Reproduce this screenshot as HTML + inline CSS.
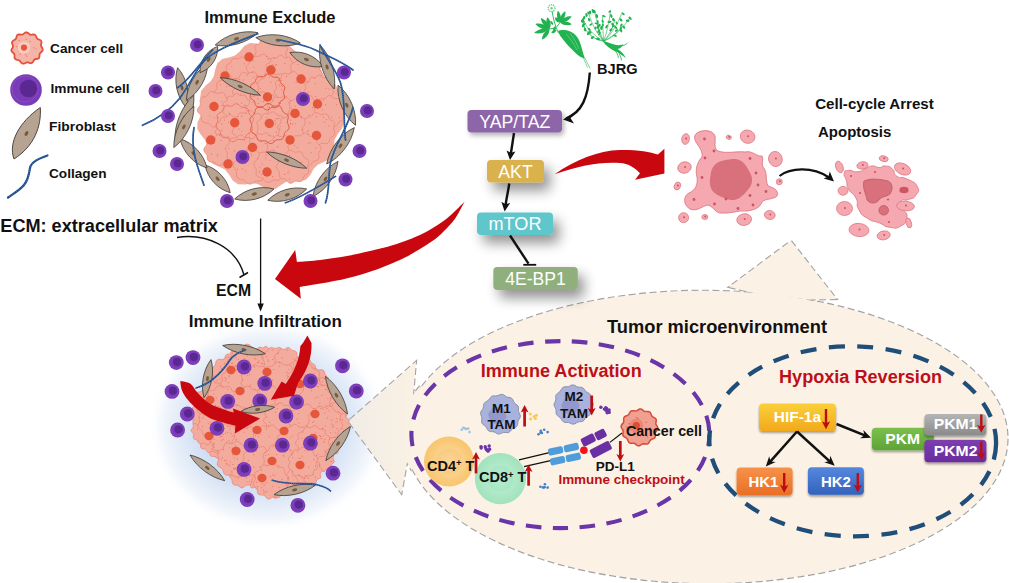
<!DOCTYPE html>
<html lang="en"><head><meta charset="utf-8"><title>BJRG mechanism</title>
<style>html,body{margin:0;padding:0;background:#fff;}body{width:1009px;height:583px;overflow:hidden;}svg{display:block;}</style>
</head><body>
<svg width="1009" height="583" viewBox="0 0 1009 583" font-family='"Liberation Sans", Arial, Helvetica, sans-serif'>
<defs>
<filter id="sh" x="-30%" y="-50%" width="180%" height="260%"><feGaussianBlur in="SourceAlpha" stdDeviation="6.5"/><feOffset dx="6" dy="8"/><feComponentTransfer><feFuncA type="linear" slope="0.43"/></feComponentTransfer><feMerge><feMergeNode/><feMergeNode in="SourceGraphic"/></feMerge></filter>
<filter id="sh2" x="-30%" y="-50%" width="180%" height="260%"><feGaussianBlur in="SourceAlpha" stdDeviation="2.5"/><feOffset dx="2" dy="3"/><feComponentTransfer><feFuncA type="linear" slope="0.3"/></feComponentTransfer><feMerge><feMergeNode/><feMergeNode in="SourceGraphic"/></feMerge></filter>
<filter id="sh3" x="-10%" y="-20%" width="120%" height="150%"><feGaussianBlur in="SourceAlpha" stdDeviation="1.2"/><feOffset dx="0" dy="1.5"/><feComponentTransfer><feFuncA type="linear" slope="0.35"/></feComponentTransfer><feMerge><feMergeNode/><feMergeNode in="SourceGraphic"/></feMerge></filter>
<linearGradient id="tipg" gradientUnits="userSpaceOnUse" x1="348" y1="0" x2="416" y2="0"><stop offset="0" stop-color="#f0ece6"/><stop offset="1" stop-color="#fbf1e4"/></linearGradient>
<radialGradient id="glow"><stop offset="0" stop-color="#c9d9f1"/><stop offset="0.58" stop-color="#d0def3"/><stop offset="0.76" stop-color="#e4ecf8"/><stop offset="0.9" stop-color="#f5f8fc"/><stop offset="1" stop-color="#ffffff" stop-opacity="0"/></radialGradient>
<linearGradient id="gY" x1="0" y1="0" x2="0" y2="1"><stop offset="0" stop-color="#fbd03a"/><stop offset="1" stop-color="#f2a91c"/></linearGradient>
<linearGradient id="gO" x1="0" y1="0" x2="0" y2="1"><stop offset="0" stop-color="#f6924a"/><stop offset="1" stop-color="#e96f25"/></linearGradient>
<linearGradient id="gB" x1="0" y1="0" x2="0" y2="1"><stop offset="0" stop-color="#5588dd"/><stop offset="1" stop-color="#3262bd"/></linearGradient>
<linearGradient id="gG" x1="0" y1="0" x2="0" y2="1"><stop offset="0" stop-color="#7cc04e"/><stop offset="1" stop-color="#5ea336"/></linearGradient>
<linearGradient id="gGr" x1="0" y1="0" x2="0" y2="1"><stop offset="0" stop-color="#b5b5b5"/><stop offset="1" stop-color="#8a8a8a"/></linearGradient>
<linearGradient id="gP" x1="0" y1="0" x2="0" y2="1"><stop offset="0" stop-color="#7d3fb0"/><stop offset="1" stop-color="#6a2c9c"/></linearGradient>
<radialGradient id="cd4"><stop offset="0" stop-color="#fbd595"/><stop offset="0.5" stop-color="#f9cb80"/><stop offset="0.52" stop-color="#fad18c"/><stop offset="0.8" stop-color="#f9c977"/><stop offset="1" stop-color="#f8c670"/></radialGradient>
<radialGradient id="cd8"><stop offset="0" stop-color="#b7ecd0"/><stop offset="0.5" stop-color="#a7e6c3"/><stop offset="0.52" stop-color="#b2e9ca"/><stop offset="1" stop-color="#a0e3bd"/></radialGradient>
<marker id="ah" viewBox="0 0 10 10" refX="7" refY="5" markerWidth="5" markerHeight="5" orient="auto-start-reverse" markerUnits="strokeWidth"><path d="M0,0.5 L10,5 L0,9.5 L2.5,5Z" fill="#111"/></marker>
</defs>
<rect width="1009" height="583" fill="#ffffff"/>
<ellipse cx="268" cy="426" rx="120" ry="106" fill="url(#glow)"/>
<ellipse cx="706" cy="437" rx="301.5" ry="146.2" transform="rotate(0.35 706 437)" fill="#fbf1e4" stroke="#a3a3a3" stroke-width="2.2" stroke-dasharray="7 3.5"/>
<path d="M420,386 L413,395 L416,361.6 L348.5,421 L401.4,493.4 L407,462.3 L412,471" fill="#fbf1e4" stroke="#a3a3a3" stroke-width="2.2" stroke-dasharray="7 3.5"/>
<path d="M756,293.5 L729,287 L791,241 L836.5,299 L810,299.5" fill="#fbf1e4" stroke="#a3a3a3" stroke-width="2.2" stroke-dasharray="7 3.5"/>
<ellipse cx="706" cy="437" rx="301.5" ry="146.2" transform="rotate(0.35 706 437)" fill="#fbf1e4"/>
<path d="M420,386 L413,395 L416,361.6 L348.5,421 L401.4,493.4 L407,462.3 L412,471" fill="url(#tipg)"/>
<path d="M756,293.5 L729,287 L791,241 L836.5,299 L810,299.5" fill="#fbf1e4"/>
<path d="M420,386 L412,471 L409,440 Z" fill="#fbf1e4"/>
<ellipse cx="560.4" cy="434.6" rx="149" ry="93.5" fill="none" stroke="#6a35a8" stroke-width="4.1" stroke-dasharray="15.5 11.5" stroke-dashoffset="4"/>
<ellipse cx="852.7" cy="441.3" rx="143.4" ry="95" fill="none" stroke="#1f4e79" stroke-width="4.3" stroke-dasharray="16 12.5" transform="rotate(1 852.7 441.3)"/>
<path d="M42.3,48.1 L42.8,49.5 L42.4,50.9 L41.3,52.0 L40.2,53.0 L39.6,54.1 L39.5,55.4 L39.4,56.9 L38.8,58.2 L37.5,58.8 L36.0,59.0 L34.7,59.4 L33.9,60.3 L33.1,61.7 L32.2,62.8 L30.9,63.2 L29.4,62.9 L28.1,62.4 L26.8,62.4 L25.5,63.0 L24.1,63.7 L22.6,63.7 L21.4,62.9 L20.5,61.7 L19.6,60.6 L18.5,60.0 L17.0,59.8 L15.6,59.3 L14.7,58.3 L14.5,56.7 L14.5,55.2 L14.2,54.0 L13.3,53.0 L12.1,52.0 L11.4,50.8 L11.6,49.4 L12.3,48.1 L12.9,46.9 L12.9,45.6 L12.4,44.2 L12.0,42.7 L12.4,41.4 L13.5,40.4 L14.8,39.7 L15.8,38.9 L16.3,37.6 L16.7,36.1 L17.5,34.8 L18.9,34.3 L20.4,34.5 L21.9,34.6 L23.1,34.3 L24.2,33.4 L25.4,32.5 L26.8,32.4 L28.1,33.1 L29.3,34.1 L30.4,34.8 L31.7,34.7 L33.2,34.5 L34.6,34.6 L35.7,35.5 L36.3,36.8 L36.8,38.1 L37.7,39.0 L39.0,39.5 L40.5,40.2 L41.4,41.3 L41.5,42.8 L41.1,44.3 L41.0,45.6 L41.5,46.8Z" fill="#f4b4a7" stroke="#e2523a" stroke-width="1.8"/>
<circle cx="26.6" cy="56.2" r="0.6" fill="#e4705f"/>
<circle cx="20.1" cy="54.3" r="0.6" fill="#e4705f"/>
<circle cx="22.2" cy="44.2" r="0.6" fill="#e4705f"/>
<circle cx="36.0" cy="48.8" r="0.6" fill="#e4705f"/>
<circle cx="25.6" cy="54.4" r="0.6" fill="#e4705f"/>
<circle cx="33.8" cy="47.8" r="0.6" fill="#e4705f"/>
<circle cx="30.0" cy="41.3" r="0.6" fill="#e4705f"/>
<circle cx="22.2" cy="43.5" r="0.6" fill="#e4705f"/>
<circle cx="19.2" cy="40.4" r="0.6" fill="#e4705f"/>
<circle cx="16.7" cy="46.6" r="0.6" fill="#e4705f"/>
<circle cx="23.4" cy="43.3" r="0.6" fill="#e4705f"/>
<circle cx="26.4" cy="39.5" r="0.6" fill="#e4705f"/>
<circle cx="24" cy="47.6" r="6.2" fill="#f8cbc0"/><circle cx="24" cy="47.6" r="3.1" fill="#e5563b"/>
<text x="50" y="52.5" font-size="13.5" fill="#111" font-weight="bold" text-anchor="start" textLength="73" lengthAdjust="spacingAndGlyphs" >Cancer cell</text>
<circle cx="26" cy="90" r="15.8" fill="#7a3bb8"/><circle cx="25" cy="89" r="13" fill="none" stroke="#9a63d0" stroke-width="0.8" opacity="0.5"/><circle cx="28.5" cy="88.5" r="8.8" fill="#5b2790"/>
<text x="50.5" y="92.5" font-size="13.5" fill="#111" font-weight="bold" text-anchor="start" textLength="79" lengthAdjust="spacingAndGlyphs" >Immune cell</text>
<path d="M40.3,107.5 C41.5,126 34.5,146 14,159 C8,143 19,122 40.3,107.5Z" fill="#b7a391" stroke="#3b3632" stroke-width="0.9" stroke-linejoin="round"/>
<ellipse cx="26.5" cy="133.5" rx="2.6" ry="1.7" fill="#7b5b3c" transform="rotate(-60 26.5 133.5)"/>
<text x="49" y="130.5" font-size="13.5" fill="#111" font-weight="bold" text-anchor="start" textLength="67" lengthAdjust="spacingAndGlyphs" >Fibroblast</text>
<path d="M47.5,155.5 C38,159 31,162 30,168 C29,175 28,180 24,185 C20,190 13,194 8,197.5" fill="none" stroke="#1b4a8c" stroke-width="2.2" stroke-linecap="round"/>
<path d="M47.5,155.5 C38,159 31,162 30,168 C29,175 28,180 24,185 C20,190 13,194 8,197.5" fill="none" stroke="#7fa6dc" stroke-width="0.6" stroke-dasharray="0.8 1.3"/>
<text x="49" y="178" font-size="13.5" fill="#111" font-weight="bold" text-anchor="start" textLength="57.5" lengthAdjust="spacingAndGlyphs" >Collagen</text>
<text x="204.5" y="23" font-size="16.5" fill="#111" font-weight="bold" text-anchor="start" textLength="131" lengthAdjust="spacingAndGlyphs" >Immune Exclude</text>
<text x="0.3" y="232.3" font-size="17.6" fill="#111" font-weight="bold" text-anchor="start" textLength="217.5" lengthAdjust="spacingAndGlyphs" >ECM: extracellular matrix</text>
<text x="216" y="295.6" font-size="16.5" fill="#111" font-weight="bold" text-anchor="start" textLength="35" lengthAdjust="spacingAndGlyphs" >ECM</text>
<text x="188.8" y="326.5" font-size="17" fill="#111" font-weight="bold" text-anchor="start" textLength="153" lengthAdjust="spacingAndGlyphs" >Immune Infiltration</text>
<path d="M177,237.5 C205,233 236,246 244,275" fill="none" stroke="#111" stroke-width="1.4"/>
<path d="M239.5,277.5 L248,272.5" fill="none" stroke="#111" stroke-width="1.6"/>
<path d="M260.6,218.5 L260.6,305" stroke="#111" stroke-width="1.3" fill="none"/>
<path d="M257.4,303.5 L260.6,311.5 L263.8,303.5Z" fill="#111"/>
<path d="M342.5,116.0 L344.0,122.6 L341.7,128.9 L337.4,134.4 L334.5,139.9 L334.1,146.4 L333.5,153.3 L330.0,158.8 L323.9,162.1 L317.7,164.7 L313.5,169.0 L310.3,174.9 L306.0,179.8 L299.7,181.5 L292.9,180.9 L286.9,181.5 L281.5,184.8 L275.8,188.7 L269.5,189.7 L263.3,187.2 L257.6,184.0 L251.7,183.2 L244.8,184.4 L238.0,184.2 L232.7,180.4 L229.0,174.5 L225.0,169.6 L219.3,166.7 L212.9,164.0 L208.5,159.2 L207.2,152.3 L207.0,145.4 L204.9,139.7 L200.7,134.6 L197.3,128.9 L197.5,122.4 L200.5,116.0 L202.6,110.1 L201.9,104.0 L200.2,97.3 L201.1,90.9 L205.4,85.8 L210.5,81.6 L213.7,76.5 L215.1,69.9 L217.3,63.3 L222.2,59.1 L228.9,57.4 L235.0,55.6 L239.7,51.5 L244.3,46.1 L250.1,43.0 L256.9,43.6 L263.4,45.9 L269.5,46.3 L275.7,44.3 L282.3,42.8 L288.4,44.7 L293.4,49.6 L298.0,54.2 L303.7,56.2 L310.4,57.0 L316.3,59.7 L319.7,65.3 L321.7,71.8 L324.8,76.9 L330.1,80.6 L335.7,84.8 L338.4,90.7 L337.9,97.5 L337.2,103.9 L339.0,109.9Z" fill="#f3ab9e"/>
<path d="M285.9,52.6 L285.7,53.9 L286.1,55.2 L286.7,56.8 L286.9,58.4 L286.2,59.7 L284.8,60.6 L283.3,61.2 L282.3,62.1 L281.7,63.3 L281.3,65.0 L280.6,66.4 L279.4,67.2 L277.8,67.2 L276.1,66.9 L274.8,66.9 L273.5,67.4 L272.3,68.5 L270.9,69.4 L269.4,69.5 L268.1,68.7 L266.9,67.5 L265.9,66.5 L264.6,66.1 L263.0,66.2 L261.4,66.2 L260.0,65.6 L259.2,64.3 L259.0,62.6 L258.7,61.1 L258.0,60.0 L256.8,59.2 L255.4,58.2 L254.5,57.0 L254.5,55.5 L255.2,53.9 L255.9,52.6 L256.2,51.3 L255.7,49.9 L255.1,48.3 L255.0,46.8 L255.7,45.4 L257.1,44.6 L258.5,43.9 L259.6,43.1 L260.1,41.8 L260.5,40.2 L261.2,38.7 L262.5,37.9 L264.1,37.9 L265.7,38.2 L267.1,38.3 L268.3,37.7 L269.5,36.6 L270.9,35.8 L272.4,35.6 L273.8,36.4 L274.9,37.6 L276.0,38.6 L277.3,39.0 L278.8,38.9 L280.5,38.9 L281.9,39.5 L282.6,40.9 L282.9,42.5 L283.1,44.0 L283.8,45.1 L285.1,46.0 L286.5,46.9 L287.4,48.2 L287.4,49.7 L286.7,51.2Z" fill="#f3ab9e" stroke="#e98674" stroke-width="0.75"/>
<path d="M254.5,72.2 L253.8,73.4 L253.6,74.6 L253.9,75.9 L254.4,77.3 L254.3,78.7 L253.4,79.8 L252.1,80.5 L250.7,81.0 L249.8,81.7 L249.3,82.9 L248.8,84.4 L248.0,85.6 L246.7,86.1 L245.3,85.9 L243.8,85.5 L242.6,85.4 L241.5,86.0 L240.3,86.9 L238.9,87.5 L237.6,87.4 L236.5,86.5 L235.5,85.3 L234.6,84.4 L233.4,84.1 L232.0,84.1 L230.5,83.9 L229.4,83.1 L228.9,81.8 L228.8,80.3 L228.6,79.0 L228.0,78.0 L226.8,77.1 L225.7,76.1 L225.1,74.9 L225.3,73.5 L226.1,72.2 L226.8,71.0 L227.0,69.9 L226.6,68.6 L226.2,67.1 L226.3,65.7 L227.1,64.6 L228.5,64.0 L229.8,63.5 L230.8,62.7 L231.3,61.5 L231.8,60.1 L232.6,58.9 L233.8,58.4 L235.3,58.5 L236.7,58.9 L237.9,59.0 L239.1,58.4 L240.3,57.6 L241.6,56.9 L242.9,57.1 L244.1,58.0 L245.0,59.2 L245.9,60.0 L247.1,60.4 L248.6,60.3 L250.1,60.5 L251.2,61.3 L251.7,62.6 L251.8,64.2 L251.9,65.5 L252.6,66.5 L253.7,67.3 L254.9,68.3 L255.5,69.5 L255.3,70.9Z" fill="#f3ab9e" stroke="#e98674" stroke-width="0.75"/>
<path d="M276.5,69.4 L277.0,70.8 L276.9,72.1 L276.3,73.4 L275.3,74.4 L274.2,75.3 L273.4,76.2 L272.8,77.3 L272.5,78.6 L272.2,80.0 L271.6,81.3 L270.6,82.2 L269.2,82.6 L267.8,82.6 L266.4,82.5 L265.1,82.5 L264.0,82.9 L262.9,83.6 L261.6,84.3 L260.3,84.8 L258.9,84.7 L257.7,84.1 L256.7,83.1 L255.8,82.0 L254.9,81.2 L253.8,80.6 L252.5,80.3 L251.1,80.0 L249.8,79.4 L248.9,78.4 L248.5,77.0 L248.5,75.6 L248.6,74.2 L248.6,72.9 L248.2,71.8 L247.5,70.7 L246.7,69.4 L246.3,68.1 L246.3,66.7 L247.0,65.5 L248.0,64.5 L249.1,63.6 L249.9,62.7 L250.4,61.6 L250.8,60.3 L251.1,58.9 L251.7,57.6 L252.7,56.7 L254.1,56.3 L255.5,56.3 L256.9,56.4 L258.1,56.4 L259.3,56.0 L260.4,55.3 L261.6,54.5 L263.0,54.1 L264.3,54.1 L265.6,54.8 L266.6,55.8 L267.5,56.9 L268.4,57.7 L269.5,58.2 L270.8,58.6 L272.2,58.9 L273.5,59.5 L274.4,60.5 L274.8,61.8 L274.8,63.3 L274.7,64.7 L274.7,65.9 L275.1,67.1 L275.8,68.2Z" fill="#f3ab9e" stroke="#e98674" stroke-width="0.75"/>
<path d="M296.7,71.5 L297.4,72.9 L297.1,74.3 L296.0,75.4 L294.7,76.4 L294.1,77.5 L294.2,79.0 L294.2,80.6 L293.7,82.0 L292.4,82.7 L290.7,82.9 L289.3,83.1 L288.4,84.0 L287.7,85.5 L286.7,86.8 L285.4,87.2 L283.8,86.7 L282.4,85.9 L281.2,85.7 L279.8,86.3 L278.4,87.1 L276.9,87.3 L275.7,86.5 L274.8,85.0 L274.0,83.8 L272.8,83.3 L271.3,83.2 L269.7,82.9 L268.7,81.9 L268.4,80.4 L268.5,78.7 L268.2,77.5 L267.2,76.5 L265.9,75.6 L265.0,74.3 L265.2,72.9 L266.1,71.5 L266.9,70.2 L266.9,69.0 L266.4,67.5 L265.9,65.9 L266.3,64.6 L267.6,63.6 L269.2,63.1 L270.2,62.3 L270.7,61.0 L271.0,59.4 L271.8,58.1 L273.1,57.5 L274.7,57.7 L276.2,58.0 L277.4,57.6 L278.5,56.5 L279.7,55.4 L281.2,55.1 L282.5,55.8 L283.7,57.0 L284.8,57.7 L286.2,57.7 L287.8,57.3 L289.3,57.3 L290.4,58.2 L291.0,59.8 L291.3,61.3 L292.1,62.2 L293.5,62.8 L295.1,63.4 L296.0,64.5 L296.0,66.1 L295.5,67.6 L295.2,69.0 L295.7,70.2Z" fill="#f3ab9e" stroke="#e98674" stroke-width="0.75"/>
<path d="M321.6,72.3 L322.1,73.8 L321.8,75.2 L320.9,76.4 L319.7,77.5 L318.7,78.5 L318.2,79.6 L318.0,81.0 L317.8,82.6 L317.3,84.0 L316.2,85.0 L314.7,85.3 L313.1,85.4 L311.7,85.5 L310.6,86.0 L309.5,87.0 L308.4,88.1 L307.0,88.8 L305.6,88.8 L304.2,88.1 L303.0,87.2 L301.8,86.3 L300.6,86.0 L299.2,86.1 L297.6,86.2 L296.1,85.9 L295.0,85.0 L294.4,83.6 L294.1,82.0 L293.7,80.6 L293.0,79.6 L291.9,78.7 L290.6,77.8 L289.6,76.6 L289.4,75.2 L289.8,73.7 L290.6,72.3 L291.2,71.1 L291.3,69.8 L291.0,68.4 L290.6,66.9 L290.6,65.4 L291.3,64.1 L292.6,63.2 L294.1,62.7 L295.4,62.1 L296.3,61.2 L296.9,59.9 L297.6,58.5 L298.6,57.4 L300.0,56.9 L301.5,57.0 L303.0,57.5 L304.3,57.9 L305.6,57.8 L306.9,57.3 L308.4,56.6 L309.9,56.4 L311.2,56.9 L312.3,58.0 L313.1,59.3 L313.9,60.5 L314.9,61.2 L316.3,61.6 L317.8,62.1 L319.1,62.9 L319.9,64.1 L320.0,65.6 L319.7,67.2 L319.6,68.6 L319.9,69.8 L320.7,71.0Z" fill="#f3ab9e" stroke="#e98674" stroke-width="0.75"/>
<path d="M245.6,91.8 L244.8,93.1 L244.1,94.3 L243.6,95.4 L243.5,96.7 L243.6,98.1 L243.6,99.6 L243.2,101.0 L242.4,102.0 L241.1,102.7 L239.6,103.1 L238.3,103.4 L237.1,103.8 L236.2,104.7 L235.3,105.7 L234.2,106.8 L233.0,107.5 L231.6,107.6 L230.2,107.2 L228.9,106.5 L227.8,105.7 L226.6,105.2 L225.4,105.1 L223.9,105.2 L222.5,105.2 L221.1,104.9 L220.0,104.0 L219.3,102.7 L218.9,101.3 L218.7,99.9 L218.2,98.8 L217.4,97.8 L216.3,96.9 L215.2,95.8 L214.5,94.6 L214.4,93.2 L214.8,91.8 L215.6,90.5 L216.3,89.4 L216.8,88.2 L216.9,87.0 L216.8,85.6 L216.8,84.1 L217.2,82.7 L218.0,81.6 L219.3,80.9 L220.8,80.6 L222.1,80.3 L223.3,79.8 L224.2,79.0 L225.1,77.9 L226.2,76.9 L227.4,76.1 L228.8,76.0 L230.2,76.4 L231.5,77.2 L232.6,77.9 L233.8,78.4 L235.0,78.5 L236.5,78.4 L237.9,78.4 L239.3,78.8 L240.4,79.6 L241.1,80.9 L241.5,82.4 L241.7,83.7 L242.2,84.9 L243.0,85.8 L244.1,86.8 L245.2,87.8 L245.9,89.1 L246.0,90.4Z" fill="#f3ab9e" stroke="#e98674" stroke-width="0.75"/>
<path d="M266.6,88.6 L266.8,90.2 L266.3,91.6 L265.2,92.9 L264.0,93.9 L263.2,95.0 L262.9,96.4 L262.8,98.0 L262.6,99.6 L261.8,101.0 L260.5,101.8 L258.8,102.0 L257.2,102.1 L255.9,102.4 L254.8,103.2 L253.7,104.4 L252.4,105.5 L251.0,106.0 L249.4,105.8 L248.0,104.9 L246.7,103.9 L245.5,103.3 L244.1,103.2 L242.5,103.4 L240.9,103.5 L239.4,102.9 L238.4,101.8 L237.9,100.2 L237.6,98.6 L237.0,97.3 L236.0,96.4 L234.7,95.5 L233.4,94.5 L232.6,93.2 L232.6,91.6 L233.2,90.1 L233.9,88.6 L234.3,87.3 L234.2,85.9 L233.7,84.4 L233.4,82.8 L233.6,81.2 L234.6,80.1 L236.1,79.3 L237.6,78.7 L238.7,77.9 L239.5,76.7 L240.1,75.3 L240.9,73.8 L242.1,72.8 L243.6,72.5 L245.2,72.9 L246.7,73.3 L248.1,73.5 L249.4,73.1 L250.9,72.4 L252.4,71.8 L254.0,71.8 L255.3,72.5 L256.3,73.8 L257.2,75.2 L258.2,76.2 L259.4,76.7 L261.0,77.1 L262.6,77.6 L263.8,78.6 L264.3,80.1 L264.2,81.7 L264.0,83.3 L264.1,84.7 L264.7,85.9 L265.7,87.2Z" fill="#f3ab9e" stroke="#e98674" stroke-width="0.75"/>
<path d="M290.3,90.2 L289.9,91.6 L289.9,93.0 L290.3,94.5 L290.6,96.2 L290.5,97.8 L289.9,99.2 L288.6,100.3 L287.1,101.0 L285.6,101.6 L284.3,102.3 L283.4,103.3 L282.5,104.6 L281.6,106.0 L280.4,107.1 L278.9,107.7 L277.3,107.5 L275.7,106.9 L274.2,106.3 L272.9,105.9 L271.5,105.9 L269.9,106.3 L268.3,106.6 L266.6,106.5 L265.2,105.9 L264.1,104.6 L263.4,103.1 L262.9,101.6 L262.2,100.3 L261.2,99.4 L259.8,98.5 L258.4,97.6 L257.3,96.4 L256.8,94.9 L256.9,93.3 L257.5,91.7 L258.2,90.2 L258.6,88.8 L258.5,87.4 L258.2,85.9 L257.8,84.2 L257.9,82.6 L258.6,81.2 L259.8,80.1 L261.4,79.4 L262.9,78.8 L264.1,78.2 L265.1,77.1 L265.9,75.8 L266.9,74.4 L268.1,73.3 L269.6,72.8 L271.2,72.9 L272.8,73.5 L274.2,74.1 L275.6,74.5 L277.0,74.5 L278.5,74.2 L280.2,73.8 L281.8,73.9 L283.3,74.6 L284.3,75.8 L285.0,77.3 L285.6,78.8 L286.3,80.1 L287.3,81.1 L288.6,81.9 L290.0,82.8 L291.1,84.1 L291.7,85.5 L291.6,87.2 L291.0,88.7Z" fill="#f3ab9e" stroke="#e98674" stroke-width="0.75"/>
<path d="M308.2,89.3 L307.6,90.7 L307.6,92.1 L308.2,93.7 L308.6,95.4 L308.3,96.9 L307.1,98.0 L305.4,98.7 L304.0,99.4 L303.1,100.5 L302.6,102.0 L302.0,103.7 L301.0,104.9 L299.4,105.2 L297.7,104.9 L296.1,104.6 L294.7,104.7 L293.4,105.6 L292.0,106.6 L290.4,107.2 L288.9,106.8 L287.6,105.6 L286.6,104.3 L285.4,103.5 L283.9,103.3 L282.2,103.4 L280.5,103.0 L279.4,101.9 L279.0,100.3 L278.9,98.5 L278.5,97.1 L277.5,96.1 L276.1,95.1 L274.8,93.9 L274.4,92.4 L274.8,90.8 L275.8,89.3 L276.4,88.0 L276.4,86.6 L275.8,85.0 L275.4,83.3 L275.7,81.7 L276.9,80.6 L278.6,79.9 L280.0,79.2 L280.9,78.2 L281.4,76.7 L282.0,75.0 L283.0,73.8 L284.6,73.4 L286.3,73.7 L287.9,74.1 L289.3,73.9 L290.6,73.1 L292.0,72.0 L293.6,71.5 L295.1,71.9 L296.4,73.1 L297.4,74.4 L298.6,75.2 L300.1,75.3 L301.8,75.3 L303.5,75.6 L304.6,76.7 L305.0,78.4 L305.2,80.1 L305.5,81.5 L306.5,82.6 L307.9,83.5 L309.2,84.7 L309.6,86.2 L309.2,87.8Z" fill="#f3ab9e" stroke="#e98674" stroke-width="0.75"/>
<path d="M332.9,90.3 L333.7,91.6 L333.8,92.9 L333.0,94.0 L331.7,94.9 L330.9,95.8 L330.6,97.0 L330.7,98.6 L330.5,100.0 L329.5,100.9 L328.0,101.1 L326.6,101.2 L325.5,101.7 L324.8,102.9 L324.0,104.2 L322.8,104.9 L321.4,104.7 L320.1,104.0 L318.9,103.5 L317.7,103.7 L316.4,104.4 L315.0,104.8 L313.8,104.4 L312.9,103.2 L312.2,101.9 L311.3,101.1 L310.0,100.9 L308.5,100.7 L307.3,100.0 L306.8,98.7 L306.9,97.2 L306.9,95.9 L306.3,94.9 L305.1,94.0 L304.1,92.9 L303.9,91.6 L304.6,90.3 L305.5,89.1 L305.9,88.0 L305.6,86.7 L305.1,85.2 L305.2,83.9 L306.1,82.9 L307.5,82.3 L308.8,81.8 L309.4,80.8 L309.8,79.4 L310.3,78.0 L311.4,77.2 L312.8,77.2 L314.3,77.6 L315.5,77.5 L316.5,76.8 L317.6,75.7 L318.9,75.1 L320.2,75.5 L321.3,76.5 L322.3,77.5 L323.5,77.7 L324.9,77.5 L326.4,77.3 L327.6,77.9 L328.2,79.2 L328.5,80.7 L329.0,81.8 L330.1,82.5 L331.5,83.0 L332.6,83.9 L332.9,85.2 L332.5,86.6 L332.0,88.0 L332.1,89.1Z" fill="#f3ab9e" stroke="#e98674" stroke-width="0.75"/>
<path d="M231.5,109.1 L232.2,110.5 L232.9,112.2 L232.9,113.8 L232.2,115.2 L230.9,116.3 L229.5,117.2 L228.3,118.1 L227.7,119.4 L227.3,121.0 L226.8,122.6 L225.8,123.9 L224.4,124.6 L222.6,124.5 L221.0,124.3 L219.5,124.3 L218.2,124.9 L216.9,125.8 L215.4,126.8 L213.9,127.1 L212.3,126.7 L211.0,125.6 L209.9,124.3 L208.8,123.4 L207.4,123.0 L205.8,122.9 L204.1,122.6 L202.6,121.9 L201.8,120.6 L201.5,118.9 L201.4,117.2 L201.2,115.7 L200.4,114.6 L199.2,113.4 L198.0,112.2 L197.4,110.7 L197.6,109.1 L198.4,107.6 L199.5,106.3 L200.2,105.0 L200.4,103.6 L200.2,102.0 L200.1,100.2 L200.6,98.7 L201.8,97.6 L203.4,97.0 L205.0,96.7 L206.4,96.2 L207.4,95.2 L208.3,93.8 L209.4,92.5 L210.7,91.6 L212.3,91.5 L213.9,92.1 L215.4,92.9 L216.8,93.4 L218.2,93.3 L219.8,92.8 L221.5,92.5 L223.1,92.7 L224.4,93.6 L225.2,95.1 L225.8,96.7 L226.6,97.9 L227.7,98.8 L229.2,99.4 L230.7,100.2 L231.9,101.4 L232.2,103.0 L231.9,104.7 L231.4,106.3 L231.1,107.7Z" fill="#f3ab9e" stroke="#e98674" stroke-width="0.75"/>
<path d="M252.6,108.7 L252.8,110.0 L251.9,111.2 L250.8,112.2 L250.1,113.2 L250.0,114.4 L250.3,116.0 L250.1,117.4 L249.1,118.3 L247.6,118.7 L246.2,118.9 L245.3,119.6 L244.7,120.9 L243.9,122.2 L242.8,123.0 L241.4,122.8 L240.0,122.2 L238.7,121.9 L237.6,122.3 L236.3,123.2 L234.9,123.6 L233.7,123.2 L232.7,122.0 L231.9,120.8 L230.9,120.2 L229.5,120.2 L228.0,120.1 L226.8,119.4 L226.3,118.1 L226.3,116.6 L226.1,115.3 L225.3,114.4 L224.0,113.6 L222.9,112.6 L222.7,111.3 L223.3,109.9 L224.1,108.7 L224.3,107.5 L223.8,106.2 L223.2,104.8 L223.2,103.4 L224.2,102.4 L225.6,101.7 L226.7,101.0 L227.2,100.0 L227.4,98.5 L227.9,97.1 L228.9,96.2 L230.4,96.2 L231.9,96.4 L233.0,96.2 L234.0,95.3 L235.0,94.1 L236.3,93.4 L237.6,93.8 L238.8,94.7 L239.9,95.5 L241.1,95.6 L242.5,95.2 L244.0,95.0 L245.2,95.5 L245.9,96.8 L246.3,98.2 L247.0,99.3 L248.2,99.8 L249.6,100.2 L250.8,101.0 L251.1,102.3 L250.8,103.8 L250.5,105.2 L250.8,106.3 L251.7,107.4Z" fill="#f3ab9e" stroke="#e98674" stroke-width="0.75"/>
<path d="M279.7,108.3 L279.1,109.7 L278.2,111.0 L277.3,112.1 L276.7,113.3 L276.4,114.6 L276.4,116.1 L276.3,117.6 L275.8,119.1 L274.8,120.1 L273.4,120.7 L271.9,121.0 L270.4,121.2 L269.1,121.5 L268.1,122.3 L267.0,123.3 L265.8,124.3 L264.4,125.0 L263.0,125.0 L261.6,124.5 L260.3,123.5 L259.1,122.6 L258.0,122.0 L256.7,121.8 L255.2,121.7 L253.7,121.6 L252.2,121.1 L251.2,120.1 L250.6,118.7 L250.3,117.2 L250.1,115.7 L249.8,114.5 L249.0,113.4 L248.0,112.3 L247.0,111.1 L246.3,109.8 L246.3,108.3 L246.8,106.9 L247.7,105.6 L248.7,104.5 L249.3,103.3 L249.5,102.0 L249.6,100.6 L249.7,99.0 L250.2,97.6 L251.2,96.5 L252.6,95.9 L254.1,95.6 L255.6,95.5 L256.8,95.1 L257.9,94.3 L259.0,93.3 L260.2,92.3 L261.5,91.7 L263.0,91.6 L264.4,92.2 L265.7,93.1 L266.8,94.0 L268.0,94.6 L269.3,94.8 L270.7,94.9 L272.3,95.0 L273.7,95.5 L274.8,96.5 L275.4,97.9 L275.7,99.4 L275.8,100.9 L276.2,102.1 L276.9,103.2 L278.0,104.3 L279.0,105.5 L279.6,106.9Z" fill="#f3ab9e" stroke="#e98674" stroke-width="0.75"/>
<path d="M297.2,111.1 L297.2,112.4 L296.5,113.6 L295.5,114.7 L294.6,115.7 L294.1,116.7 L294.0,118.0 L294.0,119.5 L293.6,120.9 L292.8,121.9 L291.5,122.4 L290.0,122.6 L288.7,122.7 L287.6,123.2 L286.7,124.2 L285.8,125.3 L284.6,126.1 L283.3,126.3 L282.0,125.9 L280.7,125.0 L279.6,124.3 L278.5,124.0 L277.2,124.2 L275.7,124.4 L274.3,124.3 L273.2,123.6 L272.5,122.4 L272.0,121.0 L271.7,119.7 L271.0,118.8 L269.9,118.0 L268.6,117.3 L267.6,116.3 L267.2,115.0 L267.4,113.6 L268.0,112.3 L268.5,111.1 L268.6,109.9 L268.2,108.7 L267.8,107.3 L267.6,105.9 L268.1,104.6 L269.2,103.7 L270.5,103.0 L271.7,102.4 L272.5,101.6 L273.0,100.4 L273.5,99.0 L274.3,97.9 L275.5,97.2 L276.9,97.2 L278.3,97.5 L279.6,97.8 L280.8,97.7 L282.0,97.1 L283.2,96.4 L284.6,96.0 L285.9,96.3 L287.0,97.2 L287.9,98.4 L288.7,99.4 L289.6,100.1 L290.9,100.4 L292.3,100.7 L293.6,101.3 L294.5,102.3 L294.8,103.7 L294.7,105.2 L294.6,106.5 L294.9,107.6 L295.7,108.7 L296.6,109.8Z" fill="#f3ab9e" stroke="#e98674" stroke-width="0.75"/>
<path d="M317.4,109.5 L317.1,110.7 L317.2,111.9 L317.5,113.3 L317.8,114.7 L317.7,116.1 L317.1,117.3 L316.0,118.2 L314.6,118.8 L313.4,119.3 L312.3,119.9 L311.5,120.8 L310.8,122.0 L310.0,123.2 L308.9,124.2 L307.6,124.6 L306.2,124.4 L304.8,123.9 L303.6,123.4 L302.4,123.1 L301.2,123.1 L299.8,123.5 L298.4,123.7 L297.0,123.6 L295.8,123.0 L294.9,121.9 L294.3,120.6 L293.8,119.3 L293.2,118.3 L292.3,117.5 L291.1,116.7 L289.9,115.9 L289.0,114.8 L288.5,113.6 L288.7,112.1 L289.2,110.8 L289.8,109.5 L290.0,108.3 L290.0,107.1 L289.6,105.8 L289.4,104.4 L289.5,102.9 L290.1,101.7 L291.2,100.8 L292.5,100.2 L293.8,99.7 L294.8,99.1 L295.7,98.2 L296.4,97.0 L297.2,95.8 L298.3,94.9 L299.6,94.5 L301.0,94.6 L302.3,95.1 L303.6,95.7 L304.8,96.0 L306.0,95.9 L307.3,95.6 L308.8,95.3 L310.2,95.4 L311.4,96.0 L312.3,97.1 L312.9,98.5 L313.4,99.7 L314.0,100.8 L314.9,101.6 L316.1,102.3 L317.3,103.1 L318.2,104.2 L318.6,105.5 L318.5,106.9 L318.0,108.3Z" fill="#f3ab9e" stroke="#e98674" stroke-width="0.75"/>
<path d="M344.4,111.4 L343.8,112.7 L343.5,113.9 L343.8,115.2 L344.1,116.6 L344.2,118.1 L343.6,119.4 L342.5,120.3 L341.0,120.8 L339.7,121.3 L338.8,122.1 L338.1,123.2 L337.5,124.6 L336.5,125.8 L335.3,126.4 L333.8,126.3 L332.4,125.8 L331.1,125.4 L329.9,125.3 L328.6,125.8 L327.2,126.4 L325.8,126.7 L324.4,126.4 L323.4,125.4 L322.6,124.1 L321.8,122.9 L320.9,122.1 L319.7,121.6 L318.2,121.2 L316.9,120.5 L316.1,119.4 L315.9,117.9 L316.1,116.4 L316.4,115.1 L316.2,113.9 L315.5,112.7 L314.7,111.4 L314.1,110.1 L314.2,108.7 L315.0,107.5 L316.1,106.4 L317.2,105.5 L317.8,104.5 L318.1,103.2 L318.2,101.7 L318.7,100.3 L319.6,99.3 L321.0,98.8 L322.6,98.8 L323.9,98.8 L325.1,98.4 L326.1,97.5 L327.2,96.5 L328.5,95.7 L329.9,95.5 L331.2,96.1 L332.4,97.1 L333.5,97.9 L334.6,98.4 L335.9,98.4 L337.5,98.3 L338.9,98.5 L340.1,99.3 L340.7,100.6 L341.0,102.1 L341.3,103.4 L341.9,104.5 L342.9,105.3 L344.1,106.2 L345.1,107.3 L345.5,108.7 L345.2,110.1Z" fill="#f3ab9e" stroke="#e98674" stroke-width="0.75"/>
<path d="M244.9,129.8 L245.4,131.1 L245.1,132.4 L243.9,133.4 L242.8,134.3 L242.4,135.4 L242.5,136.8 L242.5,138.4 L241.9,139.6 L240.6,140.1 L239.1,140.3 L237.9,140.6 L237.1,141.6 L236.4,143.0 L235.5,144.1 L234.2,144.3 L232.7,143.8 L231.4,143.1 L230.3,143.1 L229.0,143.7 L227.7,144.5 L226.3,144.5 L225.2,143.6 L224.4,142.3 L223.6,141.3 L222.5,140.9 L221.0,140.8 L219.5,140.5 L218.7,139.5 L218.5,138.0 L218.6,136.5 L218.2,135.4 L217.2,134.5 L215.9,133.6 L215.2,132.4 L215.5,131.1 L216.4,129.8 L217.0,128.6 L217.0,127.4 L216.4,126.0 L216.0,124.6 L216.5,123.4 L217.8,122.6 L219.2,122.0 L220.1,121.2 L220.5,120.0 L220.8,118.4 L221.5,117.3 L222.8,116.9 L224.4,117.1 L225.7,117.3 L226.8,116.8 L227.8,115.7 L229.0,114.7 L230.3,114.6 L231.5,115.3 L232.6,116.4 L233.7,117.0 L235.0,116.8 L236.5,116.4 L237.9,116.6 L238.8,117.5 L239.3,119.0 L239.7,120.3 L240.5,121.1 L241.9,121.6 L243.3,122.2 L244.1,123.3 L244.0,124.8 L243.5,126.2 L243.3,127.5 L243.9,128.6Z" fill="#f3ab9e" stroke="#e98674" stroke-width="0.75"/>
<path d="M264.4,127.9 L264.3,129.2 L264.9,130.6 L265.5,132.3 L265.5,133.8 L264.6,135.1 L263.1,136.0 L261.7,136.7 L260.7,137.6 L260.3,139.1 L259.9,140.7 L259.1,142.1 L257.7,142.8 L256.0,142.8 L254.4,142.5 L253.0,142.5 L251.8,143.3 L250.5,144.4 L249.1,145.2 L247.6,145.2 L246.2,144.2 L245.0,143.0 L243.9,142.1 L242.5,141.9 L240.8,142.1 L239.2,142.0 L237.8,141.2 L237.2,139.8 L236.9,138.0 L236.6,136.6 L235.7,135.6 L234.3,134.7 L232.9,133.7 L232.2,132.4 L232.3,130.8 L233.1,129.3 L233.8,127.9 L233.8,126.5 L233.3,125.1 L232.6,123.5 L232.6,121.9 L233.5,120.6 L235.0,119.7 L236.4,119.0 L237.4,118.1 L237.9,116.6 L238.3,115.0 L239.1,113.6 L240.4,112.9 L242.1,112.9 L243.8,113.2 L245.1,113.2 L246.3,112.4 L247.6,111.3 L249.1,110.5 L250.6,110.5 L252.0,111.5 L253.1,112.7 L254.3,113.6 L255.6,113.8 L257.3,113.6 L259.0,113.7 L260.3,114.5 L261.0,115.9 L261.2,117.7 L261.6,119.1 L262.4,120.1 L263.8,121.0 L265.2,122.0 L266.0,123.3 L265.8,124.9 L265.1,126.5Z" fill="#f3ab9e" stroke="#e98674" stroke-width="0.75"/>
<path d="M286.6,126.9 L286.0,128.2 L285.1,129.3 L284.3,130.4 L284.0,131.5 L284.0,132.8 L284.1,134.2 L283.9,135.6 L283.1,136.7 L281.8,137.3 L280.4,137.5 L279.1,137.8 L278.1,138.5 L277.3,139.5 L276.5,140.7 L275.4,141.6 L274.1,141.8 L272.8,141.5 L271.5,140.8 L270.3,140.2 L269.2,140.0 L267.9,140.3 L266.5,140.7 L265.1,140.7 L263.9,140.0 L263.1,138.9 L262.6,137.5 L262.1,136.3 L261.3,135.5 L260.1,134.9 L258.8,134.2 L257.7,133.3 L257.2,132.1 L257.4,130.7 L257.9,129.3 L258.2,128.1 L258.2,126.9 L257.7,125.7 L257.1,124.4 L256.8,123.0 L257.2,121.7 L258.2,120.8 L259.5,120.0 L260.6,119.3 L261.3,118.4 L261.7,117.1 L262.1,115.7 L262.8,114.5 L263.9,113.8 L265.3,113.7 L266.7,113.9 L268.0,114.1 L269.2,113.8 L270.3,113.1 L271.5,112.3 L272.8,111.8 L274.1,112.0 L275.3,112.8 L276.2,113.9 L277.1,114.9 L278.1,115.4 L279.4,115.6 L280.9,115.7 L282.2,116.2 L283.1,117.2 L283.4,118.6 L283.5,120.0 L283.5,121.3 L284.0,122.4 L284.9,123.3 L285.9,124.4 L286.6,125.6Z" fill="#f3ab9e" stroke="#e98674" stroke-width="0.75"/>
<path d="M308.6,129.6 L307.6,130.8 L307.0,132.0 L307.3,133.3 L307.8,134.9 L307.8,136.4 L307.0,137.5 L305.5,138.1 L304.1,138.7 L303.2,139.6 L302.8,141.0 L302.3,142.6 L301.3,143.5 L299.8,143.6 L298.2,143.2 L296.9,143.1 L295.7,143.8 L294.6,144.9 L293.2,145.7 L291.8,145.4 L290.6,144.4 L289.5,143.3 L288.4,142.8 L286.9,143.1 L285.3,143.3 L284.0,142.8 L283.2,141.5 L282.9,139.9 L282.4,138.6 L281.4,137.8 L279.9,137.2 L278.6,136.4 L278.2,135.0 L278.6,133.5 L279.2,132.0 L279.2,130.8 L278.4,129.6 L277.5,128.2 L277.3,126.8 L278.1,125.5 L279.4,124.5 L280.5,123.6 L280.8,122.4 L280.7,120.8 L280.9,119.3 L281.9,118.2 L283.4,117.9 L285.0,117.8 L286.2,117.4 L287.0,116.2 L287.9,114.8 L289.0,114.0 L290.5,114.1 L291.9,114.8 L293.2,115.5 L294.5,115.4 L295.8,114.6 L297.4,114.1 L298.7,114.5 L299.7,115.7 L300.4,117.1 L301.3,118.1 L302.6,118.4 L304.2,118.5 L305.6,119.2 L306.2,120.5 L306.1,122.1 L306.0,123.6 L306.6,124.7 L307.8,125.7 L308.9,126.8 L309.3,128.2Z" fill="#f3ab9e" stroke="#e98674" stroke-width="0.75"/>
<path d="M333.5,129.0 L333.9,130.3 L334.6,131.8 L334.9,133.3 L334.6,134.7 L333.5,135.9 L332.2,136.7 L330.9,137.5 L330.0,138.4 L329.5,139.7 L329.1,141.3 L328.4,142.7 L327.2,143.5 L325.7,143.7 L324.1,143.5 L322.6,143.2 L321.3,143.4 L320.1,144.1 L318.8,145.0 L317.3,145.6 L315.9,145.5 L314.6,144.7 L313.5,143.5 L312.6,142.4 L311.5,141.7 L310.1,141.4 L308.5,141.3 L307.0,140.8 L305.9,139.8 L305.5,138.3 L305.4,136.7 L305.4,135.2 L305.0,134.0 L304.1,132.9 L303.0,131.8 L302.2,130.4 L302.0,129.0 L302.6,127.6 L303.6,126.3 L304.5,125.2 L305.0,124.0 L305.0,122.6 L304.9,121.0 L305.1,119.4 L305.9,118.2 L307.3,117.5 L308.9,117.2 L310.3,116.9 L311.5,116.3 L312.4,115.2 L313.3,113.9 L314.5,112.9 L315.9,112.4 L317.4,112.8 L318.8,113.5 L320.1,114.3 L321.3,114.5 L322.7,114.3 L324.3,113.9 L325.9,113.8 L327.2,114.4 L328.1,115.7 L328.7,117.2 L329.2,118.5 L330.0,119.5 L331.2,120.3 L332.7,121.0 L333.9,121.9 L334.6,123.2 L334.5,124.8 L334.0,126.3 L333.5,127.7Z" fill="#f3ab9e" stroke="#e98674" stroke-width="0.75"/>
<path d="M235.3,149.8 L235.0,151.1 L234.3,152.4 L233.3,153.5 L232.5,154.5 L232.0,155.6 L231.8,156.9 L231.7,158.3 L231.4,159.7 L230.7,160.9 L229.5,161.7 L228.1,162.0 L226.7,162.1 L225.4,162.3 L224.2,162.7 L223.2,163.5 L222.1,164.4 L220.9,165.2 L219.5,165.5 L218.2,165.3 L216.9,164.5 L215.9,163.5 L214.8,162.7 L213.7,162.2 L212.5,162.1 L211.0,162.0 L209.6,161.7 L208.4,160.9 L207.6,159.8 L207.3,158.4 L207.2,156.9 L207.1,155.6 L206.6,154.5 L205.9,153.5 L204.9,152.4 L204.1,151.1 L203.8,149.8 L204.1,148.4 L204.8,147.2 L205.8,146.1 L206.6,145.1 L207.1,144.0 L207.3,142.7 L207.4,141.3 L207.7,139.8 L208.4,138.6 L209.6,137.9 L211.0,137.6 L212.4,137.5 L213.7,137.3 L214.8,136.9 L215.9,136.1 L217.0,135.2 L218.2,134.4 L219.5,134.0 L220.9,134.3 L222.1,135.1 L223.2,136.0 L224.3,136.9 L225.3,137.3 L226.6,137.5 L228.1,137.6 L229.5,137.9 L230.7,138.6 L231.4,139.8 L231.8,141.2 L231.9,142.7 L232.0,144.0 L232.5,145.1 L233.2,146.1 L234.2,147.2 L235.0,148.4Z" fill="#f3ab9e" stroke="#e98674" stroke-width="0.75"/>
<path d="M255.1,150.4 L254.4,151.6 L254.0,152.8 L254.2,154.0 L254.5,155.4 L254.6,156.9 L254.2,158.2 L253.1,159.1 L251.7,159.7 L250.4,160.1 L249.4,160.8 L248.7,161.8 L248.1,163.1 L247.2,164.3 L246.0,165.0 L244.6,165.0 L243.2,164.6 L241.9,164.1 L240.7,164.0 L239.5,164.3 L238.1,164.9 L236.7,165.3 L235.4,165.0 L234.3,164.1 L233.5,162.9 L232.8,161.7 L232.0,160.8 L230.8,160.3 L229.4,159.9 L228.1,159.2 L227.2,158.2 L227.0,156.8 L227.2,155.3 L227.4,154.0 L227.4,152.8 L226.8,151.6 L226.0,150.4 L225.4,149.1 L225.4,147.7 L226.1,146.5 L227.2,145.5 L228.2,144.6 L229.0,143.6 L229.3,142.4 L229.4,140.9 L229.8,139.5 L230.7,138.5 L232.0,138.0 L233.5,137.9 L234.9,138.0 L236.1,137.7 L237.1,136.9 L238.1,135.9 L239.4,135.1 L240.7,134.8 L242.0,135.3 L243.2,136.2 L244.3,137.1 L245.3,137.7 L246.6,137.7 L248.1,137.7 L249.5,137.8 L250.7,138.5 L251.4,139.7 L251.7,141.1 L251.9,142.5 L252.4,143.6 L253.3,144.5 L254.5,145.4 L255.6,146.4 L256.0,147.7 L255.8,149.1Z" fill="#f3ab9e" stroke="#e98674" stroke-width="0.75"/>
<path d="M277.6,148.7 L277.9,150.0 L278.7,151.4 L279.1,152.9 L278.6,154.2 L277.3,155.2 L275.9,155.9 L275.1,156.9 L274.9,158.3 L274.7,160.0 L273.9,161.2 L272.5,161.7 L270.8,161.6 L269.4,161.6 L268.4,162.3 L267.4,163.6 L266.2,164.7 L264.8,164.9 L263.4,164.1 L262.1,163.1 L260.9,162.7 L259.6,163.1 L258.0,163.6 L256.5,163.5 L255.5,162.5 L254.8,161.0 L254.3,159.6 L253.2,158.9 L251.7,158.6 L250.2,158.0 L249.3,156.8 L249.4,155.3 L249.8,153.7 L249.7,152.4 L248.9,151.3 L247.7,150.1 L247.1,148.7 L247.5,147.3 L248.6,146.1 L249.6,145.0 L249.9,143.8 L249.6,142.3 L249.5,140.7 L250.1,139.4 L251.5,138.7 L253.1,138.4 L254.3,137.8 L255.0,136.7 L255.6,135.2 L256.5,133.9 L257.9,133.6 L259.5,134.1 L260.9,134.6 L262.2,134.5 L263.4,133.6 L264.8,132.7 L266.2,132.7 L267.5,133.6 L268.4,134.9 L269.4,135.9 L270.7,136.1 L272.3,136.0 L273.9,136.3 L274.8,137.3 L275.1,138.9 L275.2,140.5 L275.8,141.6 L277.0,142.4 L278.4,143.3 L279.2,144.5 L278.9,146.0 L278.1,147.4Z" fill="#f3ab9e" stroke="#e98674" stroke-width="0.75"/>
<path d="M295.8,150.5 L296.5,151.8 L296.7,153.2 L296.2,154.5 L295.1,155.6 L293.9,156.5 L293.0,157.3 L292.6,158.5 L292.3,159.9 L292.0,161.3 L291.3,162.5 L290.1,163.2 L288.6,163.3 L287.1,163.3 L285.9,163.4 L284.8,163.9 L283.7,164.9 L282.5,165.8 L281.2,166.2 L279.8,166.0 L278.6,165.1 L277.6,164.1 L276.5,163.4 L275.3,163.1 L273.9,163.1 L272.4,163.1 L271.1,162.5 L270.2,161.5 L269.8,160.0 L269.7,158.6 L269.4,157.3 L268.6,156.4 L267.5,155.5 L266.4,154.5 L265.7,153.2 L265.7,151.9 L266.4,150.5 L267.2,149.3 L267.7,148.1 L267.8,146.9 L267.5,145.5 L267.3,144.0 L267.6,142.7 L268.5,141.6 L269.8,141.0 L271.3,140.6 L272.4,140.0 L273.2,139.1 L273.9,137.9 L274.7,136.6 L275.8,135.8 L277.2,135.5 L278.6,135.9 L280.0,136.5 L281.2,136.8 L282.4,136.7 L283.7,136.2 L285.2,135.7 L286.6,135.8 L287.7,136.5 L288.6,137.7 L289.3,139.0 L290.0,140.0 L291.0,140.7 L292.3,141.2 L293.7,141.7 L294.8,142.7 L295.2,144.0 L295.1,145.4 L294.8,146.9 L294.7,148.1 L295.0,149.3Z" fill="#f3ab9e" stroke="#e98674" stroke-width="0.75"/>
<path d="M320.6,149.8 L319.7,151.2 L318.9,152.4 L318.5,153.6 L318.6,155.0 L318.9,156.6 L318.8,158.2 L318.1,159.5 L316.8,160.3 L315.2,160.8 L313.8,161.2 L312.7,161.9 L311.9,163.0 L311.1,164.4 L310.0,165.6 L308.6,166.1 L307.1,165.9 L305.6,165.3 L304.3,164.7 L303.0,164.5 L301.6,164.8 L300.1,165.4 L298.6,165.6 L297.2,165.1 L296.1,164.0 L295.4,162.5 L294.7,161.2 L293.9,160.2 L292.6,159.6 L291.1,159.0 L289.8,158.2 L289.0,156.9 L288.9,155.4 L289.3,153.8 L289.7,152.4 L289.6,151.1 L289.0,149.8 L288.3,148.4 L287.8,146.9 L288.0,145.5 L288.9,144.2 L290.2,143.3 L291.4,142.4 L292.2,141.4 L292.6,140.0 L292.9,138.4 L293.5,137.0 L294.6,136.0 L296.1,135.7 L297.7,135.8 L299.2,135.9 L300.5,135.6 L301.6,134.8 L302.9,133.8 L304.3,133.1 L305.8,133.0 L307.1,133.7 L308.3,134.8 L309.4,135.9 L310.5,136.5 L311.9,136.6 L313.5,136.6 L315.1,137.0 L316.2,137.9 L316.8,139.3 L317.0,140.9 L317.1,142.4 L317.6,143.6 L318.6,144.6 L319.8,145.7 L320.8,146.9 L321.1,148.3Z" fill="#f3ab9e" stroke="#e98674" stroke-width="0.75"/>
<path d="M268.8,166.2 L269.0,167.8 L268.4,169.3 L267.4,170.6 L266.2,171.8 L265.3,172.9 L264.7,174.1 L264.4,175.6 L264.2,177.2 L263.6,178.8 L262.6,180.0 L261.2,180.7 L259.5,180.9 L257.9,180.9 L256.4,181.0 L255.1,181.4 L253.9,182.3 L252.6,183.3 L251.1,184.0 L249.5,184.1 L248.0,183.6 L246.7,182.6 L245.6,181.4 L244.5,180.4 L243.2,179.9 L241.7,179.6 L240.1,179.3 L238.5,178.8 L237.3,177.8 L236.6,176.4 L236.4,174.7 L236.5,173.1 L236.4,171.6 L235.9,170.3 L235.0,169.1 L234.0,167.7 L233.3,166.2 L233.2,164.7 L233.7,163.2 L234.7,161.9 L235.9,160.7 L236.9,159.6 L237.5,158.4 L237.7,156.9 L238.0,155.3 L238.5,153.7 L239.5,152.5 L241.0,151.8 L242.6,151.6 L244.3,151.6 L245.7,151.5 L247.0,151.1 L248.2,150.2 L249.6,149.2 L251.1,148.5 L252.6,148.3 L254.1,148.9 L255.4,149.9 L256.6,151.1 L257.7,152.0 L258.9,152.6 L260.4,152.9 L262.1,153.1 L263.6,153.7 L264.8,154.7 L265.5,156.1 L265.7,157.8 L265.7,159.4 L265.8,160.9 L266.3,162.2 L267.1,163.4 L268.1,164.8Z" fill="#f3ab9e" stroke="#e98674" stroke-width="0.75"/>
<path d="M285.7,166.2 L286.2,167.6 L286.2,169.0 L285.6,170.4 L284.6,171.5 L283.4,172.4 L282.5,173.3 L281.8,174.4 L281.5,175.7 L281.1,177.2 L280.5,178.6 L279.5,179.6 L278.1,180.1 L276.6,180.2 L275.1,180.0 L273.8,180.0 L272.6,180.3 L271.4,181.0 L270.1,181.8 L268.7,182.3 L267.2,182.3 L265.9,181.7 L264.8,180.7 L263.9,179.5 L262.9,178.6 L261.9,177.9 L260.5,177.6 L259.1,177.2 L257.7,176.6 L256.6,175.6 L256.1,174.2 L256.1,172.7 L256.2,171.2 L256.3,169.9 L255.9,168.7 L255.3,167.5 L254.5,166.2 L253.9,164.8 L253.9,163.3 L254.5,162.0 L255.6,160.9 L256.7,160.0 L257.7,159.0 L258.3,158.0 L258.7,156.6 L259.1,155.2 L259.7,153.8 L260.7,152.8 L262.0,152.2 L263.6,152.2 L265.0,152.3 L266.4,152.4 L267.6,152.1 L268.8,151.4 L270.1,150.6 L271.5,150.0 L272.9,150.0 L274.3,150.6 L275.4,151.7 L276.3,152.8 L277.2,153.8 L278.3,154.4 L279.6,154.8 L281.1,155.2 L282.5,155.8 L283.5,156.8 L284.0,158.1 L284.1,159.7 L283.9,161.1 L283.9,162.5 L284.2,163.7 L284.9,164.9Z" fill="#f3ab9e" stroke="#e98674" stroke-width="0.75"/>
<path d="M307.5,166.7 L307.8,168.0 L308.5,169.4 L308.9,171.0 L308.7,172.4 L307.8,173.6 L306.4,174.5 L305.1,175.2 L304.1,176.1 L303.5,177.3 L303.1,178.8 L302.4,180.3 L301.3,181.3 L299.8,181.6 L298.2,181.4 L296.7,181.1 L295.4,181.1 L294.2,181.6 L292.9,182.5 L291.4,183.2 L290.0,183.2 L288.6,182.6 L287.5,181.4 L286.6,180.2 L285.6,179.4 L284.3,179.0 L282.7,178.8 L281.2,178.4 L280.0,177.5 L279.4,176.1 L279.3,174.5 L279.4,173.0 L279.1,171.7 L278.4,170.6 L277.3,169.4 L276.4,168.1 L276.1,166.7 L276.5,165.3 L277.5,164.0 L278.5,162.8 L279.1,161.7 L279.3,160.3 L279.2,158.8 L279.3,157.2 L280.0,155.9 L281.3,155.1 L282.8,154.7 L284.3,154.5 L285.6,154.0 L286.5,153.1 L287.5,151.8 L288.6,150.7 L290.0,150.1 L291.4,150.3 L292.9,151.1 L294.2,151.9 L295.4,152.3 L296.8,152.2 L298.3,151.8 L299.9,151.7 L301.3,152.1 L302.3,153.2 L302.9,154.7 L303.4,156.2 L304.1,157.3 L305.2,158.1 L306.6,158.8 L307.9,159.7 L308.7,160.9 L308.8,162.4 L308.3,164.0 L307.7,165.4Z" fill="#f3ab9e" stroke="#e98674" stroke-width="0.75"/>
<circle cx="272.8" cy="39.5" r="0.55" fill="#e4705f"/>
<circle cx="274.4" cy="58.5" r="0.55" fill="#e4705f"/>
<circle cx="268.1" cy="59.1" r="0.55" fill="#e4705f"/>
<circle cx="278.4" cy="45.1" r="0.55" fill="#e4705f"/>
<circle cx="276.5" cy="64.6" r="0.55" fill="#e4705f"/>
<circle cx="275.3" cy="65.1" r="0.55" fill="#e4705f"/>
<circle cx="266.7" cy="56.4" r="0.55" fill="#e4705f"/>
<circle cx="230.1" cy="78.2" r="0.55" fill="#e4705f"/>
<circle cx="239.6" cy="79.6" r="0.55" fill="#e4705f"/>
<circle cx="244.1" cy="63.7" r="0.55" fill="#e4705f"/>
<circle cx="231.9" cy="66.5" r="0.55" fill="#e4705f"/>
<circle cx="247.2" cy="75.3" r="0.55" fill="#e4705f"/>
<circle cx="236.8" cy="81.7" r="0.55" fill="#e4705f"/>
<circle cx="243.6" cy="80.0" r="0.55" fill="#e4705f"/>
<circle cx="264.8" cy="75.7" r="0.55" fill="#e4705f"/>
<circle cx="272.7" cy="64.9" r="0.55" fill="#e4705f"/>
<circle cx="256.6" cy="75.7" r="0.55" fill="#e4705f"/>
<circle cx="253.9" cy="67.0" r="0.55" fill="#e4705f"/>
<circle cx="253.7" cy="77.3" r="0.55" fill="#e4705f"/>
<circle cx="251.9" cy="72.4" r="0.55" fill="#e4705f"/>
<circle cx="253.1" cy="61.0" r="0.55" fill="#e4705f"/>
<circle cx="286.5" cy="76.4" r="0.55" fill="#e4705f"/>
<circle cx="284.9" cy="63.4" r="0.55" fill="#e4705f"/>
<circle cx="269.0" cy="70.5" r="0.55" fill="#e4705f"/>
<circle cx="281.1" cy="80.4" r="0.55" fill="#e4705f"/>
<circle cx="271.6" cy="65.4" r="0.55" fill="#e4705f"/>
<circle cx="276.0" cy="77.1" r="0.55" fill="#e4705f"/>
<circle cx="269.4" cy="76.7" r="0.55" fill="#e4705f"/>
<circle cx="308.0" cy="81.4" r="0.55" fill="#e4705f"/>
<circle cx="301.3" cy="77.3" r="0.55" fill="#e4705f"/>
<circle cx="303.9" cy="83.1" r="0.55" fill="#e4705f"/>
<circle cx="314.6" cy="78.2" r="0.55" fill="#e4705f"/>
<circle cx="301.6" cy="83.2" r="0.55" fill="#e4705f"/>
<circle cx="297.9" cy="64.5" r="0.55" fill="#e4705f"/>
<circle cx="302.3" cy="80.9" r="0.55" fill="#e4705f"/>
<circle cx="229.1" cy="86.1" r="0.55" fill="#e4705f"/>
<circle cx="220.4" cy="84.7" r="0.55" fill="#e4705f"/>
<circle cx="240.7" cy="94.0" r="0.55" fill="#e4705f"/>
<circle cx="226.3" cy="97.7" r="0.55" fill="#e4705f"/>
<circle cx="226.5" cy="86.7" r="0.55" fill="#e4705f"/>
<circle cx="240.1" cy="90.5" r="0.55" fill="#e4705f"/>
<circle cx="232.6" cy="84.5" r="0.55" fill="#e4705f"/>
<circle cx="253.1" cy="101.9" r="0.55" fill="#e4705f"/>
<circle cx="243.2" cy="86.0" r="0.55" fill="#e4705f"/>
<circle cx="256.7" cy="83.1" r="0.55" fill="#e4705f"/>
<circle cx="253.7" cy="96.3" r="0.55" fill="#e4705f"/>
<circle cx="258.0" cy="91.9" r="0.55" fill="#e4705f"/>
<circle cx="257.8" cy="98.9" r="0.55" fill="#e4705f"/>
<circle cx="244.3" cy="83.8" r="0.55" fill="#e4705f"/>
<circle cx="260.3" cy="88.3" r="0.55" fill="#e4705f"/>
<circle cx="271.0" cy="82.2" r="0.55" fill="#e4705f"/>
<circle cx="272.8" cy="100.0" r="0.55" fill="#e4705f"/>
<circle cx="279.8" cy="86.2" r="0.55" fill="#e4705f"/>
<circle cx="278.8" cy="80.8" r="0.55" fill="#e4705f"/>
<circle cx="280.2" cy="102.7" r="0.55" fill="#e4705f"/>
<circle cx="279.2" cy="84.7" r="0.55" fill="#e4705f"/>
<circle cx="281.8" cy="89.9" r="0.55" fill="#e4705f"/>
<circle cx="282.4" cy="86.3" r="0.55" fill="#e4705f"/>
<circle cx="303.6" cy="94.2" r="0.55" fill="#e4705f"/>
<circle cx="285.4" cy="97.8" r="0.55" fill="#e4705f"/>
<circle cx="300.2" cy="91.1" r="0.55" fill="#e4705f"/>
<circle cx="281.3" cy="85.2" r="0.55" fill="#e4705f"/>
<circle cx="296.1" cy="82.4" r="0.55" fill="#e4705f"/>
<circle cx="328.9" cy="89.0" r="0.55" fill="#e4705f"/>
<circle cx="326.0" cy="88.3" r="0.55" fill="#e4705f"/>
<circle cx="323.7" cy="100.2" r="0.55" fill="#e4705f"/>
<circle cx="308.6" cy="92.0" r="0.55" fill="#e4705f"/>
<circle cx="315.7" cy="96.4" r="0.55" fill="#e4705f"/>
<circle cx="316.9" cy="98.5" r="0.55" fill="#e4705f"/>
<circle cx="315.4" cy="83.6" r="0.55" fill="#e4705f"/>
<circle cx="214.1" cy="117.8" r="0.55" fill="#e4705f"/>
<circle cx="224.1" cy="105.5" r="0.55" fill="#e4705f"/>
<circle cx="222.0" cy="105.6" r="0.55" fill="#e4705f"/>
<circle cx="221.9" cy="101.8" r="0.55" fill="#e4705f"/>
<circle cx="209.7" cy="115.7" r="0.55" fill="#e4705f"/>
<circle cx="224.4" cy="120.1" r="0.55" fill="#e4705f"/>
<circle cx="218.3" cy="117.6" r="0.55" fill="#e4705f"/>
<circle cx="241.8" cy="103.1" r="0.55" fill="#e4705f"/>
<circle cx="246.2" cy="113.3" r="0.55" fill="#e4705f"/>
<circle cx="229.5" cy="113.4" r="0.55" fill="#e4705f"/>
<circle cx="245.6" cy="105.2" r="0.55" fill="#e4705f"/>
<circle cx="244.2" cy="105.9" r="0.55" fill="#e4705f"/>
<circle cx="227.0" cy="105.0" r="0.55" fill="#e4705f"/>
<circle cx="236.0" cy="120.6" r="0.55" fill="#e4705f"/>
<circle cx="266.4" cy="117.8" r="0.55" fill="#e4705f"/>
<circle cx="258.1" cy="103.5" r="0.55" fill="#e4705f"/>
<circle cx="263.4" cy="101.4" r="0.55" fill="#e4705f"/>
<circle cx="260.4" cy="95.3" r="0.55" fill="#e4705f"/>
<circle cx="269.7" cy="107.4" r="0.55" fill="#e4705f"/>
<circle cx="267.9" cy="104.3" r="0.55" fill="#e4705f"/>
<circle cx="272.1" cy="106.4" r="0.55" fill="#e4705f"/>
<circle cx="274.3" cy="108.7" r="0.55" fill="#e4705f"/>
<circle cx="276.2" cy="119.0" r="0.55" fill="#e4705f"/>
<circle cx="287.8" cy="113.9" r="0.55" fill="#e4705f"/>
<circle cx="280.4" cy="103.5" r="0.55" fill="#e4705f"/>
<circle cx="275.0" cy="120.7" r="0.55" fill="#e4705f"/>
<circle cx="288.9" cy="102.2" r="0.55" fill="#e4705f"/>
<circle cx="278.6" cy="102.8" r="0.55" fill="#e4705f"/>
<circle cx="312.5" cy="107.5" r="0.55" fill="#e4705f"/>
<circle cx="301.3" cy="116.4" r="0.55" fill="#e4705f"/>
<circle cx="291.6" cy="108.6" r="0.55" fill="#e4705f"/>
<circle cx="301.5" cy="116.9" r="0.55" fill="#e4705f"/>
<circle cx="309.2" cy="115.4" r="0.55" fill="#e4705f"/>
<circle cx="295.2" cy="106.0" r="0.55" fill="#e4705f"/>
<circle cx="297.5" cy="110.8" r="0.55" fill="#e4705f"/>
<circle cx="323.4" cy="117.3" r="0.55" fill="#e4705f"/>
<circle cx="331.8" cy="117.3" r="0.55" fill="#e4705f"/>
<circle cx="339.4" cy="117.6" r="0.55" fill="#e4705f"/>
<circle cx="325.6" cy="104.6" r="0.55" fill="#e4705f"/>
<circle cx="324.3" cy="122.1" r="0.55" fill="#e4705f"/>
<circle cx="322.4" cy="109.6" r="0.55" fill="#e4705f"/>
<circle cx="336.6" cy="104.8" r="0.55" fill="#e4705f"/>
<circle cx="219.5" cy="134.9" r="0.55" fill="#e4705f"/>
<circle cx="221.9" cy="130.1" r="0.55" fill="#e4705f"/>
<circle cx="228.3" cy="122.3" r="0.55" fill="#e4705f"/>
<circle cx="234.0" cy="124.9" r="0.55" fill="#e4705f"/>
<circle cx="221.7" cy="124.1" r="0.55" fill="#e4705f"/>
<circle cx="228.1" cy="136.2" r="0.55" fill="#e4705f"/>
<circle cx="241.9" cy="131.2" r="0.55" fill="#e4705f"/>
<circle cx="244.4" cy="140.3" r="0.55" fill="#e4705f"/>
<circle cx="252.7" cy="132.5" r="0.55" fill="#e4705f"/>
<circle cx="241.8" cy="116.4" r="0.55" fill="#e4705f"/>
<circle cx="249.2" cy="133.9" r="0.55" fill="#e4705f"/>
<circle cx="254.9" cy="134.6" r="0.55" fill="#e4705f"/>
<circle cx="238.8" cy="129.1" r="0.55" fill="#e4705f"/>
<circle cx="249.5" cy="137.4" r="0.55" fill="#e4705f"/>
<circle cx="279.7" cy="128.9" r="0.55" fill="#e4705f"/>
<circle cx="277.1" cy="118.5" r="0.55" fill="#e4705f"/>
<circle cx="269.6" cy="135.2" r="0.55" fill="#e4705f"/>
<circle cx="280.1" cy="126.5" r="0.55" fill="#e4705f"/>
<circle cx="278.8" cy="118.4" r="0.55" fill="#e4705f"/>
<circle cx="275.5" cy="123.8" r="0.55" fill="#e4705f"/>
<circle cx="276.4" cy="131.9" r="0.55" fill="#e4705f"/>
<circle cx="290.6" cy="120.0" r="0.55" fill="#e4705f"/>
<circle cx="292.6" cy="124.1" r="0.55" fill="#e4705f"/>
<circle cx="287.1" cy="138.0" r="0.55" fill="#e4705f"/>
<circle cx="295.6" cy="123.8" r="0.55" fill="#e4705f"/>
<circle cx="302.7" cy="129.7" r="0.55" fill="#e4705f"/>
<circle cx="290.8" cy="124.0" r="0.55" fill="#e4705f"/>
<circle cx="290.6" cy="123.4" r="0.55" fill="#e4705f"/>
<circle cx="308.1" cy="134.1" r="0.55" fill="#e4705f"/>
<circle cx="309.7" cy="122.9" r="0.55" fill="#e4705f"/>
<circle cx="328.9" cy="125.9" r="0.55" fill="#e4705f"/>
<circle cx="326.4" cy="119.6" r="0.55" fill="#e4705f"/>
<circle cx="308.1" cy="130.6" r="0.55" fill="#e4705f"/>
<circle cx="316.4" cy="116.6" r="0.55" fill="#e4705f"/>
<circle cx="307.6" cy="131.5" r="0.55" fill="#e4705f"/>
<circle cx="217.8" cy="154.7" r="0.55" fill="#e4705f"/>
<circle cx="221.2" cy="140.5" r="0.55" fill="#e4705f"/>
<circle cx="214.4" cy="142.9" r="0.55" fill="#e4705f"/>
<circle cx="217.2" cy="155.7" r="0.55" fill="#e4705f"/>
<circle cx="215.6" cy="138.8" r="0.55" fill="#e4705f"/>
<circle cx="228.5" cy="148.2" r="0.55" fill="#e4705f"/>
<circle cx="211.4" cy="153.9" r="0.55" fill="#e4705f"/>
<circle cx="250.6" cy="153.5" r="0.55" fill="#e4705f"/>
<circle cx="240.1" cy="156.1" r="0.55" fill="#e4705f"/>
<circle cx="251.7" cy="155.0" r="0.55" fill="#e4705f"/>
<circle cx="236.6" cy="157.5" r="0.55" fill="#e4705f"/>
<circle cx="248.0" cy="153.8" r="0.55" fill="#e4705f"/>
<circle cx="234.7" cy="150.9" r="0.55" fill="#e4705f"/>
<circle cx="247.6" cy="157.1" r="0.55" fill="#e4705f"/>
<circle cx="266.2" cy="143.2" r="0.55" fill="#e4705f"/>
<circle cx="273.6" cy="140.8" r="0.55" fill="#e4705f"/>
<circle cx="261.0" cy="140.4" r="0.55" fill="#e4705f"/>
<circle cx="266.2" cy="154.9" r="0.55" fill="#e4705f"/>
<circle cx="265.3" cy="143.2" r="0.55" fill="#e4705f"/>
<circle cx="265.6" cy="158.0" r="0.55" fill="#e4705f"/>
<circle cx="257.5" cy="139.4" r="0.55" fill="#e4705f"/>
<circle cx="279.5" cy="159.7" r="0.55" fill="#e4705f"/>
<circle cx="287.1" cy="156.0" r="0.55" fill="#e4705f"/>
<circle cx="277.5" cy="146.9" r="0.55" fill="#e4705f"/>
<circle cx="289.7" cy="156.0" r="0.55" fill="#e4705f"/>
<circle cx="273.5" cy="151.0" r="0.55" fill="#e4705f"/>
<circle cx="274.6" cy="140.7" r="0.55" fill="#e4705f"/>
<circle cx="285.9" cy="156.1" r="0.55" fill="#e4705f"/>
<circle cx="294.4" cy="145.3" r="0.55" fill="#e4705f"/>
<circle cx="301.1" cy="162.4" r="0.55" fill="#e4705f"/>
<circle cx="297.4" cy="147.6" r="0.55" fill="#e4705f"/>
<circle cx="311.1" cy="152.7" r="0.55" fill="#e4705f"/>
<circle cx="308.1" cy="143.1" r="0.55" fill="#e4705f"/>
<circle cx="316.0" cy="147.9" r="0.55" fill="#e4705f"/>
<circle cx="310.2" cy="142.9" r="0.55" fill="#e4705f"/>
<circle cx="245.7" cy="170.7" r="0.55" fill="#e4705f"/>
<circle cx="259.8" cy="167.3" r="0.55" fill="#e4705f"/>
<circle cx="245.5" cy="163.5" r="0.55" fill="#e4705f"/>
<circle cx="257.7" cy="158.6" r="0.55" fill="#e4705f"/>
<circle cx="242.3" cy="168.9" r="0.55" fill="#e4705f"/>
<circle cx="237.5" cy="169.5" r="0.55" fill="#e4705f"/>
<circle cx="259.1" cy="172.7" r="0.55" fill="#e4705f"/>
<circle cx="262.1" cy="164.0" r="0.55" fill="#e4705f"/>
<circle cx="277.4" cy="155.9" r="0.55" fill="#e4705f"/>
<circle cx="259.7" cy="171.1" r="0.55" fill="#e4705f"/>
<circle cx="270.1" cy="160.2" r="0.55" fill="#e4705f"/>
<circle cx="277.8" cy="161.3" r="0.55" fill="#e4705f"/>
<circle cx="272.7" cy="176.6" r="0.55" fill="#e4705f"/>
<circle cx="261.7" cy="174.5" r="0.55" fill="#e4705f"/>
<circle cx="289.7" cy="179.1" r="0.55" fill="#e4705f"/>
<circle cx="289.6" cy="155.4" r="0.55" fill="#e4705f"/>
<circle cx="284.8" cy="174.4" r="0.55" fill="#e4705f"/>
<circle cx="288.0" cy="172.8" r="0.55" fill="#e4705f"/>
<circle cx="284.0" cy="157.1" r="0.55" fill="#e4705f"/>
<circle cx="289.1" cy="171.1" r="0.55" fill="#e4705f"/>
<circle cx="300.1" cy="166.3" r="0.55" fill="#e4705f"/>
<circle cx="249" cy="57" r="4.7" fill="#e5563b"/>
<circle cx="225" cy="76" r="4.7" fill="#e5563b"/>
<circle cx="271" cy="70" r="4.7" fill="#e5563b"/>
<circle cx="267.5" cy="97" r="4.7" fill="#e5563b"/>
<circle cx="301" cy="79" r="4.7" fill="#e5563b"/>
<circle cx="214" cy="106.5" r="4.7" fill="#e5563b"/>
<circle cx="234.7" cy="122.7" r="4.7" fill="#e5563b"/>
<circle cx="269.3" cy="123.5" r="4.7" fill="#e5563b"/>
<circle cx="295" cy="113.5" r="4.7" fill="#e5563b"/>
<circle cx="317.5" cy="104" r="4.7" fill="#e5563b"/>
<circle cx="210.7" cy="140" r="4.7" fill="#e5563b"/>
<circle cx="290" cy="140" r="4.7" fill="#e5563b"/>
<circle cx="316.5" cy="135.5" r="4.7" fill="#e5563b"/>
<circle cx="252.5" cy="147.5" r="4.7" fill="#e5563b"/>
<circle cx="228" cy="164" r="4.7" fill="#e5563b"/>
<circle cx="267" cy="172" r="4.7" fill="#e5563b"/>
<path d="M287.7,123.5 L288.5,125.2 L289.1,127.0 L288.9,128.7 L287.8,130.2 L286.3,131.3 L285.0,132.4 L284.3,133.9 L284.0,135.6 L283.5,137.5 L282.4,138.9 L280.8,139.6 L278.9,139.7 L277.1,139.8 L275.6,140.4 L274.3,141.6 L272.9,142.9 L271.3,143.6 L269.5,143.3 L267.9,142.3 L266.4,141.3 L264.9,140.8 L263.2,140.9 L261.3,141.2 L259.4,140.9 L258.1,139.8 L257.2,138.1 L256.6,136.4 L255.8,135.0 L254.5,134.0 L252.8,133.1 L251.3,132.0 L250.7,130.4 L250.9,128.5 L251.4,126.7 L251.7,125.1 L251.3,123.5 L250.5,121.8 L249.9,120.0 L250.1,118.3 L251.2,116.8 L252.7,115.7 L254.0,114.6 L254.7,113.1 L255.0,111.4 L255.5,109.5 L256.6,108.1 L258.2,107.4 L260.1,107.3 L261.9,107.2 L263.4,106.6 L264.7,105.4 L266.1,104.1 L267.7,103.4 L269.5,103.7 L271.1,104.7 L272.6,105.7 L274.1,106.2 L275.8,106.1 L277.7,105.8 L279.6,106.1 L280.9,107.2 L281.8,108.9 L282.4,110.6 L283.2,112.0 L284.5,113.0 L286.2,113.9 L287.7,115.0 L288.3,116.6 L288.1,118.5 L287.6,120.3 L287.3,121.9Z" fill="none" stroke="#e2523a" stroke-width="0.9"/>
<path d="M283.5,92.0 L283.6,93.4 L284.1,94.9 L284.6,96.6 L284.4,98.2 L283.5,99.5 L282.1,100.4 L280.7,101.2 L279.8,102.3 L279.3,103.8 L278.8,105.4 L277.8,106.7 L276.4,107.4 L274.7,107.4 L273.0,107.2 L271.6,107.5 L270.4,108.2 L269.0,109.3 L267.5,110.0 L265.9,109.8 L264.5,108.9 L263.3,107.8 L262.0,107.0 L260.6,106.8 L258.9,106.9 L257.2,106.7 L256.0,105.8 L255.2,104.3 L254.9,102.6 L254.4,101.2 L253.5,100.1 L252.1,99.2 L250.8,98.1 L250.1,96.7 L250.3,95.0 L250.9,93.5 L251.5,92.0 L251.4,90.6 L250.9,89.1 L250.4,87.4 L250.6,85.8 L251.5,84.5 L252.9,83.6 L254.3,82.8 L255.2,81.7 L255.7,80.2 L256.2,78.6 L257.2,77.3 L258.6,76.6 L260.3,76.6 L262.0,76.8 L263.4,76.5 L264.6,75.8 L266.0,74.7 L267.5,74.0 L269.1,74.2 L270.5,75.1 L271.7,76.2 L273.0,77.0 L274.4,77.2 L276.1,77.1 L277.8,77.3 L279.0,78.2 L279.8,79.7 L280.1,81.4 L280.6,82.8 L281.5,83.9 L282.9,84.8 L284.2,85.9 L284.9,87.3 L284.7,89.0 L284.1,90.5Z" fill="none" stroke="#e2523a" stroke-width="0.9"/>
<path d="M252.2,122.7 L251.6,124.2 L251.6,125.7 L252.1,127.4 L252.4,129.1 L252.0,130.8 L250.8,132.0 L249.2,132.8 L247.7,133.6 L246.8,134.8 L246.1,136.3 L245.4,138.0 L244.2,139.2 L242.6,139.7 L240.8,139.5 L239.1,139.2 L237.6,139.4 L236.2,140.2 L234.7,141.2 L233.0,141.7 L231.4,141.3 L230.0,140.1 L228.8,138.9 L227.5,138.0 L226.0,137.8 L224.2,137.7 L222.5,137.3 L221.3,136.1 L220.7,134.4 L220.5,132.6 L220.0,131.2 L219.0,130.0 L217.6,128.9 L216.4,127.6 L216.0,126.0 L216.4,124.3 L217.2,122.7 L217.8,121.2 L217.8,119.7 L217.3,118.0 L217.0,116.3 L217.4,114.6 L218.6,113.4 L220.2,112.6 L221.7,111.8 L222.6,110.6 L223.3,109.1 L224.0,107.4 L225.2,106.2 L226.8,105.7 L228.6,105.9 L230.3,106.2 L231.8,106.0 L233.2,105.2 L234.7,104.2 L236.4,103.7 L238.0,104.1 L239.4,105.3 L240.6,106.5 L241.9,107.4 L243.4,107.6 L245.2,107.7 L246.9,108.1 L248.1,109.3 L248.7,111.0 L248.9,112.8 L249.4,114.2 L250.4,115.4 L251.8,116.5 L253.0,117.8 L253.4,119.4 L253.0,121.1Z" fill="none" stroke="#e8705c" stroke-width="0.8"/>
<path d="M215.2,45.0 C229.9,48.0 247.0,43.0 257.8,32.6 C243.1,29.6 226.0,34.6 215.2,45.0Z" fill="#b7a391" stroke="#3b3632" stroke-width="0.8" stroke-linejoin="round"/>
<ellipse cx="236.5" cy="38.8" rx="2.6" ry="1.5" fill="#7b5b3c" transform="rotate(-16 236.5 38.8)"/>
<path d="M255.8,37.6 C268.3,46.2 286.2,48.3 300.4,43.0 C287.9,34.4 270.0,32.3 255.8,37.6Z" fill="#b7a391" stroke="#3b3632" stroke-width="0.8" stroke-linejoin="round"/>
<ellipse cx="278.1" cy="40.3" rx="2.6" ry="1.5" fill="#7b5b3c" transform="rotate(7 278.1 40.3)"/>
<path d="M289.9,52.6 C297.1,63.2 310.4,68.7 323.0,66.4 C315.8,55.8 302.5,50.3 289.9,52.6Z" fill="#b7a391" stroke="#3b3632" stroke-width="0.8" stroke-linejoin="round"/>
<ellipse cx="306.4" cy="59.5" rx="2.6" ry="1.5" fill="#7b5b3c" transform="rotate(23 306.4 59.5)"/>
<path d="M320.0,45.0 C317.6,60.3 323.3,77.9 334.2,89.0 C336.6,73.7 330.9,56.1 320.0,45.0Z" fill="#b7a391" stroke="#3b3632" stroke-width="0.8" stroke-linejoin="round"/>
<ellipse cx="327.1" cy="67.0" rx="2.6" ry="1.5" fill="#7b5b3c" transform="rotate(72 327.1 67.0)"/>
<path d="M338.0,85.2 C336.8,100.0 343.8,116.1 355.5,125.3 C356.7,110.5 349.7,94.4 338.0,85.2Z" fill="#b7a391" stroke="#3b3632" stroke-width="0.8" stroke-linejoin="round"/>
<ellipse cx="346.8" cy="105.2" rx="2.6" ry="1.5" fill="#7b5b3c" transform="rotate(66 346.8 105.2)"/>
<path d="M354.3,127.6 C340.4,134.3 329.4,148.9 326.7,164.0 C340.6,157.3 351.6,142.7 354.3,127.6Z" fill="#b7a391" stroke="#3b3632" stroke-width="0.8" stroke-linejoin="round"/>
<ellipse cx="340.5" cy="145.8" rx="2.6" ry="1.5" fill="#7b5b3c" transform="rotate(127 340.5 145.8)"/>
<path d="M338.0,161.4 C324.8,167.9 314.8,181.9 313.0,196.5 C326.2,190.0 336.2,176.0 338.0,161.4Z" fill="#b7a391" stroke="#3b3632" stroke-width="0.8" stroke-linejoin="round"/>
<ellipse cx="325.5" cy="178.9" rx="2.6" ry="1.5" fill="#7b5b3c" transform="rotate(125 325.5 178.9)"/>
<path d="M306.7,189.0 C293.1,185.7 277.5,190.2 267.8,200.3 C281.4,203.6 297.0,199.1 306.7,189.0Z" fill="#b7a391" stroke="#3b3632" stroke-width="0.8" stroke-linejoin="round"/>
<ellipse cx="287.2" cy="194.7" rx="2.6" ry="1.5" fill="#7b5b3c" transform="rotate(164 287.2 194.7)"/>
<path d="M274.0,189.0 C260.5,185.2 244.8,189.2 234.7,199.0 C248.2,202.8 263.9,198.8 274.0,189.0Z" fill="#b7a391" stroke="#3b3632" stroke-width="0.8" stroke-linejoin="round"/>
<ellipse cx="254.3" cy="194.0" rx="2.6" ry="1.5" fill="#7b5b3c" transform="rotate(166 254.3 194.0)"/>
<path d="M230.2,192.7 C227.8,179.7 217.7,168.6 205.0,165.0 C207.4,178.0 217.5,189.1 230.2,192.7Z" fill="#b7a391" stroke="#3b3632" stroke-width="0.8" stroke-linejoin="round"/>
<ellipse cx="217.6" cy="178.8" rx="2.6" ry="1.5" fill="#7b5b3c" transform="rotate(-132 217.6 178.8)"/>
<path d="M207.0,168.0 C204.0,154.5 193.2,142.8 180.0,138.8 C183.0,152.3 193.8,164.0 207.0,168.0Z" fill="#b7a391" stroke="#3b3632" stroke-width="0.8" stroke-linejoin="round"/>
<ellipse cx="193.5" cy="153.4" rx="2.6" ry="1.5" fill="#7b5b3c" transform="rotate(-133 193.5 153.4)"/>
<path d="M177.6,67.7 C173.4,81.2 176.9,97.3 186.4,107.8 C190.6,94.3 187.1,78.2 177.6,67.7Z" fill="#b7a391" stroke="#3b3632" stroke-width="0.8" stroke-linejoin="round"/>
<ellipse cx="182.0" cy="87.8" rx="2.6" ry="1.5" fill="#7b5b3c" transform="rotate(78 182.0 87.8)"/>
<path d="M207.7,64.0 C195.3,71.3 186.8,85.9 186.4,100.3 C198.8,93.0 207.3,78.4 207.7,64.0Z" fill="#b7a391" stroke="#3b3632" stroke-width="0.8" stroke-linejoin="round"/>
<ellipse cx="197.1" cy="82.2" rx="2.6" ry="1.5" fill="#7b5b3c" transform="rotate(120 197.1 82.2)"/>
<path d="M193.9,95.2 C181.8,106.1 174.2,124.1 175.0,140.4 C187.1,129.5 194.7,111.5 193.9,95.2Z" fill="#b7a391" stroke="#3b3632" stroke-width="0.8" stroke-linejoin="round"/>
<ellipse cx="184.4" cy="117.8" rx="2.6" ry="1.5" fill="#7b5b3c" transform="rotate(113 184.4 117.8)"/>
<path d="M193.9,106.3 C181.6,115.6 173.5,132.1 173.8,147.6 C186.1,138.3 194.2,121.8 193.9,106.3Z" fill="#b7a391" stroke="#3b3632" stroke-width="0.8" stroke-linejoin="round"/>
<ellipse cx="183.9" cy="126.9" rx="2.6" ry="1.5" fill="#7b5b3c" transform="rotate(116 183.9 126.9)"/>
<path d="M217.7,46.4 C206.6,50.4 199.5,60.9 200.0,72.7 C211.1,68.7 218.2,58.2 217.7,46.4Z" fill="#b7a391" stroke="#3b3632" stroke-width="0.8" stroke-linejoin="round"/>
<ellipse cx="208.8" cy="59.5" rx="2.6" ry="1.5" fill="#7b5b3c" transform="rotate(124 208.8 59.5)"/>
<path d="M220.2,77.7 C230.1,87.8 246.2,94.8 260.3,95.2 C250.4,85.1 234.3,78.1 220.2,77.7Z" fill="#b7a391" stroke="#3b3632" stroke-width="0.8" stroke-linejoin="round"/>
<ellipse cx="240.2" cy="86.5" rx="2.6" ry="1.5" fill="#7b5b3c" transform="rotate(24 240.2 86.5)"/>
<path d="M266.6,152.0 C276.7,161.7 292.7,168.2 306.7,168.2 C296.6,158.5 280.6,152.0 266.6,152.0Z" fill="#b7a391" stroke="#3b3632" stroke-width="0.8" stroke-linejoin="round"/>
<ellipse cx="286.6" cy="160.1" rx="2.6" ry="1.5" fill="#7b5b3c" transform="rotate(22 286.6 160.1)"/>
<path d="M142.5,125.3 C160,118 172,108 180,98 C190,84 196,70 204,61 C213,51 236,42 257.8,33.8" fill="none" stroke="#1b4a8c" stroke-width="1.7" stroke-linecap="round"/>
<path d="M142.5,125.3 C160,118 172,108 180,98 C190,84 196,70 204,61 C213,51 236,42 257.8,33.8" fill="none" stroke="#7fa6dc" stroke-width="0.6" stroke-dasharray="0.8 1.3"/>
<path d="M177.6,87.7 C190,80 200,62 212.7,50" fill="none" stroke="#1b4a8c" stroke-width="1.7" stroke-linecap="round"/>
<path d="M177.6,87.7 C190,80 200,62 212.7,50" fill="none" stroke="#7fa6dc" stroke-width="0.6" stroke-dasharray="0.8 1.3"/>
<path d="M280.4,40 C292,43 303,44 315.4,50 C330,57 343,62 353,70" fill="none" stroke="#1b4a8c" stroke-width="1.7" stroke-linecap="round"/>
<path d="M280.4,40 C292,43 303,44 315.4,50 C330,57 343,62 353,70" fill="none" stroke="#7fa6dc" stroke-width="0.6" stroke-dasharray="0.8 1.3"/>
<path d="M320,45 C326,58 336,70 340.5,82.7 C346,100 343,120 345.5,140" fill="none" stroke="#1b4a8c" stroke-width="1.7" stroke-linecap="round"/>
<path d="M320,45 C326,58 336,70 340.5,82.7 C346,100 343,120 345.5,140" fill="none" stroke="#7fa6dc" stroke-width="0.6" stroke-dasharray="0.8 1.3"/>
<path d="M194,127.6 C190,150 198,168 204,185.2" fill="none" stroke="#1b4a8c" stroke-width="1.7" stroke-linecap="round"/>
<path d="M194,127.6 C190,150 198,168 204,185.2" fill="none" stroke="#7fa6dc" stroke-width="0.6" stroke-dasharray="0.8 1.3"/>
<path d="M353,107.5 C348,128 334,145 330.5,162.7 C328,176 330,190 325.5,202.8" fill="none" stroke="#1b4a8c" stroke-width="1.7" stroke-linecap="round"/>
<path d="M353,107.5 C348,128 334,145 330.5,162.7 C328,176 330,190 325.5,202.8" fill="none" stroke="#7fa6dc" stroke-width="0.6" stroke-dasharray="0.8 1.3"/>
<path d="M285.4,202.8 C300,198 320,186 335.5,176.4" fill="none" stroke="#1b4a8c" stroke-width="1.7" stroke-linecap="round"/>
<path d="M285.4,202.8 C300,198 320,186 335.5,176.4" fill="none" stroke="#7fa6dc" stroke-width="0.6" stroke-dasharray="0.8 1.3"/>
<circle cx="197.0" cy="45.0" r="7.0" fill="#7a3bb8"/>
<circle cx="197.8" cy="44.3" r="3.9" fill="#5b2790"/>
<circle cx="197.0" cy="45.0" r="5.6" fill="none" stroke="#8d50c8" stroke-width="0.6" opacity="0.6"/>
<circle cx="168.0" cy="72.5" r="7.0" fill="#7a3bb8"/>
<circle cx="168.8" cy="71.8" r="3.9" fill="#5b2790"/>
<circle cx="168.0" cy="72.5" r="5.6" fill="none" stroke="#8d50c8" stroke-width="0.6" opacity="0.6"/>
<circle cx="155.5" cy="91.0" r="7.0" fill="#7a3bb8"/>
<circle cx="156.3" cy="90.3" r="3.9" fill="#5b2790"/>
<circle cx="155.5" cy="91.0" r="5.6" fill="none" stroke="#8d50c8" stroke-width="0.6" opacity="0.6"/>
<circle cx="168.0" cy="116.0" r="7.0" fill="#7a3bb8"/>
<circle cx="168.8" cy="115.3" r="3.9" fill="#5b2790"/>
<circle cx="168.0" cy="116.0" r="5.6" fill="none" stroke="#8d50c8" stroke-width="0.6" opacity="0.6"/>
<circle cx="344.0" cy="72.5" r="7.0" fill="#7a3bb8"/>
<circle cx="344.8" cy="71.8" r="3.9" fill="#5b2790"/>
<circle cx="344.0" cy="72.5" r="5.6" fill="none" stroke="#8d50c8" stroke-width="0.6" opacity="0.6"/>
<circle cx="367.0" cy="111.0" r="7.0" fill="#7a3bb8"/>
<circle cx="367.8" cy="110.3" r="3.9" fill="#5b2790"/>
<circle cx="367.0" cy="111.0" r="5.6" fill="none" stroke="#8d50c8" stroke-width="0.6" opacity="0.6"/>
<circle cx="303.0" cy="99.0" r="7.0" fill="#7a3bb8"/>
<circle cx="303.8" cy="98.3" r="3.9" fill="#5b2790"/>
<circle cx="303.0" cy="99.0" r="5.6" fill="none" stroke="#8d50c8" stroke-width="0.6" opacity="0.6"/>
<circle cx="159.5" cy="151.0" r="7.0" fill="#7a3bb8"/>
<circle cx="160.3" cy="150.3" r="3.9" fill="#5b2790"/>
<circle cx="159.5" cy="151.0" r="5.6" fill="none" stroke="#8d50c8" stroke-width="0.6" opacity="0.6"/>
<circle cx="177.0" cy="164.0" r="7.0" fill="#7a3bb8"/>
<circle cx="177.8" cy="163.3" r="3.9" fill="#5b2790"/>
<circle cx="177.0" cy="164.0" r="5.6" fill="none" stroke="#8d50c8" stroke-width="0.6" opacity="0.6"/>
<circle cx="227.0" cy="201.0" r="7.0" fill="#7a3bb8"/>
<circle cx="227.8" cy="200.3" r="3.9" fill="#5b2790"/>
<circle cx="227.0" cy="201.0" r="5.6" fill="none" stroke="#8d50c8" stroke-width="0.6" opacity="0.6"/>
<circle cx="242.5" cy="157.0" r="7.0" fill="#7a3bb8"/>
<circle cx="243.3" cy="156.3" r="3.9" fill="#5b2790"/>
<circle cx="242.5" cy="157.0" r="5.6" fill="none" stroke="#8d50c8" stroke-width="0.6" opacity="0.6"/>
<circle cx="310.5" cy="201.0" r="7.0" fill="#7a3bb8"/>
<circle cx="311.3" cy="200.3" r="3.9" fill="#5b2790"/>
<circle cx="310.5" cy="201.0" r="5.6" fill="none" stroke="#8d50c8" stroke-width="0.6" opacity="0.6"/>
<circle cx="345.5" cy="179.5" r="7.0" fill="#7a3bb8"/>
<circle cx="346.3" cy="178.8" r="3.9" fill="#5b2790"/>
<circle cx="345.5" cy="179.5" r="5.6" fill="none" stroke="#8d50c8" stroke-width="0.6" opacity="0.6"/>
<circle cx="359.5" cy="151.0" r="7.0" fill="#7a3bb8"/>
<circle cx="360.3" cy="150.3" r="3.9" fill="#5b2790"/>
<circle cx="359.5" cy="151.0" r="5.6" fill="none" stroke="#8d50c8" stroke-width="0.6" opacity="0.6"/>
<path d="M549.5,29.0 C545.6,24.2 539.7,23.0 535.4,23.9 C538.1,27.3 543.5,30.2 549.5,29.0Z" fill="#20b350"/>
<path d="M549.5,29.0 C549.0,23.2 544.9,19.3 540.9,18.0 C541.2,22.1 544.0,27.1 549.5,29.0Z" fill="#20b350"/>
<path d="M549.5,29.0 C551.9,24.3 550.2,19.7 547.4,17.2 C545.7,20.5 545.7,25.4 549.5,29.0Z" fill="#20b350"/>
<path d="M549.5,29.0 C543.3,27.4 537.3,29.9 534.0,33.1 C538.5,34.3 544.9,33.5 549.5,29.0Z" fill="#20b350"/>
<path d="M549.5,29.0 C544.3,30.9 542.0,35.7 542.0,39.6 C545.8,38.3 549.5,34.5 549.5,29.0Z" fill="#20b350"/>
<path d="M560.0,22.5 C562.1,17.9 560.5,13.3 557.9,10.7 C556.4,14.0 556.5,18.9 560.0,22.5Z" fill="#20b350"/>
<path d="M560.0,22.5 C564.4,19.7 565.9,14.9 565.3,11.2 C562.1,13.1 559.3,17.3 560.0,22.5Z" fill="#20b350"/>
<path d="M560.0,22.5 C565.4,22.9 569.6,19.8 571.5,16.4 C567.6,16.1 562.7,17.8 560.0,22.5Z" fill="#20b350"/>
<path d="M560.0,22.5 C563.8,25.9 568.6,25.8 571.9,24.2 C569.2,21.7 564.6,20.3 560.0,22.5Z" fill="#20b350"/>
<path d="M560.0,22.5 C560.3,18.8 557.8,17.3 555.1,17.6 C554.8,20.3 556.3,22.8 560.0,22.5Z" fill="#20b350"/>
<path d="M555.5,26.0 C552.9,27.3 552.6,29.7 553.4,31.6 C555.3,30.7 556.6,28.6 555.5,26.0Z" fill="#20b350"/>
<path d="M556.5,30.0 C553.7,29.4 551.9,31.0 551.3,33.0 C553.3,33.5 555.7,32.7 556.5,30.0Z" fill="#20b350"/>
<path d="M553.0,25.0 C553.6,22.7 552.2,21.1 550.5,20.7 C550.1,22.4 550.7,24.3 553.0,25.0Z" fill="#20b350"/>
<path d="M552.2,11 C553,18 555,26 558.5,33 M549.5,29 L556,28 M560,22.5 L556.5,27" fill="none" stroke="#20b350" stroke-width="0.9"/>
<circle cx="551.6" cy="8.2" r="3.4" fill="none" stroke="#6fd08f" stroke-width="1.6" stroke-dasharray="1.2 0.9"/><circle cx="551.6" cy="8.2" r="1.2" fill="#6fd08f"/>
<path d="M558,31 C561,29.5 566,30 569,31 C574,32.5 578,37 580,42.5 C582,48 583,54 585,58.5 C581.5,58 578,55.5 574.5,52 C570,47.5 566,43.5 563.5,40 C561,37 559,34.5 558,31Z" fill="#20b350"/>
<path d="M584.5,57.5 C586.5,61 588.5,65 590,68.5 M583.5,58 C585,62 586.5,65 587.5,67.5" stroke="#6fd08f" stroke-width="0.9" fill="none"/>
<path d="M566,34 C570,38 574,44 577,50 M570,33.5 C574,38 577,44 579,49" stroke="#8fe0a8" stroke-width="0.5" fill="none"/>
<path d="M603.7,41.2 Q590.6,34.1 583.5,21" fill="none" stroke="#20b350" stroke-width="0.6"/>
<ellipse cx="590.0" cy="32.1" rx="1.9" ry="1.1" fill="#20b350" transform="rotate(39 590.0 32.1)"/>
<ellipse cx="589.2" cy="29.2" rx="1.8" ry="1.1" fill="#20b350" transform="rotate(42 589.2 29.2)"/>
<ellipse cx="584.2" cy="24.4" rx="1.9" ry="0.9" fill="#20b350" transform="rotate(143 584.2 24.4)"/>
<ellipse cx="582.6" cy="20.3" rx="1.5" ry="1.3" fill="#20b350" transform="rotate(133 582.6 20.3)"/>
<path d="M603.7,41.2 Q593.9,30.5 588.6,13.7" fill="none" stroke="#20b350" stroke-width="0.6"/>
<ellipse cx="595.5" cy="27.9" rx="1.5" ry="1.0" fill="#20b350" transform="rotate(90 595.5 27.9)"/>
<ellipse cx="590.9" cy="24.5" rx="1.7" ry="1.0" fill="#20b350" transform="rotate(147 590.9 24.5)"/>
<ellipse cx="589.1" cy="19.8" rx="1.8" ry="1.1" fill="#20b350" transform="rotate(62 589.1 19.8)"/>
<ellipse cx="588.6" cy="12.8" rx="1.5" ry="1.2" fill="#20b350" transform="rotate(42 588.6 12.8)"/>
<path d="M603.7,41.2 Q597.9,29.5 594.8,11.7" fill="none" stroke="#20b350" stroke-width="0.6"/>
<ellipse cx="599.0" cy="25.6" rx="2.1" ry="1.3" fill="#20b350" transform="rotate(136 599.0 25.6)"/>
<ellipse cx="597.8" cy="22.0" rx="1.9" ry="0.9" fill="#20b350" transform="rotate(86 597.8 22.0)"/>
<ellipse cx="596.8" cy="16.1" rx="2.1" ry="1.3" fill="#20b350" transform="rotate(74 596.8 16.1)"/>
<ellipse cx="594.4" cy="11.6" rx="1.7" ry="1.3" fill="#20b350" transform="rotate(70 594.4 11.6)"/>
<path d="M603.7,41.2 Q602.9,31.9 602.4,16.5" fill="none" stroke="#20b350" stroke-width="0.6"/>
<ellipse cx="601.4" cy="28.0" rx="1.9" ry="1.3" fill="#20b350" transform="rotate(89 601.4 28.0)"/>
<ellipse cx="602.7" cy="25.3" rx="1.9" ry="1.0" fill="#20b350" transform="rotate(110 602.7 25.3)"/>
<ellipse cx="602.7" cy="21.3" rx="1.6" ry="1.0" fill="#20b350" transform="rotate(63 602.7 21.3)"/>
<ellipse cx="603.8" cy="16.1" rx="1.9" ry="1.0" fill="#20b350" transform="rotate(19 603.8 16.1)"/>
<path d="M603.7,41.2 Q608.2,28.8 610.6,10.3" fill="none" stroke="#20b350" stroke-width="0.6"/>
<ellipse cx="606.6" cy="26.6" rx="2.0" ry="1.0" fill="#20b350" transform="rotate(123 606.6 26.6)"/>
<ellipse cx="609.5" cy="21.9" rx="2.1" ry="1.1" fill="#20b350" transform="rotate(178 609.5 21.9)"/>
<ellipse cx="611.3" cy="16.0" rx="2.0" ry="1.1" fill="#20b350" transform="rotate(68 611.3 16.0)"/>
<ellipse cx="609.8" cy="11.4" rx="1.6" ry="0.9" fill="#20b350" transform="rotate(145 609.8 11.4)"/>
<path d="M603.7,41.2 Q615.3,30.5 621.6,13.7" fill="none" stroke="#20b350" stroke-width="0.6"/>
<ellipse cx="615.8" cy="27.5" rx="2.0" ry="0.9" fill="#20b350" transform="rotate(46 615.8 27.5)"/>
<ellipse cx="616.7" cy="23.0" rx="1.6" ry="0.9" fill="#20b350" transform="rotate(61 616.7 23.0)"/>
<ellipse cx="620.9" cy="19.9" rx="1.9" ry="1.1" fill="#20b350" transform="rotate(45 620.9 19.9)"/>
<ellipse cx="623.1" cy="13.8" rx="1.9" ry="0.9" fill="#20b350" transform="rotate(38 623.1 13.8)"/>
<path d="M603.7,41.2 Q620.7,32.5 629.8,17.8" fill="none" stroke="#20b350" stroke-width="0.6"/>
<ellipse cx="621.1" cy="30.6" rx="2.0" ry="1.1" fill="#20b350" transform="rotate(77 621.1 30.6)"/>
<ellipse cx="623.9" cy="27.1" rx="1.7" ry="1.1" fill="#20b350" transform="rotate(50 623.9 27.1)"/>
<ellipse cx="627.7" cy="20.7" rx="1.9" ry="1.3" fill="#20b350" transform="rotate(4 627.7 20.7)"/>
<ellipse cx="630.1" cy="18.2" rx="2.0" ry="1.1" fill="#20b350" transform="rotate(46 630.1 18.2)"/>
<path d="M603.7,41.2 Q615.8,36.6 622.3,26" fill="none" stroke="#20b350" stroke-width="0.6"/>
<ellipse cx="615.0" cy="35.6" rx="2.0" ry="1.0" fill="#20b350" transform="rotate(17 615.0 35.6)"/>
<ellipse cx="616.6" cy="30.5" rx="1.8" ry="1.0" fill="#20b350" transform="rotate(156 616.6 30.5)"/>
<ellipse cx="620.7" cy="28.0" rx="1.8" ry="1.0" fill="#20b350" transform="rotate(89 620.7 28.0)"/>
<ellipse cx="621.4" cy="25.1" rx="1.6" ry="1.1" fill="#20b350" transform="rotate(128 621.4 25.1)"/>
<path d="M603.7,41.2 Q611.0,33.6 615,20" fill="none" stroke="#20b350" stroke-width="0.6"/>
<ellipse cx="610.9" cy="29.8" rx="1.9" ry="1.2" fill="#20b350" transform="rotate(139 610.9 29.8)"/>
<ellipse cx="613.3" cy="26.2" rx="1.8" ry="0.9" fill="#20b350" transform="rotate(138 613.3 26.2)"/>
<ellipse cx="612.7" cy="24.5" rx="1.7" ry="1.2" fill="#20b350" transform="rotate(56 612.7 24.5)"/>
<ellipse cx="613.5" cy="19.7" rx="1.7" ry="1.3" fill="#20b350" transform="rotate(53 613.5 19.7)"/>
<path d="M603.7,41.2 Q599.3,35.6 597,24" fill="none" stroke="#20b350" stroke-width="0.6"/>
<ellipse cx="599.5" cy="33.4" rx="2.1" ry="0.9" fill="#20b350" transform="rotate(108 599.5 33.4)"/>
<ellipse cx="598.6" cy="31.1" rx="2.1" ry="1.0" fill="#20b350" transform="rotate(126 598.6 31.1)"/>
<ellipse cx="597.8" cy="27.5" rx="1.5" ry="1.2" fill="#20b350" transform="rotate(176 597.8 27.5)"/>
<ellipse cx="596.5" cy="23.5" rx="2.1" ry="0.9" fill="#20b350" transform="rotate(14 596.5 23.5)"/>
<path d="M603.7,41.2 C596,40 588,35 584.5,27.5 C582.5,23 583,19 585,16" fill="none" stroke="#20b350" stroke-width="0.8"/>
<ellipse cx="598" cy="39" rx="2" ry="1.2" fill="#20b350" transform="rotate(13 598 39)"/>
<ellipse cx="592.5" cy="37.5" rx="2" ry="1.2" fill="#20b350" transform="rotate(147 592.5 37.5)"/>
<ellipse cx="588.5" cy="33.5" rx="2" ry="1.2" fill="#20b350" transform="rotate(137 588.5 33.5)"/>
<ellipse cx="585" cy="29.5" rx="2" ry="1.2" fill="#20b350" transform="rotate(81 585 29.5)"/>
<ellipse cx="583.2" cy="25.5" rx="2" ry="1.2" fill="#20b350" transform="rotate(112 583.2 25.5)"/>
<ellipse cx="582.8" cy="21.5" rx="2" ry="1.2" fill="#20b350" transform="rotate(4 582.8 21.5)"/>
<ellipse cx="584" cy="18" rx="2" ry="1.2" fill="#20b350" transform="rotate(116 584 18)"/>
<ellipse cx="586.5" cy="15" rx="2" ry="1.2" fill="#20b350" transform="rotate(80 586.5 15)"/>
<ellipse cx="590" cy="12.5" rx="2" ry="1.2" fill="#20b350" transform="rotate(93 590 12.5)"/>
<ellipse cx="593" cy="11" rx="2" ry="1.2" fill="#20b350" transform="rotate(70 593 11)"/>
<path d="M602.5,40.5 C606,41.5 610,43.5 614,44.5 C618,45.5 621,45.5 623.5,44 C622,47 620,48.5 617.5,49 C621,51 624,54 625.8,58 C622.5,55.5 619.5,53 616,51.5 C611,49.5 605.5,46 602.5,40.5Z" fill="#20b350"/>
<path d="M617,50 C619.5,53 621,57 621.5,60.5 M614,49.5 C616.5,52 618,55 618.5,58 M621,46 C624,45.5 626,44.5 627.5,43" fill="none" stroke="#20b350" stroke-width="0.8"/>
<text x="597" y="74" font-size="14.5" fill="#111" font-weight="bold" text-anchor="start" textLength="40.5" lengthAdjust="spacingAndGlyphs" >BJRG</text>
<path d="M589.8,72.5 C588,98 582,112 566,118.6" fill="none" stroke="#111" stroke-width="2.4"/>
<path d="M563,119.6 L573,113.2 L570.6,118.2 L574,123.4Z" fill="#111"/>
<rect x="467.5" y="110" width="94.5" height="22.5" rx="4" fill="#8c66a9" filter="url(#sh2)"/>
<text x="514.75" y="127.73" font-size="18" fill="#fff" font-weight="normal" text-anchor="middle" textLength="71" lengthAdjust="spacingAndGlyphs" >YAP/TAZ</text>
<rect x="487" y="160" width="57" height="22.5" rx="4" fill="#d9b24d" filter="url(#sh)"/>
<text x="515.5" y="177.73" font-size="18" fill="#fff" font-weight="normal" text-anchor="middle" textLength="34.4" lengthAdjust="spacingAndGlyphs" >AKT</text>
<rect x="477" y="212.5" width="76" height="22.5" rx="4" fill="#5fc6cc" filter="url(#sh)"/>
<text x="515.0" y="230.23" font-size="18" fill="#fff" font-weight="normal" text-anchor="middle" textLength="53" lengthAdjust="spacingAndGlyphs" >mTOR</text>
<rect x="493.3" y="267" width="84.5" height="23" rx="4" fill="#8faf7c" filter="url(#sh)"/>
<text x="535.55" y="284.98" font-size="18" fill="#fff" font-weight="normal" text-anchor="middle" textLength="60.5" lengthAdjust="spacingAndGlyphs" >4E-BP1</text>
<path d="M514,133 L510.8,154" stroke="#111" stroke-width="2.4" fill="none"/><path d="M510,160 L506.6,150.5 L510.8,152.8 L515.4,151.6Z" fill="#111"/>
<path d="M509.3,183.5 C508,192 506.5,198 505.6,205" stroke="#111" stroke-width="2.4" fill="none"/><path d="M504.6,211.5 L501.4,201.8 L505.6,204.2 L510.2,203Z" fill="#111"/>
<path d="M510,235.5 L528.5,263.6" stroke="#111" stroke-width="2.4" fill="none"/><path d="M523.3,264.8 L536.2,264.8" stroke="#111" stroke-width="1.8" fill="none"/>
<path d="M554.7,174.2 C575,160 598,150.5 620,150 C638,149.8 650,152 658,154.5 L664.4,148.7 L664.4,173.4 L635,179.8 L640,173.2 C634,167 628,163.5 620,163 C600,161.5 578,166 554.7,174.2Z" fill="#c9070f"/>
<path d="M464.7,201.4 C462.2,203.8 454.4,211.9 450.0,215.8 C445.6,219.7 442.0,222.1 438.0,224.8 C434.0,227.5 430.0,229.9 426.0,232.0 C422.0,234.1 417.8,236.0 414.0,237.6 C410.2,239.2 407.0,240.4 403.0,241.8 C399.0,243.2 394.5,244.7 390.0,246.0 C385.5,247.3 382.9,248.0 376.0,249.6 C369.1,251.2 357.6,254.1 348.3,255.8 C339.1,257.5 329.1,259.0 320.5,260.0 C311.9,261.0 300.8,261.7 296.9,262.0 L295.2,250 L275,279 L300.8,298.8 L299.7,287.0 C303.2,286.4 312.4,285.1 320.5,283.6 C328.6,282.1 339.1,280.3 348.3,278.0 C357.6,275.7 366.9,272.9 376.0,269.7 C385.1,266.4 396.7,261.4 403.0,258.5 C409.3,255.6 410.2,254.6 414.0,252.4 C417.8,250.2 422.0,247.8 426.0,245.2 C430.0,242.6 434.0,240.2 438.0,236.8 C442.0,233.4 446.8,228.4 450.0,224.8 C453.2,221.2 454.8,219.1 457.2,215.2 C459.6,211.3 463.4,203.7 464.7,201.4Z" fill="#c9070f"/>
<text x="815.2" y="108.6" font-size="15" fill="#111" font-weight="bold" text-anchor="start" textLength="118.6" lengthAdjust="spacingAndGlyphs" >Cell-cycle Arrest</text>
<text x="818" y="137" font-size="15" fill="#111" font-weight="bold" text-anchor="start" textLength="73.3" lengthAdjust="spacingAndGlyphs" >Apoptosis</text>
<path d="M697,133 C703,129 713,130 715,136 C716,142 713,148 718,151 C726,154 737,151 745,152 C752,150 757,157 762,156 C764,160 761,163 763,167 C768,172 765,180 768,186 C774,188 779,190 777,196 C773,200 766,198 762,202 C760,208 754,210 747,211 C738,210 730,214 722,213 C716,214 714,207 708,205 C702,206 697,212 690,209 C683,205 683,196 689,193 C696,190 698,184 697,177 C695,170 697,162 702,157 C703,150 698,146 696,142 C694,139 694,135 697,133Z" fill="#f5a8b0" stroke="#dd7a84" stroke-width="0.9"/>
<path d="M752.0,179.2 L752.0,181.0 L751.8,182.8 L751.2,184.6 L750.5,186.2 L749.5,187.8 L748.4,189.2 L747.3,190.6 L746.1,191.9 L744.9,193.2 L743.7,194.4 L742.4,195.7 L741.0,196.8 L739.5,197.9 L737.8,198.8 L736.1,199.4 L734.3,199.9 L732.4,200.0 L730.5,199.9 L728.7,199.6 L726.9,199.1 L725.2,198.5 L723.5,197.8 L721.9,197.1 L720.3,196.4 L718.7,195.6 L717.1,194.7 L715.6,193.7 L714.1,192.5 L712.8,191.2 L711.8,189.7 L710.9,188.0 L710.4,186.3 L710.0,184.5 L709.9,182.7 L709.9,180.9 L710.0,179.2 L710.2,177.5 L710.4,175.8 L710.7,174.0 L711.0,172.3 L711.4,170.6 L712.1,168.9 L712.9,167.2 L713.9,165.7 L715.2,164.4 L716.7,163.2 L718.3,162.3 L720.0,161.5 L721.7,160.9 L723.5,160.5 L725.2,160.1 L727.0,159.7 L728.7,159.4 L730.5,159.2 L732.3,159.0 L734.2,159.0 L736.0,159.1 L737.9,159.5 L739.6,160.2 L741.3,161.1 L742.8,162.2 L744.1,163.5 L745.3,164.9 L746.3,166.3 L747.2,167.8 L748.1,169.3 L749.0,170.8 L749.8,172.4 L750.6,174.0 L751.3,175.6 L751.8,177.4Z" fill="#d9717c"/>
<circle cx="704.5" cy="139" r="1.4" fill="#c95562"/>
<circle cx="714" cy="151" r="1.4" fill="#c95562"/>
<circle cx="705" cy="158" r="1.4" fill="#c95562"/>
<circle cx="750" cy="158.5" r="1.4" fill="#c95562"/>
<circle cx="756" cy="173" r="1.4" fill="#c95562"/>
<circle cx="758" cy="185" r="1.4" fill="#c95562"/>
<circle cx="766" cy="191.5" r="1.4" fill="#c95562"/>
<circle cx="750" cy="195.5" r="1.4" fill="#c95562"/>
<circle cx="753" cy="205" r="1.4" fill="#c95562"/>
<circle cx="738" cy="208.5" r="1.4" fill="#c95562"/>
<circle cx="726" cy="199" r="1.4" fill="#c95562"/>
<circle cx="714.5" cy="204" r="1.4" fill="#c95562"/>
<circle cx="702" cy="177.5" r="1.4" fill="#c95562"/>
<circle cx="694" cy="199.5" r="1.4" fill="#c95562"/>
<ellipse cx="685.6" cy="139" rx="3.8" ry="5.4" fill="#f5a8b0" stroke="#dd7a84" stroke-width="0.8" transform="rotate(10 685.6 139)"/>
<circle cx="686.1" cy="138.5" r="1" fill="#c95562"/>
<ellipse cx="728.8" cy="137.3" rx="2.6" ry="2" fill="#f5a8b0" stroke="#dd7a84" stroke-width="0.8" transform="rotate(20 728.8 137.3)"/>
<circle cx="729.3" cy="136.8" r="1" fill="#c95562"/>
<ellipse cx="747.6" cy="136.7" rx="7.4" ry="6.6" fill="#f5a8b0" stroke="#dd7a84" stroke-width="0.8" transform="rotate(15 747.6 136.7)"/>
<circle cx="748.1" cy="136.2" r="1" fill="#c95562"/>
<ellipse cx="775.4" cy="159" rx="6.8" ry="7.6" fill="#f5a8b0" stroke="#dd7a84" stroke-width="0.8" transform="rotate(-15 775.4 159)"/>
<circle cx="775.9" cy="158.5" r="1" fill="#c95562"/>
<ellipse cx="684.5" cy="167.5" rx="6.8" ry="5.6" fill="#f5a8b0" stroke="#dd7a84" stroke-width="0.8" transform="rotate(-15 684.5 167.5)"/>
<circle cx="685.0" cy="167.0" r="1" fill="#c95562"/>
<ellipse cx="677.4" cy="186" rx="3" ry="4" fill="#f5a8b0" stroke="#dd7a84" stroke-width="0.8" transform="rotate(20 677.4 186)"/>
<circle cx="677.9" cy="185.5" r="1" fill="#c95562"/>
<ellipse cx="779.3" cy="181.8" rx="3" ry="3" fill="#f5a8b0" stroke="#dd7a84" stroke-width="0.8" transform="rotate(0 779.3 181.8)"/>
<circle cx="779.8" cy="181.3" r="1" fill="#c95562"/>
<ellipse cx="683.6" cy="217.7" rx="5" ry="5" fill="#f5a8b0" stroke="#dd7a84" stroke-width="0.8" transform="rotate(0 683.6 217.7)"/>
<circle cx="684.1" cy="217.2" r="1" fill="#c95562"/>
<ellipse cx="704.8" cy="217" rx="3" ry="2.5" fill="#f5a8b0" stroke="#dd7a84" stroke-width="0.8" transform="rotate(0 704.8 217)"/>
<circle cx="705.3" cy="216.5" r="1" fill="#c95562"/>
<ellipse cx="744.2" cy="219.6" rx="7.4" ry="5.8" fill="#f5a8b0" stroke="#dd7a84" stroke-width="0.8" transform="rotate(-10 744.2 219.6)"/>
<circle cx="744.7" cy="219.1" r="1" fill="#c95562"/>
<ellipse cx="769.8" cy="215" rx="5.4" ry="4.4" fill="#f5a8b0" stroke="#dd7a84" stroke-width="0.8" transform="rotate(10 769.8 215)"/>
<circle cx="770.3" cy="214.5" r="1" fill="#c95562"/>
<path d="M779.5,176 C790,168 812,166 829,177.5" fill="none" stroke="#111" stroke-width="2.2"/><path d="M834,181.5 L823.6,178.6 L828.4,176.6 L829.8,171.4Z" fill="#111"/>
<path d="M844.3,173.3 C845.1,169.9 844.3,170.9 848.7,170.4 C853.1,169.9 852.1,172.3 857.5,171.8 C862.9,171.3 860.0,170.8 864.8,168.9 C869.6,167.0 867.2,166.5 872.0,166.0 C876.8,165.5 874.9,167.5 879.3,167.5 C883.7,167.5 880.8,165.5 885.2,166.0 C889.6,166.5 888.5,165.5 892.4,168.9 C896.3,172.3 891.9,172.8 896.8,176.2 C901.7,179.6 900.2,175.7 907.0,179.1 C913.8,182.5 914.3,181.0 917.2,186.4 C920.1,191.8 918.7,190.8 915.8,195.2 C912.9,199.6 913.4,197.6 908.5,199.5 C903.6,201.4 903.1,198.1 901.2,201.0 C899.3,203.9 900.8,203.0 902.7,208.3 C904.6,213.6 907.5,211.2 907.0,217.0 C906.5,222.8 907.0,222.4 901.2,225.8 C895.4,229.2 896.8,228.2 889.5,227.2 C882.2,226.2 886.6,225.8 879.3,222.9 C872.0,220.0 874.5,222.9 867.7,218.5 C860.9,214.1 862.8,216.5 858.9,209.7 C855.0,202.9 859.4,204.9 856.0,198.1 C852.6,191.3 851.9,195.1 848.7,189.3 C845.5,183.5 847.9,185.9 846.4,180.6 C844.9,175.3 843.5,176.7 844.3,173.3Z" fill="#f5a8b0" stroke="#dd7a84" stroke-width="0.9"/>
<path d="M864,181 C870,178 880,179 888,181 C893,183 893,190 890,194 C886,197 882,196 879,200 C876,204 870,204 867,200 C866,194 862,187 864,181Z" fill="#d9717c" stroke="#b9525e" stroke-width="0.7"/>
<circle cx="883.7" cy="210.3" r="4.8" fill="#d9717c" stroke="#b9525e" stroke-width="0.7"/>
<ellipse cx="904" cy="190" rx="4.6" ry="3.2" fill="#cf5562"/>
<circle cx="862" cy="165.5" r="1.1" fill="#c95562"/>
<circle cx="875" cy="172" r="1.1" fill="#c95562"/>
<circle cx="851" cy="176" r="1.1" fill="#c95562"/>
<circle cx="860" cy="193" r="1.1" fill="#c95562"/>
<circle cx="888" cy="199.5" r="1.1" fill="#c95562"/>
<circle cx="889" cy="222" r="1.1" fill="#c95562"/>
<circle cx="903" cy="204.5" r="1.1" fill="#c95562"/>
<ellipse cx="839.4" cy="167" rx="3.6" ry="6" fill="#f5a8b0" stroke="#dd7a84" stroke-width="0.8" transform="rotate(-20 839.4 167)"/>
<ellipse cx="862.4" cy="165.4" rx="5.6" ry="3.6" fill="#f5a8b0" stroke="#dd7a84" stroke-width="0.8" transform="rotate(-10 862.4 165.4)"/>
<circle cx="862.9" cy="164.9" r="1" fill="#c95562"/>
<ellipse cx="883.7" cy="158.7" rx="4.6" ry="2.8" fill="#f5a8b0" stroke="#dd7a84" stroke-width="0.8" transform="rotate(15 883.7 158.7)"/>
<circle cx="884.2" cy="158.2" r="1" fill="#c95562"/>
<ellipse cx="902.6" cy="169" rx="8.6" ry="5.4" fill="#f5a8b0" stroke="#dd7a84" stroke-width="0.8" transform="rotate(25 902.6 169)"/>
<circle cx="903.1" cy="168.5" r="1" fill="#c95562"/>
<ellipse cx="843" cy="190.8" rx="5" ry="4.4" fill="#f5a8b0" stroke="#dd7a84" stroke-width="0.8" transform="rotate(0 843 190.8)"/>
<ellipse cx="844.5" cy="208.5" rx="8" ry="7" fill="#f5a8b0" stroke="#dd7a84" stroke-width="0.8" transform="rotate(0 844.5 208.5)"/>
<circle cx="845.0" cy="208.0" r="1" fill="#c95562"/>
<ellipse cx="905.5" cy="206" rx="9" ry="4.8" fill="#f5a8b0" stroke="#dd7a84" stroke-width="0.8" transform="rotate(5 905.5 206)"/>
<circle cx="906.0" cy="205.5" r="1" fill="#c95562"/>
<ellipse cx="908.8" cy="223" rx="2.6" ry="5" fill="#f5a8b0" stroke="#dd7a84" stroke-width="0.8" transform="rotate(-15 908.8 223)"/>
<ellipse cx="859" cy="230" rx="10" ry="6.6" fill="#f5a8b0" stroke="#dd7a84" stroke-width="0.8" transform="rotate(5 859 230)"/>
<circle cx="859.5" cy="229.5" r="1" fill="#c95562"/>
<ellipse cx="883.7" cy="235.4" rx="6.6" ry="4.4" fill="#f5a8b0" stroke="#dd7a84" stroke-width="0.8" transform="rotate(-10 883.7 235.4)"/>
<circle cx="884.2" cy="234.9" r="1" fill="#c95562"/>
<path d="M234.9,358.0 C249.0,354.0 246.0,355.0 263.7,354.4 C281.3,353.8 274.0,352.2 287.7,356.2 C301.4,360.3 294.5,359.1 304.7,366.5 C314.9,373.9 310.4,368.2 318.3,378.4 C326.2,388.6 321.6,385.2 328.5,397.1 C335.3,409.0 334.7,405.0 338.7,414.1 C342.7,423.2 342.1,413.6 340.4,424.3 C338.7,435.0 338.7,433.8 333.6,446.2 C328.5,458.7 332.5,451.9 325.1,461.5 C317.7,471.1 321.6,467.6 311.4,475.0 C301.1,482.4 306.7,479.1 294.3,483.8 C281.8,488.4 286.5,489.5 274.1,488.9 C261.7,488.3 268.4,485.5 257.1,482.1 C245.8,478.6 249.8,485.5 240.2,478.6 C230.5,471.8 237.3,471.7 228.2,461.5 C219.1,451.3 222.0,458.2 212.9,448.0 C203.8,437.8 205.8,442.2 201.0,430.9 C196.3,419.6 198.1,424.2 198.7,414.1 C199.2,404.0 198.0,410.7 202.7,400.5 C207.5,390.3 206.7,394.8 212.9,383.5 C219.1,372.2 214.0,375.0 221.4,366.5 C228.7,358.0 220.8,362.1 234.9,358.0Z" fill="#f3ab9e"/>
<path d="M251.5,363.6 L252.2,364.9 L252.5,366.2 L252.2,367.5 L251.3,368.5 L250.2,369.3 L249.2,370.1 L248.6,371.1 L248.3,372.4 L248.0,373.8 L247.4,375.0 L246.4,375.8 L245.0,376.0 L243.6,375.9 L242.4,375.8 L241.3,376.2 L240.3,377.0 L239.2,377.9 L237.9,378.5 L236.6,378.4 L235.5,377.7 L234.4,376.7 L233.5,375.8 L232.4,375.4 L231.1,375.4 L229.7,375.4 L228.4,375.0 L227.5,374.1 L227.0,372.8 L226.9,371.4 L226.7,370.1 L226.1,369.1 L225.2,368.3 L224.1,367.3 L223.3,366.2 L223.2,364.9 L223.7,363.6 L224.5,362.5 L225.1,361.4 L225.4,360.3 L225.2,359.0 L225.0,357.6 L225.1,356.2 L225.8,355.2 L227.0,354.5 L228.4,354.1 L229.6,353.7 L230.5,353.0 L231.1,351.9 L231.9,350.7 L232.9,349.7 L234.1,349.4 L235.5,349.6 L236.8,350.2 L237.9,350.7 L239.1,350.7 L240.3,350.3 L241.6,349.8 L243.0,349.7 L244.2,350.3 L245.0,351.3 L245.7,352.6 L246.3,353.7 L247.1,354.4 L248.3,354.9 L249.6,355.4 L250.8,356.2 L251.3,357.4 L251.3,358.8 L251.0,360.2 L250.7,361.4 L250.9,362.5Z" fill="#f3ab9e" stroke="#e98674" stroke-width="0.75"/>
<path d="M261.8,359.7 L261.7,360.7 L262.1,361.8 L262.6,363.0 L262.6,364.2 L262.0,365.2 L260.9,365.9 L259.8,366.4 L259.1,367.1 L258.7,368.1 L258.4,369.3 L257.8,370.4 L256.8,371.0 L255.6,371.0 L254.3,370.7 L253.3,370.7 L252.4,371.2 L251.4,372.1 L250.3,372.7 L249.2,372.7 L248.2,372.1 L247.3,371.1 L246.5,370.4 L245.5,370.2 L244.2,370.3 L243.0,370.3 L241.9,369.8 L241.4,368.7 L241.2,367.4 L241.0,366.3 L240.4,365.5 L239.4,364.8 L238.4,364.1 L237.7,363.1 L237.8,362.0 L238.3,360.8 L238.9,359.7 L239.0,358.7 L238.6,357.7 L238.1,356.5 L238.1,355.3 L238.7,354.3 L239.8,353.6 L240.9,353.1 L241.6,352.4 L242.0,351.4 L242.3,350.2 L242.9,349.1 L243.9,348.5 L245.1,348.5 L246.4,348.8 L247.4,348.8 L248.3,348.3 L249.3,347.4 L250.3,346.8 L251.5,346.8 L252.5,347.4 L253.4,348.3 L254.2,349.0 L255.2,349.3 L256.5,349.2 L257.7,349.2 L258.7,349.7 L259.3,350.8 L259.5,352.1 L259.7,353.2 L260.3,354.0 L261.3,354.6 L262.3,355.4 L263.0,356.4 L262.9,357.5 L262.4,358.7Z" fill="#f3ab9e" stroke="#e98674" stroke-width="0.75"/>
<path d="M275.1,358.9 L275.2,359.8 L275.7,360.9 L276.2,362.1 L275.9,363.2 L274.9,364.0 L273.8,364.5 L273.1,365.2 L272.8,366.2 L272.7,367.5 L272.2,368.6 L271.2,369.0 L269.9,369.0 L268.7,368.9 L267.9,369.3 L267.1,370.3 L266.2,371.2 L265.1,371.5 L264.0,371.0 L263.1,370.2 L262.1,369.7 L261.1,369.9 L259.9,370.3 L258.7,370.3 L257.8,369.7 L257.3,368.5 L256.9,367.4 L256.2,366.7 L255.1,366.4 L253.8,366.0 L253.1,365.2 L253.0,364.0 L253.3,362.8 L253.4,361.7 L252.9,360.8 L252.0,359.9 L251.4,358.9 L251.6,357.8 L252.4,356.8 L253.3,356.0 L253.6,355.1 L253.5,353.9 L253.3,352.7 L253.7,351.6 L254.7,351.0 L255.9,350.8 L257.0,350.4 L257.6,349.6 L258.0,348.5 L258.7,347.4 L259.8,347.1 L261.0,347.4 L262.1,347.9 L263.1,347.9 L264.0,347.3 L265.1,346.6 L266.2,346.4 L267.2,347.0 L268.0,348.0 L268.7,348.9 L269.7,349.1 L270.9,349.1 L272.1,349.2 L272.9,350.0 L273.2,351.2 L273.2,352.4 L273.6,353.4 L274.5,354.0 L275.6,354.7 L276.3,355.6 L276.2,356.7 L275.6,357.9Z" fill="#f3ab9e" stroke="#e98674" stroke-width="0.75"/>
<path d="M288.3,360.8 L288.9,362.0 L289.0,363.2 L288.5,364.4 L287.6,365.3 L286.5,366.1 L285.8,366.9 L285.4,368.0 L285.2,369.2 L284.9,370.5 L284.2,371.6 L283.1,372.1 L281.8,372.2 L280.5,372.2 L279.4,372.3 L278.4,372.9 L277.4,373.7 L276.4,374.5 L275.2,374.9 L274.0,374.6 L272.9,373.8 L271.9,372.9 L271.0,372.3 L269.9,372.1 L268.6,372.2 L267.3,372.1 L266.1,371.6 L265.4,370.6 L265.0,369.3 L264.9,368.0 L264.6,366.9 L263.8,366.1 L262.8,365.3 L261.8,364.4 L261.3,363.2 L261.4,362.0 L261.9,360.8 L262.7,359.7 L263.1,358.7 L263.1,357.6 L262.8,356.3 L262.7,355.0 L263.0,353.7 L263.8,352.8 L265.0,352.3 L266.3,351.9 L267.3,351.4 L268.0,350.6 L268.6,349.4 L269.3,348.3 L270.3,347.5 L271.6,347.4 L272.9,347.8 L274.1,348.3 L275.2,348.5 L276.3,348.3 L277.4,347.9 L278.7,347.5 L280.0,347.5 L281.0,348.2 L281.8,349.3 L282.4,350.5 L283.0,351.4 L284.0,352.0 L285.2,352.3 L286.5,352.9 L287.4,353.7 L287.7,354.9 L287.6,356.3 L287.3,357.5 L287.2,358.7 L287.6,359.7Z" fill="#f3ab9e" stroke="#e98674" stroke-width="0.75"/>
<path d="M299.4,360.1 L298.9,361.2 L298.2,362.2 L297.5,363.0 L297.1,363.9 L297.0,365.0 L297.1,366.2 L297.0,367.4 L296.4,368.3 L295.4,368.9 L294.2,369.1 L293.0,369.3 L292.2,369.8 L291.5,370.5 L290.7,371.5 L289.9,372.3 L288.8,372.7 L287.7,372.5 L286.6,371.9 L285.6,371.3 L284.7,371.1 L283.6,371.2 L282.5,371.5 L281.3,371.6 L280.2,371.2 L279.5,370.3 L279.0,369.1 L278.7,368.1 L278.1,367.3 L277.2,366.7 L276.1,366.2 L275.1,365.5 L274.6,364.5 L274.6,363.3 L275.0,362.2 L275.4,361.1 L275.5,360.1 L275.2,359.1 L274.7,358.0 L274.4,356.9 L274.6,355.8 L275.4,354.9 L276.4,354.2 L277.4,353.7 L278.1,353.0 L278.5,352.0 L278.8,350.8 L279.4,349.8 L280.2,349.1 L281.4,348.9 L282.6,349.1 L283.7,349.3 L284.7,349.2 L285.6,348.7 L286.6,348.0 L287.7,347.5 L288.8,347.6 L289.8,348.2 L290.6,349.1 L291.4,349.9 L292.2,350.5 L293.2,350.7 L294.4,350.8 L295.5,351.2 L296.4,351.9 L296.8,353.0 L296.8,354.2 L296.8,355.4 L297.1,356.3 L297.7,357.1 L298.5,358.0 L299.2,359.0Z" fill="#f3ab9e" stroke="#e98674" stroke-width="0.75"/>
<path d="M314.4,370.5 L314.2,371.5 L314.4,372.6 L314.7,373.8 L314.9,375.1 L314.8,376.3 L314.1,377.4 L313.1,378.1 L311.9,378.6 L310.8,379.1 L309.9,379.7 L309.3,380.6 L308.7,381.7 L307.9,382.8 L306.9,383.5 L305.7,383.8 L304.5,383.6 L303.3,383.1 L302.2,382.7 L301.1,382.5 L300.0,382.7 L298.8,383.0 L297.5,383.2 L296.3,383.1 L295.3,382.4 L294.5,381.4 L294.0,380.2 L293.5,379.1 L292.9,378.2 L292.0,377.6 L290.9,377.0 L289.8,376.2 L289.1,375.2 L288.8,374.0 L289.1,372.8 L289.5,371.6 L289.9,370.5 L290.1,369.4 L289.9,368.3 L289.6,367.1 L289.4,365.8 L289.6,364.6 L290.2,363.6 L291.3,362.8 L292.4,362.3 L293.5,361.8 L294.4,361.2 L295.0,360.3 L295.7,359.2 L296.4,358.1 L297.4,357.4 L298.6,357.1 L299.8,357.4 L301.1,357.8 L302.2,358.3 L303.2,358.4 L304.3,358.2 L305.5,357.9 L306.8,357.7 L308.0,357.9 L309.0,358.5 L309.8,359.6 L310.3,360.7 L310.8,361.8 L311.4,362.7 L312.3,363.3 L313.4,364.0 L314.5,364.7 L315.2,365.7 L315.5,366.9 L315.3,368.2 L314.8,369.4Z" fill="#f3ab9e" stroke="#e98674" stroke-width="0.75"/>
<path d="M327.8,380.4 L327.2,381.3 L326.7,382.2 L326.5,383.2 L326.5,384.2 L326.6,385.3 L326.6,386.4 L326.2,387.5 L325.4,388.2 L324.4,388.7 L323.3,389.0 L322.3,389.2 L321.4,389.7 L320.7,390.4 L320.0,391.3 L319.2,392.1 L318.2,392.6 L317.1,392.6 L316.0,392.1 L315.1,391.5 L314.2,391.0 L313.2,390.8 L312.2,390.8 L311.1,390.9 L310.0,390.9 L308.9,390.5 L308.2,389.7 L307.7,388.7 L307.4,387.6 L307.2,386.6 L306.7,385.8 L306.0,385.1 L305.1,384.3 L304.3,383.5 L303.8,382.5 L303.8,381.4 L304.3,380.4 L304.9,379.4 L305.4,378.5 L305.6,377.6 L305.6,376.6 L305.5,375.4 L305.5,374.3 L305.9,373.2 L306.7,372.5 L307.7,372.0 L308.8,371.8 L309.8,371.5 L310.6,371.0 L311.3,370.3 L312.1,369.4 L312.9,368.6 L313.9,368.2 L315.0,368.2 L316.0,368.6 L317.0,369.2 L317.9,369.7 L318.8,369.9 L319.8,369.9 L321.0,369.8 L322.1,369.8 L323.2,370.2 L323.9,371.0 L324.4,372.0 L324.6,373.1 L324.9,374.1 L325.4,375.0 L326.1,375.7 L327.0,376.4 L327.8,377.2 L328.2,378.2 L328.2,379.3Z" fill="#f3ab9e" stroke="#e98674" stroke-width="0.75"/>
<path d="M332.5,389.9 L332.8,391.0 L332.4,392.1 L331.6,393.0 L330.7,393.8 L330.1,394.6 L329.8,395.6 L329.8,396.7 L329.6,398.0 L329.0,399.0 L328.1,399.6 L326.9,399.8 L325.7,399.8 L324.7,400.0 L323.9,400.6 L323.1,401.4 L322.1,402.3 L321.1,402.7 L320.0,402.5 L318.9,401.9 L318.0,401.2 L317.1,400.7 L316.1,400.6 L314.9,400.7 L313.7,400.8 L312.6,400.4 L311.8,399.6 L311.4,398.4 L311.2,397.2 L310.8,396.3 L310.1,395.6 L309.1,394.9 L308.1,394.2 L307.5,393.2 L307.5,392.1 L307.9,390.9 L308.5,389.9 L308.8,388.9 L308.7,387.9 L308.4,386.8 L308.1,385.6 L308.3,384.4 L309.0,383.6 L310.1,383.0 L311.2,382.5 L312.1,382.0 L312.6,381.1 L313.1,380.1 L313.7,379.0 L314.5,378.2 L315.6,378.0 L316.8,378.2 L318.0,378.6 L319.0,378.7 L320.0,378.5 L321.0,377.9 L322.1,377.5 L323.3,377.5 L324.3,378.0 L325.1,378.9 L325.7,380.0 L326.4,380.7 L327.3,381.1 L328.4,381.4 L329.6,381.8 L330.5,382.5 L330.9,383.6 L330.9,384.8 L330.7,386.0 L330.8,387.0 L331.2,387.9 L331.9,388.8Z" fill="#f3ab9e" stroke="#e98674" stroke-width="0.75"/>
<path d="M336.0,399.0 L336.3,400.1 L336.8,401.3 L337.2,402.5 L337.0,403.7 L336.2,404.7 L335.1,405.4 L334.0,406.0 L333.2,406.8 L332.7,407.8 L332.3,409.0 L331.8,410.2 L330.9,411.0 L329.6,411.3 L328.3,411.1 L327.1,410.9 L326.0,410.9 L325.0,411.4 L323.9,412.1 L322.7,412.7 L321.5,412.7 L320.4,412.1 L319.5,411.1 L318.7,410.1 L317.8,409.5 L316.7,409.2 L315.5,409.0 L314.2,408.7 L313.2,407.9 L312.8,406.8 L312.7,405.4 L312.7,404.2 L312.5,403.1 L311.9,402.2 L311.0,401.3 L310.2,400.2 L310.0,399.0 L310.4,397.8 L311.2,396.7 L312.0,395.8 L312.5,394.8 L312.6,393.7 L312.5,392.4 L312.6,391.1 L313.2,390.0 L314.3,389.4 L315.6,389.1 L316.8,388.9 L317.8,388.5 L318.6,387.7 L319.4,386.6 L320.3,385.7 L321.5,385.3 L322.7,385.4 L323.9,386.1 L325.0,386.7 L326.0,387.0 L327.1,387.0 L328.4,386.6 L329.7,386.5 L330.9,386.9 L331.7,387.8 L332.2,389.1 L332.6,390.3 L333.2,391.2 L334.1,391.8 L335.3,392.4 L336.3,393.2 L337.0,394.2 L337.0,395.5 L336.6,396.7 L336.2,397.9Z" fill="#f3ab9e" stroke="#e98674" stroke-width="0.75"/>
<path d="M346.8,414.6 L346.5,415.7 L345.8,416.7 L345.0,417.6 L344.4,418.4 L344.3,419.5 L344.3,420.6 L344.2,421.9 L343.8,422.9 L342.8,423.6 L341.6,423.9 L340.5,424.0 L339.5,424.3 L338.7,425.0 L338.0,425.9 L337.2,426.8 L336.1,427.3 L335.0,427.2 L333.9,426.7 L332.9,426.0 L331.9,425.7 L330.9,425.7 L329.8,425.9 L328.5,426.1 L327.4,425.8 L326.6,425.0 L326.1,423.9 L325.8,422.7 L325.3,421.8 L324.5,421.2 L323.5,420.6 L322.4,420.0 L321.8,419.0 L321.7,417.9 L322.0,416.7 L322.5,415.6 L322.7,414.6 L322.5,413.6 L322.0,412.5 L321.7,411.3 L321.8,410.2 L322.4,409.3 L323.4,408.6 L324.5,408.0 L325.3,407.4 L325.8,406.5 L326.1,405.4 L326.6,404.3 L327.4,403.5 L328.5,403.1 L329.8,403.3 L330.9,403.5 L331.9,403.6 L332.9,403.2 L333.9,402.6 L335.0,402.0 L336.1,401.9 L337.2,402.4 L338.0,403.3 L338.7,404.2 L339.5,404.9 L340.4,405.2 L341.6,405.4 L342.8,405.7 L343.8,406.3 L344.3,407.4 L344.3,408.6 L344.3,409.8 L344.4,410.8 L344.9,411.7 L345.7,412.5 L346.5,413.5Z" fill="#f3ab9e" stroke="#e98674" stroke-width="0.75"/>
<path d="M348.5,424.2 L349.2,425.2 L349.7,426.3 L349.4,427.4 L348.5,428.2 L347.5,428.9 L346.9,429.6 L346.8,430.7 L346.7,432.0 L346.3,433.1 L345.3,433.5 L344.0,433.6 L342.9,433.7 L342.1,434.2 L341.4,435.3 L340.6,436.2 L339.6,436.5 L338.4,436.0 L337.4,435.3 L336.4,435.1 L335.4,435.4 L334.2,435.9 L333.1,436.0 L332.2,435.3 L331.6,434.2 L331.1,433.2 L330.3,432.6 L329.1,432.5 L327.9,432.1 L327.1,431.3 L327.0,430.2 L327.2,428.9 L327.1,427.9 L326.4,427.1 L325.5,426.3 L324.9,425.2 L325.0,424.2 L325.8,423.1 L326.5,422.2 L326.7,421.3 L326.4,420.2 L326.2,418.9 L326.5,417.9 L327.5,417.2 L328.7,416.9 L329.6,416.4 L330.1,415.5 L330.5,414.3 L331.1,413.3 L332.1,412.9 L333.4,413.1 L334.5,413.5 L335.5,413.3 L336.4,412.6 L337.4,411.8 L338.5,411.6 L339.5,412.2 L340.3,413.2 L341.1,413.9 L342.1,414.0 L343.4,413.8 L344.6,413.9 L345.4,414.6 L345.7,415.8 L345.9,417.0 L346.4,417.9 L347.4,418.4 L348.5,419.0 L349.2,419.9 L349.2,421.0 L348.6,422.2 L348.3,423.2Z" fill="#f3ab9e" stroke="#e98674" stroke-width="0.75"/>
<path d="M344.2,434.0 L343.5,435.1 L342.9,436.1 L342.6,437.1 L342.6,438.3 L342.7,439.5 L342.7,440.8 L342.3,442.0 L341.4,442.9 L340.3,443.5 L339.0,443.8 L337.9,444.1 L336.9,444.6 L336.1,445.3 L335.3,446.3 L334.3,447.2 L333.2,447.8 L332.0,447.8 L330.8,447.4 L329.7,446.7 L328.7,446.1 L327.6,445.8 L326.5,445.8 L325.3,445.9 L323.9,445.9 L322.8,445.5 L321.9,444.6 L321.3,443.5 L321.0,442.2 L320.7,441.0 L320.2,440.1 L319.4,439.3 L318.5,438.5 L317.6,437.5 L317.0,436.4 L317.0,435.2 L317.4,434.0 L318.1,432.9 L318.7,431.8 L319.0,430.8 L319.0,429.7 L318.9,428.4 L318.9,427.1 L319.3,425.9 L320.2,425.1 L321.3,424.5 L322.6,424.2 L323.7,423.9 L324.7,423.4 L325.5,422.6 L326.3,421.6 L327.3,420.7 L328.4,420.2 L329.6,420.2 L330.8,420.6 L331.9,421.3 L332.9,421.9 L334.0,422.2 L335.1,422.2 L336.3,422.1 L337.7,422.1 L338.8,422.5 L339.7,423.3 L340.3,424.5 L340.6,425.8 L340.9,426.9 L341.4,427.9 L342.2,428.7 L343.1,429.5 L344.0,430.4 L344.6,431.5 L344.6,432.8Z" fill="#f3ab9e" stroke="#e98674" stroke-width="0.75"/>
<path d="M339.8,444.2 L340.5,445.2 L340.9,446.4 L340.6,447.5 L339.6,448.3 L338.6,449.0 L338.0,449.8 L338.0,451.0 L337.9,452.3 L337.4,453.3 L336.3,453.8 L335.0,453.8 L333.9,453.9 L333.1,454.6 L332.4,455.6 L331.6,456.6 L330.5,456.8 L329.3,456.3 L328.3,455.6 L327.3,455.4 L326.2,455.8 L325.0,456.3 L323.9,456.3 L323.0,455.6 L322.4,454.4 L321.8,453.4 L320.9,452.9 L319.7,452.7 L318.5,452.4 L317.7,451.5 L317.7,450.3 L317.8,449.0 L317.7,448.0 L317.0,447.2 L316.0,446.3 L315.4,445.3 L315.6,444.2 L316.4,443.1 L317.2,442.2 L317.3,441.2 L317.0,440.1 L316.7,438.8 L317.1,437.7 L318.2,437.1 L319.4,436.7 L320.3,436.2 L320.8,435.3 L321.2,434.0 L321.8,433.0 L322.9,432.7 L324.2,432.9 L325.3,433.2 L326.3,433.0 L327.2,432.3 L328.3,431.5 L329.4,431.3 L330.4,432.0 L331.3,433.0 L332.1,433.6 L333.2,433.7 L334.4,433.5 L335.7,433.6 L336.5,434.4 L336.8,435.7 L337.0,436.9 L337.5,437.7 L338.6,438.2 L339.7,438.8 L340.4,439.8 L340.3,441.0 L339.8,442.1 L339.5,443.2Z" fill="#f3ab9e" stroke="#e98674" stroke-width="0.75"/>
<path d="M333.1,459.0 L333.8,460.1 L334.3,461.2 L334.1,462.3 L333.1,463.2 L332.1,463.9 L331.4,464.7 L331.3,465.8 L331.2,467.1 L330.8,468.2 L329.8,468.7 L328.4,468.7 L327.3,468.8 L326.5,469.4 L325.8,470.4 L325.0,471.4 L323.9,471.7 L322.7,471.3 L321.6,470.6 L320.7,470.2 L319.6,470.5 L318.4,471.1 L317.2,471.2 L316.3,470.5 L315.7,469.4 L315.1,468.3 L314.3,467.7 L313.1,467.5 L311.9,467.2 L311.1,466.4 L310.9,465.2 L311.1,463.9 L311.1,462.9 L310.4,462.0 L309.4,461.2 L308.8,460.1 L308.9,459.0 L309.7,458.0 L310.5,457.0 L310.7,456.1 L310.4,454.9 L310.1,453.6 L310.4,452.6 L311.4,451.9 L312.7,451.5 L313.7,451.1 L314.2,450.2 L314.6,448.9 L315.2,447.8 L316.2,447.4 L317.5,447.7 L318.7,448.0 L319.7,447.9 L320.6,447.2 L321.6,446.4 L322.8,446.1 L323.8,446.7 L324.7,447.7 L325.5,448.4 L326.5,448.6 L327.8,448.4 L329.0,448.5 L329.9,449.2 L330.2,450.4 L330.4,451.7 L330.9,452.5 L331.9,453.1 L333.1,453.7 L333.8,454.6 L333.8,455.8 L333.3,457.0 L332.9,458.0Z" fill="#f3ab9e" stroke="#e98674" stroke-width="0.75"/>
<path d="M321.8,471.4 L320.9,472.5 L320.3,473.4 L320.3,474.5 L320.7,475.8 L320.8,477.1 L320.3,478.2 L319.1,478.8 L317.8,479.2 L316.9,479.8 L316.5,480.9 L316.1,482.3 L315.4,483.2 L314.1,483.5 L312.8,483.1 L311.6,482.9 L310.6,483.3 L309.6,484.2 L308.5,485.0 L307.3,485.0 L306.2,484.2 L305.3,483.1 L304.4,482.6 L303.3,482.6 L301.9,482.9 L300.6,482.6 L299.9,481.6 L299.6,480.3 L299.3,479.1 L298.6,478.3 L297.4,477.8 L296.2,477.1 L295.7,476.0 L295.9,474.8 L296.4,473.5 L296.6,472.4 L296.1,471.4 L295.4,470.2 L295.0,469.0 L295.5,467.9 L296.6,467.0 L297.6,466.3 L298.1,465.4 L298.1,464.1 L298.2,462.7 L298.8,461.7 L300.1,461.3 L301.4,461.3 L302.5,461.1 L303.3,460.2 L304.0,459.1 L305.0,458.2 L306.2,458.1 L307.4,458.7 L308.5,459.3 L309.5,459.4 L310.7,458.9 L312.0,458.4 L313.2,458.5 L314.1,459.4 L314.7,460.7 L315.3,461.6 L316.4,462.0 L317.7,462.2 L319.0,462.6 L319.6,463.6 L319.6,465.0 L319.5,466.3 L319.7,467.3 L320.6,468.1 L321.7,469.1 L322.2,470.2Z" fill="#f3ab9e" stroke="#e98674" stroke-width="0.75"/>
<path d="M304.2,480.7 L304.9,481.8 L305.4,482.9 L305.1,484.0 L304.1,484.8 L303.1,485.4 L302.5,486.2 L302.5,487.3 L302.4,488.6 L301.9,489.6 L300.9,490.1 L299.6,490.1 L298.5,490.2 L297.8,490.8 L297.1,491.9 L296.3,492.8 L295.2,493.0 L294.1,492.5 L293.1,491.9 L292.1,491.6 L291.1,492.0 L289.9,492.5 L288.8,492.5 L287.9,491.8 L287.3,490.7 L286.8,489.7 L285.9,489.2 L284.7,489.1 L283.5,488.7 L282.8,487.9 L282.8,486.7 L282.9,485.5 L282.8,484.5 L282.1,483.7 L281.1,482.8 L280.6,481.8 L280.8,480.7 L281.6,479.7 L282.3,478.8 L282.4,477.9 L282.1,476.7 L281.8,475.5 L282.2,474.5 L283.3,473.9 L284.5,473.5 L285.3,473.0 L285.8,472.1 L286.1,470.9 L286.8,469.9 L287.8,469.6 L289.1,469.8 L290.2,470.1 L291.1,469.9 L292.0,469.2 L293.1,468.4 L294.1,468.3 L295.1,468.9 L296.0,469.8 L296.8,470.5 L297.8,470.6 L299.0,470.4 L300.2,470.5 L301.0,471.3 L301.3,472.5 L301.5,473.7 L302.0,474.4 L303.1,475.0 L304.2,475.5 L304.8,476.5 L304.7,477.6 L304.2,478.8 L303.9,479.8Z" fill="#f3ab9e" stroke="#e98674" stroke-width="0.75"/>
<path d="M298.1,480.2 L298.1,481.5 L297.3,482.7 L296.1,483.7 L295.4,484.8 L295.4,486.0 L295.7,487.6 L295.4,489.0 L294.4,489.9 L292.9,490.3 L291.5,490.5 L290.6,491.3 L290.0,492.6 L289.2,493.9 L288.1,494.7 L286.6,494.5 L285.2,493.8 L284.0,493.5 L282.8,494.0 L281.5,494.9 L280.1,495.3 L278.8,494.9 L277.9,493.7 L277.0,492.5 L276.0,491.9 L274.6,491.8 L273.0,491.8 L271.9,491.1 L271.4,489.7 L271.4,488.2 L271.1,486.9 L270.3,486.0 L269.0,485.2 L267.9,484.1 L267.7,482.8 L268.4,481.4 L269.2,480.2 L269.3,479.0 L268.8,477.7 L268.2,476.3 L268.3,474.9 L269.2,473.8 L270.6,473.1 L271.8,472.4 L272.3,471.3 L272.5,469.8 L272.9,468.4 L274.0,467.6 L275.5,467.6 L277.0,467.8 L278.2,467.5 L279.1,466.5 L280.2,465.4 L281.4,464.8 L282.8,465.1 L284.0,466.1 L285.1,466.9 L286.3,467.0 L287.8,466.5 L289.3,466.3 L290.5,466.8 L291.2,468.2 L291.6,469.6 L292.3,470.6 L293.5,471.2 L295.0,471.6 L296.2,472.4 L296.5,473.8 L296.1,475.3 L295.8,476.7 L296.2,477.8 L297.2,478.9Z" fill="#f3ab9e" stroke="#e98674" stroke-width="0.75"/>
<path d="M288.4,483.7 L288.2,485.0 L287.4,486.2 L286.4,487.1 L285.8,488.1 L285.5,489.2 L285.5,490.6 L285.5,492.0 L285.0,493.2 L284.0,494.0 L282.6,494.3 L281.3,494.5 L280.1,494.8 L279.2,495.5 L278.4,496.5 L277.5,497.6 L276.3,498.2 L275.0,498.2 L273.7,497.6 L272.6,496.8 L271.5,496.3 L270.4,496.3 L269.1,496.5 L267.7,496.7 L266.4,496.5 L265.4,495.6 L264.9,494.3 L264.5,493.0 L264.0,492.0 L263.1,491.2 L262.0,490.6 L260.8,489.8 L260.0,488.8 L259.8,487.5 L260.1,486.2 L260.7,484.9 L261.0,483.7 L260.8,482.6 L260.3,481.4 L259.9,480.0 L260.0,478.7 L260.6,477.6 L261.8,476.8 L263.0,476.2 L264.0,475.5 L264.6,474.6 L265.0,473.3 L265.5,472.0 L266.4,471.0 L267.6,470.6 L269.0,470.7 L270.4,471.1 L271.5,471.2 L272.6,470.8 L273.7,470.1 L275.0,469.5 L276.3,469.3 L277.5,469.8 L278.5,470.7 L279.3,471.8 L280.1,472.7 L281.2,473.1 L282.5,473.3 L283.9,473.6 L285.0,474.3 L285.6,475.4 L285.7,476.8 L285.7,478.2 L285.8,479.4 L286.3,480.4 L287.2,481.4 L288.0,482.5Z" fill="#f3ab9e" stroke="#e98674" stroke-width="0.75"/>
<path d="M270.0,477.1 L269.2,478.1 L268.9,479.1 L269.2,480.1 L269.6,481.3 L269.5,482.5 L268.7,483.3 L267.5,483.7 L266.5,484.2 L266.0,485.0 L265.7,486.2 L265.3,487.4 L264.4,488.0 L263.1,488.0 L261.9,487.7 L260.9,487.7 L260.1,488.4 L259.2,489.3 L258.1,489.7 L257.0,489.4 L256.1,488.5 L255.2,487.8 L254.3,487.6 L253.1,487.8 L251.9,487.9 L250.9,487.4 L250.4,486.3 L250.1,485.1 L249.7,484.2 L248.8,483.7 L247.6,483.2 L246.7,482.5 L246.5,481.4 L246.8,480.2 L247.2,479.1 L247.1,478.1 L246.4,477.1 L245.7,476.1 L245.7,475.0 L246.4,474.0 L247.5,473.3 L248.2,472.5 L248.3,471.5 L248.2,470.2 L248.5,469.1 L249.3,468.4 L250.6,468.2 L251.7,468.1 L252.6,467.6 L253.2,466.6 L253.9,465.5 L254.8,465.0 L256.0,465.2 L257.1,465.8 L258.1,466.2 L259.1,465.9 L260.2,465.3 L261.3,465.0 L262.4,465.4 L263.1,466.5 L263.7,467.5 L264.4,468.1 L265.5,468.3 L266.8,468.4 L267.8,469.0 L268.1,470.1 L268.0,471.4 L268.0,472.5 L268.6,473.3 L269.6,474.1 L270.4,475.0 L270.6,476.1Z" fill="#f3ab9e" stroke="#e98674" stroke-width="0.75"/>
<path d="M254.4,475.3 L254.2,476.4 L253.5,477.4 L252.8,478.2 L252.2,479.1 L251.8,480.0 L251.7,481.0 L251.7,482.2 L251.4,483.3 L250.8,484.2 L249.8,484.7 L248.7,485.0 L247.5,485.1 L246.5,485.2 L245.6,485.6 L244.8,486.3 L243.9,487.1 L243.0,487.7 L241.9,487.9 L240.8,487.6 L239.8,486.9 L239.0,486.2 L238.1,485.6 L237.2,485.3 L236.2,485.2 L235.0,485.1 L233.9,484.8 L233.0,484.2 L232.4,483.2 L232.2,482.1 L232.1,480.9 L232.0,479.9 L231.5,479.1 L230.9,478.3 L230.1,477.4 L229.5,476.4 L229.3,475.3 L229.6,474.2 L230.2,473.3 L231.0,472.4 L231.6,471.6 L231.9,470.7 L232.0,469.6 L232.1,468.5 L232.4,467.3 L233.0,466.4 L234.0,465.9 L235.1,465.6 L236.2,465.5 L237.2,465.4 L238.1,465.0 L238.9,464.3 L239.8,463.5 L240.8,462.9 L241.9,462.8 L242.9,463.0 L243.9,463.7 L244.8,464.4 L245.6,465.0 L246.5,465.3 L247.6,465.4 L248.7,465.5 L249.8,465.8 L250.8,466.4 L251.3,467.4 L251.6,468.5 L251.6,469.7 L251.8,470.7 L252.2,471.5 L252.9,472.4 L253.6,473.2 L254.2,474.2Z" fill="#f3ab9e" stroke="#e98674" stroke-width="0.75"/>
<path d="M252.2,463.9 L251.3,465.0 L250.7,466.1 L250.7,467.2 L251.1,468.5 L251.3,469.8 L250.7,470.9 L249.4,471.5 L248.2,471.9 L247.3,472.6 L246.9,473.7 L246.5,475.1 L245.7,476.1 L244.4,476.3 L243.0,476.0 L241.8,475.7 L240.8,476.2 L239.8,477.1 L238.7,477.8 L237.4,477.8 L236.3,477.0 L235.4,476.0 L234.5,475.4 L233.3,475.5 L231.9,475.7 L230.6,475.4 L229.8,474.4 L229.6,473.0 L229.3,471.8 L228.5,471.0 L227.3,470.5 L226.1,469.8 L225.5,468.7 L225.8,467.4 L226.3,466.1 L226.5,465.0 L226.0,463.9 L225.2,462.8 L224.8,461.5 L225.4,460.4 L226.5,459.5 L227.5,458.7 L228.0,457.8 L228.0,456.5 L228.1,455.0 L228.8,454.0 L230.0,453.7 L231.4,453.6 L232.6,453.4 L233.3,452.5 L234.1,451.3 L235.0,450.4 L236.3,450.3 L237.5,451.0 L238.7,451.6 L239.7,451.7 L240.9,451.2 L242.2,450.6 L243.4,450.8 L244.4,451.7 L245.0,453.0 L245.6,453.9 L246.7,454.3 L248.1,454.5 L249.4,454.9 L250.0,456.0 L250.0,457.4 L249.8,458.7 L250.2,459.7 L251.1,460.6 L252.2,461.6 L252.6,462.7Z" fill="#f3ab9e" stroke="#e98674" stroke-width="0.75"/>
<path d="M244.7,457.6 L244.2,458.7 L244.0,459.7 L244.3,460.9 L244.6,462.2 L244.6,463.4 L244.0,464.5 L243.0,465.2 L241.8,465.7 L240.7,466.1 L239.9,466.8 L239.4,467.9 L238.8,469.1 L238.0,470.0 L236.9,470.5 L235.6,470.3 L234.4,469.9 L233.3,469.6 L232.2,469.7 L231.1,470.1 L229.9,470.6 L228.7,470.8 L227.5,470.5 L226.7,469.6 L226.0,468.4 L225.3,467.5 L224.5,466.8 L223.4,466.5 L222.1,466.1 L221.0,465.5 L220.4,464.5 L220.3,463.2 L220.5,461.9 L220.6,460.7 L220.4,459.7 L219.8,458.7 L219.0,457.6 L218.6,456.4 L218.8,455.3 L219.5,454.2 L220.5,453.4 L221.3,452.6 L221.8,451.6 L222.0,450.5 L222.1,449.2 L222.5,448.0 L223.4,447.2 L224.7,446.9 L226.0,446.8 L227.1,446.8 L228.1,446.4 L229.0,445.6 L229.9,444.6 L231.0,444.0 L232.2,444.0 L233.4,444.5 L234.4,445.4 L235.3,446.1 L236.3,446.4 L237.5,446.3 L238.8,446.2 L240.1,446.4 L241.0,447.2 L241.5,448.3 L241.8,449.6 L242.0,450.8 L242.6,451.6 L243.5,452.4 L244.6,453.1 L245.4,454.1 L245.7,455.3 L245.3,456.5Z" fill="#f3ab9e" stroke="#e98674" stroke-width="0.75"/>
<path d="M239.2,450.5 L239.1,451.5 L239.4,452.7 L239.7,453.9 L239.9,455.2 L239.7,456.4 L238.9,457.4 L237.8,458.1 L236.7,458.6 L235.6,459.1 L234.8,459.9 L234.2,460.8 L233.6,462.0 L232.8,463.0 L231.7,463.7 L230.5,463.9 L229.2,463.6 L228.0,463.1 L226.9,462.8 L225.8,462.7 L224.7,462.9 L223.5,463.3 L222.2,463.5 L221.0,463.2 L220.0,462.5 L219.3,461.4 L218.7,460.2 L218.2,459.1 L217.5,458.3 L216.5,457.7 L215.4,457.1 L214.4,456.3 L213.7,455.3 L213.5,454.0 L213.8,452.8 L214.2,451.6 L214.6,450.5 L214.7,449.4 L214.4,448.2 L214.1,447.0 L213.9,445.7 L214.2,444.5 L214.9,443.5 L216.0,442.8 L217.2,442.3 L218.2,441.8 L219.0,441.0 L219.6,440.1 L220.3,438.9 L221.1,437.9 L222.1,437.2 L223.3,437.0 L224.6,437.3 L225.8,437.8 L226.9,438.2 L228.0,438.2 L229.1,438.0 L230.3,437.6 L231.6,437.4 L232.9,437.7 L233.8,438.4 L234.6,439.5 L235.1,440.7 L235.6,441.8 L236.3,442.6 L237.3,443.2 L238.4,443.8 L239.5,444.6 L240.1,445.6 L240.3,446.9 L240.0,448.1 L239.6,449.3Z" fill="#f3ab9e" stroke="#e98674" stroke-width="0.75"/>
<path d="M234.4,444.3 L234.0,445.5 L234.2,446.7 L234.8,448.1 L235.0,449.5 L234.6,450.8 L233.4,451.6 L232.0,452.2 L231.0,452.9 L230.3,453.9 L230.0,455.3 L229.4,456.7 L228.4,457.6 L227.0,457.7 L225.5,457.4 L224.2,457.2 L223.1,457.6 L222.0,458.5 L220.8,459.3 L219.4,459.6 L218.2,459.0 L217.1,458.0 L216.2,457.0 L215.1,456.5 L213.8,456.5 L212.2,456.5 L210.9,456.1 L210.1,455.0 L209.8,453.5 L209.7,452.1 L209.2,451.0 L208.2,450.2 L206.9,449.4 L206.0,448.3 L205.8,447.0 L206.4,445.6 L207.1,444.3 L207.5,443.2 L207.3,442.0 L206.7,440.6 L206.5,439.1 L206.9,437.9 L208.1,437.0 L209.5,436.4 L210.6,435.8 L211.2,434.7 L211.5,433.3 L212.1,432.0 L213.1,431.1 L214.5,430.9 L216.0,431.2 L217.3,431.4 L218.4,431.1 L219.5,430.2 L220.8,429.4 L222.1,429.1 L223.3,429.6 L224.4,430.7 L225.3,431.7 L226.4,432.2 L227.8,432.2 L229.3,432.2 L230.6,432.6 L231.4,433.7 L231.7,435.2 L231.8,436.6 L232.3,437.7 L233.3,438.5 L234.6,439.3 L235.5,440.4 L235.7,441.7 L235.1,443.1Z" fill="#f3ab9e" stroke="#e98674" stroke-width="0.75"/>
<path d="M226.5,438.0 L227.0,439.3 L226.7,440.6 L225.6,441.6 L224.5,442.5 L224.0,443.5 L224.1,444.9 L224.2,446.4 L223.6,447.6 L222.3,448.2 L220.8,448.4 L219.6,448.7 L218.8,449.6 L218.1,450.9 L217.2,452.0 L216.0,452.3 L214.5,451.8 L213.3,451.2 L212.1,451.1 L210.9,451.7 L209.6,452.4 L208.2,452.5 L207.1,451.6 L206.4,450.3 L205.6,449.3 L204.5,448.9 L203.0,448.9 L201.6,448.5 L200.7,447.6 L200.5,446.1 L200.6,444.6 L200.3,443.5 L199.3,442.7 L198.0,441.8 L197.3,440.6 L197.6,439.3 L198.4,438.0 L199.1,436.9 L199.0,435.7 L198.5,434.3 L198.1,432.9 L198.6,431.7 L199.8,430.9 L201.2,430.3 L202.1,429.6 L202.5,428.4 L202.8,426.9 L203.5,425.7 L204.8,425.3 L206.3,425.5 L207.6,425.7 L208.7,425.2 L209.7,424.2 L210.8,423.2 L212.1,423.0 L213.4,423.8 L214.4,424.8 L215.5,425.4 L216.7,425.3 L218.2,424.9 L219.6,425.0 L220.6,425.9 L221.0,427.4 L221.4,428.7 L222.2,429.5 L223.5,430.0 L224.9,430.6 L225.7,431.7 L225.6,433.1 L225.1,434.5 L225.0,435.7 L225.5,436.8Z" fill="#f3ab9e" stroke="#e98674" stroke-width="0.75"/>
<path d="M218.5,430.3 L219.0,431.4 L219.7,432.8 L219.9,434.1 L219.2,435.2 L217.9,436.0 L216.8,436.7 L216.3,437.7 L216.2,439.1 L216.0,440.6 L215.1,441.5 L213.7,441.7 L212.3,441.7 L211.1,441.9 L210.2,442.8 L209.4,444.0 L208.2,444.8 L207.0,444.7 L205.7,443.9 L204.6,443.1 L203.5,443.0 L202.2,443.5 L200.7,443.9 L199.5,443.6 L198.7,442.5 L198.1,441.1 L197.5,440.1 L196.4,439.6 L194.9,439.3 L193.7,438.7 L193.2,437.5 L193.3,436.1 L193.6,434.7 L193.3,433.6 L192.3,432.6 L191.3,431.5 L191.0,430.3 L191.6,429.1 L192.6,428.0 L193.3,427.0 L193.3,425.8 L193.0,424.4 L193.0,423.0 L193.8,421.9 L195.2,421.5 L196.5,421.1 L197.4,420.4 L197.9,419.2 L198.5,417.8 L199.5,417.0 L200.8,416.9 L202.2,417.4 L203.5,417.7 L204.6,417.3 L205.7,416.4 L207.0,415.7 L208.2,415.9 L209.3,416.9 L210.1,418.1 L211.1,418.7 L212.4,418.7 L213.9,418.6 L215.2,419.0 L215.8,420.2 L216.0,421.7 L216.2,422.9 L217.0,423.8 L218.2,424.4 L219.4,425.3 L219.8,426.5 L219.4,427.9 L218.7,429.1Z" fill="#f3ab9e" stroke="#e98674" stroke-width="0.75"/>
<path d="M216.9,414.7 L217.4,415.8 L218.1,417.1 L218.2,418.3 L217.4,419.4 L216.2,420.1 L215.2,420.8 L214.8,421.8 L214.8,423.2 L214.5,424.6 L213.6,425.4 L212.2,425.6 L210.9,425.5 L209.8,425.8 L209.0,426.7 L208.2,427.8 L207.1,428.5 L205.9,428.3 L204.7,427.5 L203.6,426.9 L202.5,426.9 L201.3,427.4 L199.9,427.7 L198.8,427.4 L198.0,426.2 L197.5,424.9 L196.8,424.1 L195.7,423.7 L194.3,423.4 L193.2,422.8 L192.8,421.6 L193.0,420.2 L193.2,418.9 L192.8,417.9 L191.8,417.0 L190.9,415.9 L190.7,414.7 L191.3,413.6 L192.3,412.5 L192.9,411.6 L192.8,410.4 L192.5,409.0 L192.6,407.7 L193.4,406.8 L194.7,406.4 L196.0,406.0 L196.8,405.3 L197.2,404.1 L197.8,402.8 L198.8,402.0 L200.1,402.1 L201.4,402.5 L202.5,402.7 L203.6,402.2 L204.7,401.4 L205.9,400.8 L207.1,401.1 L208.0,402.1 L208.9,403.1 L209.8,403.6 L211.1,403.6 L212.5,403.5 L213.7,404.0 L214.2,405.2 L214.4,406.6 L214.6,407.7 L215.5,408.5 L216.7,409.1 L217.8,410.0 L218.1,411.1 L217.6,412.4 L217.0,413.6Z" fill="#f3ab9e" stroke="#e98674" stroke-width="0.75"/>
<path d="M220.4,401.8 L219.8,403.0 L219.1,404.0 L218.6,404.9 L218.4,406.0 L218.4,407.2 L218.4,408.5 L218.2,409.7 L217.5,410.7 L216.5,411.3 L215.2,411.7 L214.0,411.9 L213.0,412.2 L212.1,412.9 L211.3,413.7 L210.4,414.7 L209.3,415.4 L208.2,415.6 L206.9,415.3 L205.8,414.6 L204.8,413.9 L203.8,413.4 L202.8,413.3 L201.6,413.3 L200.3,413.3 L199.1,413.1 L198.1,412.4 L197.4,411.3 L197.1,410.1 L196.9,408.9 L196.5,407.8 L195.9,407.0 L195.1,406.2 L194.1,405.3 L193.4,404.2 L193.2,403.0 L193.5,401.8 L194.1,400.7 L194.8,399.7 L195.3,398.7 L195.5,397.7 L195.5,396.5 L195.4,395.2 L195.7,394.0 L196.4,393.0 L197.4,392.3 L198.7,392.0 L199.9,391.8 L200.9,391.4 L201.8,390.8 L202.6,389.9 L203.5,389.0 L204.6,388.3 L205.7,388.1 L206.9,388.4 L208.1,389.0 L209.1,389.7 L210.1,390.2 L211.1,390.4 L212.3,390.4 L213.6,390.3 L214.8,390.6 L215.8,391.3 L216.5,392.3 L216.8,393.6 L217.0,394.8 L217.4,395.8 L218.0,396.7 L218.8,397.5 L219.8,398.4 L220.5,399.5 L220.7,400.6Z" fill="#f3ab9e" stroke="#e98674" stroke-width="0.75"/>
<path d="M231.5,387.2 L231.2,388.3 L231.5,389.5 L232.0,390.8 L232.2,392.2 L231.6,393.4 L230.5,394.2 L229.2,394.7 L228.2,395.4 L227.7,396.5 L227.3,397.8 L226.8,399.1 L225.7,399.9 L224.4,400.0 L222.9,399.7 L221.7,399.6 L220.6,400.0 L219.6,400.9 L218.4,401.7 L217.1,401.9 L215.9,401.3 L214.9,400.2 L214.0,399.3 L212.9,398.9 L211.6,399.0 L210.1,399.0 L208.9,398.5 L208.1,397.4 L207.9,396.0 L207.7,394.6 L207.2,393.6 L206.2,392.8 L205.0,392.0 L204.1,391.0 L204.0,389.7 L204.6,388.4 L205.3,387.2 L205.6,386.0 L205.3,384.9 L204.7,383.5 L204.5,382.1 L205.1,381.0 L206.2,380.2 L207.5,379.6 L208.5,378.9 L209.1,377.9 L209.4,376.5 L210.0,375.2 L211.0,374.4 L212.4,374.3 L213.8,374.6 L215.0,374.7 L216.1,374.3 L217.2,373.4 L218.4,372.6 L219.7,372.5 L220.9,373.1 L221.9,374.1 L222.8,375.0 L223.8,375.4 L225.2,375.4 L226.6,375.4 L227.9,375.8 L228.6,376.9 L228.8,378.4 L229.0,379.7 L229.5,380.7 L230.6,381.5 L231.8,382.3 L232.6,383.3 L232.7,384.6 L232.1,386.0Z" fill="#f3ab9e" stroke="#e98674" stroke-width="0.75"/>
<path d="M241.1,372.2 L241.6,373.6 L241.5,374.9 L240.8,376.1 L239.8,377.1 L238.7,378.0 L237.9,378.9 L237.5,380.0 L237.2,381.3 L236.8,382.7 L236.2,383.9 L235.2,384.8 L233.8,385.2 L232.4,385.2 L231.0,385.0 L229.8,385.1 L228.7,385.5 L227.6,386.2 L226.4,387.0 L225.1,387.4 L223.7,387.3 L222.5,386.6 L221.5,385.6 L220.6,384.6 L219.7,383.8 L218.6,383.3 L217.3,383.0 L216.0,382.7 L214.7,382.0 L213.8,381.0 L213.5,379.7 L213.5,378.3 L213.6,376.9 L213.5,375.7 L213.1,374.6 L212.4,373.5 L211.6,372.2 L211.2,370.9 L211.3,369.6 L212.0,368.4 L213.0,367.3 L214.0,366.5 L214.8,365.6 L215.3,364.5 L215.6,363.2 L216.0,361.8 L216.6,360.5 L217.6,359.7 L218.9,359.3 L220.4,359.3 L221.7,359.4 L222.9,359.3 L224.0,358.9 L225.2,358.2 L226.4,357.5 L227.7,357.0 L229.0,357.1 L230.2,357.8 L231.3,358.8 L232.1,359.9 L233.1,360.7 L234.1,361.2 L235.4,361.4 L236.8,361.8 L238.1,362.4 L238.9,363.4 L239.3,364.8 L239.3,366.2 L239.2,367.6 L239.3,368.8 L239.7,369.9 L240.4,371.0Z" fill="#f3ab9e" stroke="#e98674" stroke-width="0.75"/>
<path d="M264.5,362.7 L264.6,364.4 L264.0,365.9 L262.9,367.2 L261.7,368.4 L260.8,369.6 L260.2,370.9 L260.0,372.4 L259.7,374.2 L259.1,375.8 L258.1,377.0 L256.6,377.6 L254.8,377.8 L253.2,377.8 L251.7,377.9 L250.3,378.5 L249.1,379.4 L247.7,380.4 L246.1,381.1 L244.5,381.2 L243.0,380.6 L241.6,379.6 L240.4,378.4 L239.3,377.4 L238.0,376.9 L236.4,376.6 L234.7,376.3 L233.1,375.8 L231.9,374.7 L231.2,373.2 L231.1,371.4 L231.1,369.8 L230.9,368.3 L230.4,367.0 L229.5,365.7 L228.4,364.3 L227.7,362.7 L227.6,361.1 L228.2,359.6 L229.3,358.2 L230.5,357.1 L231.5,355.9 L232.0,354.6 L232.3,353.0 L232.5,351.3 L233.1,349.7 L234.2,348.5 L235.7,347.9 L237.4,347.7 L239.1,347.7 L240.6,347.5 L241.9,347.0 L243.2,346.1 L244.6,345.1 L246.1,344.3 L247.7,344.2 L249.3,344.8 L250.6,345.9 L251.8,347.1 L253.0,348.1 L254.3,348.6 L255.8,348.9 L257.5,349.1 L259.1,349.7 L260.4,350.8 L261.0,352.3 L261.2,354.0 L261.2,355.7 L261.3,357.2 L261.9,358.5 L262.8,359.8 L263.8,361.2Z" fill="#f3ab9e" stroke="#e98674" stroke-width="0.75"/>
<path d="M251.4,381.3 L252.0,382.7 L251.6,384.0 L250.5,385.1 L249.3,386.1 L248.8,387.2 L248.9,388.6 L248.9,390.2 L248.4,391.5 L247.0,392.1 L245.4,392.3 L244.1,392.6 L243.3,393.5 L242.6,395.0 L241.6,396.1 L240.3,396.4 L238.8,395.9 L237.5,395.2 L236.2,395.1 L235.0,395.8 L233.6,396.5 L232.1,396.6 L231.0,395.7 L230.2,394.3 L229.3,393.3 L228.2,392.8 L226.6,392.8 L225.1,392.4 L224.2,391.4 L224.0,389.9 L224.1,388.3 L223.7,387.1 L222.7,386.3 L221.4,385.3 L220.6,384.1 L220.9,382.7 L221.8,381.3 L222.5,380.1 L222.5,378.9 L221.9,377.5 L221.5,376.0 L222.0,374.7 L223.3,373.8 L224.7,373.2 L225.7,372.5 L226.1,371.2 L226.4,369.6 L227.2,368.4 L228.5,367.9 L230.1,368.1 L231.5,368.3 L232.6,367.9 L233.7,366.8 L234.9,365.7 L236.2,365.5 L237.6,366.3 L238.7,367.4 L239.8,368.0 L241.1,367.9 L242.7,367.5 L244.1,367.6 L245.2,368.6 L245.6,370.1 L246.0,371.5 L246.9,372.4 L248.3,372.9 L249.7,373.5 L250.6,374.6 L250.5,376.1 L250.0,377.6 L249.8,378.9 L250.4,380.1Z" fill="#f3ab9e" stroke="#e98674" stroke-width="0.75"/>
<path d="M271.5,380.1 L271.6,381.5 L270.7,382.7 L269.6,383.7 L268.8,384.7 L268.8,386.0 L269.1,387.6 L268.9,389.0 L267.8,389.9 L266.3,390.3 L264.9,390.6 L264.0,391.3 L263.3,392.6 L262.6,394.0 L261.4,394.7 L260.0,394.5 L258.5,393.9 L257.3,393.6 L256.1,394.1 L254.8,395.0 L253.4,395.4 L252.1,395.0 L251.1,393.7 L250.3,392.5 L249.3,391.9 L247.8,391.9 L246.3,391.8 L245.1,391.1 L244.6,389.8 L244.6,388.2 L244.3,386.9 L243.5,386.0 L242.2,385.2 L241.1,384.1 L240.9,382.8 L241.6,381.4 L242.3,380.1 L242.5,378.9 L242.0,377.6 L241.4,376.2 L241.4,374.8 L242.4,373.7 L243.8,373.0 L245.0,372.3 L245.5,371.2 L245.7,369.7 L246.1,368.2 L247.2,367.4 L248.8,367.4 L250.3,367.6 L251.4,367.3 L252.4,366.4 L253.5,365.2 L254.7,364.6 L256.1,364.9 L257.3,365.9 L258.5,366.7 L259.7,366.8 L261.1,366.3 L262.6,366.1 L263.9,366.7 L264.6,368.0 L265.0,369.5 L265.7,370.5 L266.9,371.0 L268.5,371.4 L269.6,372.3 L269.9,373.7 L269.6,375.2 L269.3,376.6 L269.6,377.7 L270.6,378.8Z" fill="#f3ab9e" stroke="#e98674" stroke-width="0.75"/>
<path d="M296.9,379.5 L296.1,380.9 L295.2,382.2 L294.4,383.5 L294.0,384.8 L294.0,386.2 L294.0,387.8 L293.8,389.5 L293.0,390.8 L291.8,391.8 L290.2,392.3 L288.6,392.5 L287.2,392.8 L286.0,393.5 L285.0,394.5 L283.8,395.6 L282.5,396.6 L281.1,397.1 L279.5,396.8 L278.1,396.1 L276.8,395.1 L275.5,394.4 L274.2,394.0 L272.8,393.9 L271.2,394.0 L269.5,393.7 L268.2,393.0 L267.2,391.8 L266.7,390.2 L266.5,388.6 L266.2,387.2 L265.5,386.0 L264.5,384.9 L263.4,383.8 L262.4,382.5 L261.9,381.0 L262.1,379.5 L262.9,378.0 L263.9,376.7 L264.6,375.5 L265.0,374.2 L265.1,372.8 L265.0,371.1 L265.3,369.5 L266.0,368.1 L267.2,367.2 L268.8,366.7 L270.4,366.5 L271.8,366.1 L273.0,365.5 L274.1,364.5 L275.2,363.3 L276.5,362.4 L278.0,361.9 L279.5,362.1 L281.0,362.9 L282.3,363.8 L283.5,364.6 L284.8,365.0 L286.2,365.0 L287.9,365.0 L289.5,365.2 L290.9,366.0 L291.8,367.2 L292.3,368.8 L292.5,370.4 L292.9,371.8 L293.5,373.0 L294.5,374.0 L295.7,375.2 L296.6,376.5 L297.1,377.9Z" fill="#f3ab9e" stroke="#e98674" stroke-width="0.75"/>
<path d="M319.2,380.3 L319.8,381.7 L320.4,383.2 L320.5,384.8 L320.0,386.2 L318.9,387.3 L317.6,388.2 L316.3,389.0 L315.4,390.0 L314.7,391.1 L314.2,392.6 L313.5,394.0 L312.5,395.2 L311.1,395.9 L309.5,395.9 L308.0,395.6 L306.5,395.3 L305.2,395.3 L303.9,395.6 L302.5,396.3 L301.0,396.8 L299.4,396.9 L298.0,396.4 L296.8,395.4 L295.9,394.0 L295.1,392.8 L294.2,391.8 L293.0,391.1 L291.6,390.6 L290.1,389.9 L289.0,388.9 L288.3,387.6 L288.3,386.0 L288.6,384.4 L288.9,383.0 L288.9,381.6 L288.5,380.3 L287.9,378.9 L287.4,377.4 L287.2,375.9 L287.8,374.4 L288.8,373.3 L290.1,372.4 L291.4,371.6 L292.4,370.7 L293.0,369.5 L293.6,368.0 L294.3,366.6 L295.3,365.4 L296.6,364.8 L298.2,364.7 L299.8,365.0 L301.2,365.3 L302.6,365.4 L303.9,365.0 L305.3,364.4 L306.8,363.8 L308.3,363.7 L309.7,364.2 L310.9,365.3 L311.8,366.6 L312.6,367.9 L313.5,368.8 L314.7,369.5 L316.1,370.0 L317.6,370.7 L318.8,371.7 L319.4,373.1 L319.5,374.6 L319.2,376.2 L318.8,377.7 L318.8,379.0Z" fill="#f3ab9e" stroke="#e98674" stroke-width="0.75"/>
<path d="M240.2,403.0 L240.3,404.5 L239.5,406.0 L238.2,407.2 L237.2,408.3 L236.8,409.6 L236.9,411.2 L236.9,413.0 L236.2,414.4 L234.8,415.2 L233.1,415.5 L231.5,415.8 L230.4,416.5 L229.5,417.8 L228.5,419.2 L227.2,420.2 L225.6,420.2 L224.0,419.5 L222.6,418.7 L221.2,418.4 L219.8,418.9 L218.1,419.5 L216.5,419.7 L215.1,418.9 L214.2,417.5 L213.5,416.0 L212.6,414.8 L211.3,414.3 L209.6,413.8 L208.1,413.1 L207.2,411.8 L207.2,410.1 L207.5,408.4 L207.6,407.0 L207.0,405.7 L205.9,404.4 L205.0,403.0 L204.9,401.4 L205.7,400.0 L206.9,398.8 L208.0,397.7 L208.4,396.4 L208.3,394.7 L208.3,393.0 L208.9,391.5 L210.3,390.7 L212.1,390.4 L213.6,390.2 L214.8,389.5 L215.7,388.2 L216.7,386.7 L218.0,385.8 L219.5,385.7 L221.1,386.5 L222.6,387.3 L223.9,387.5 L225.4,387.1 L227.0,386.4 L228.7,386.3 L230.0,387.0 L231.0,388.4 L231.7,390.0 L232.5,391.1 L233.9,391.7 L235.5,392.1 L237.1,392.8 L237.9,394.1 L238.0,395.8 L237.6,397.5 L237.5,399.0 L238.1,400.2 L239.2,401.5Z" fill="#f3ab9e" stroke="#e98674" stroke-width="0.75"/>
<path d="M261.8,401.6 L261.1,402.9 L260.2,404.0 L259.5,405.1 L259.3,406.3 L259.5,407.6 L259.5,409.1 L259.2,410.5 L258.2,411.5 L256.9,412.0 L255.4,412.3 L254.2,412.7 L253.3,413.4 L252.5,414.6 L251.6,415.8 L250.5,416.6 L249.1,416.7 L247.8,416.2 L246.5,415.5 L245.3,415.0 L244.1,415.1 L242.8,415.4 L241.3,415.8 L239.9,415.6 L238.8,414.9 L238.1,413.6 L237.5,412.3 L236.9,411.1 L236.0,410.4 L234.7,409.8 L233.4,409.1 L232.4,408.1 L232.1,406.8 L232.3,405.4 L232.8,404.0 L233.0,402.8 L232.8,401.6 L232.2,400.3 L231.6,399.0 L231.5,397.6 L232.1,396.3 L233.2,395.4 L234.4,394.6 L235.4,393.8 L236.0,392.8 L236.3,391.5 L236.8,390.0 L237.6,388.9 L238.8,388.3 L240.3,388.3 L241.7,388.5 L243.0,388.5 L244.1,388.1 L245.2,387.3 L246.5,386.5 L247.8,386.1 L249.1,386.5 L250.3,387.4 L251.2,388.5 L252.2,389.3 L253.3,389.7 L254.7,389.9 L256.2,390.0 L257.4,390.6 L258.2,391.7 L258.5,393.2 L258.5,394.6 L258.7,395.9 L259.3,396.9 L260.3,397.9 L261.3,399.0 L261.9,400.2Z" fill="#f3ab9e" stroke="#e98674" stroke-width="0.75"/>
<path d="M286.7,402.2 L286.9,403.7 L286.6,405.1 L285.6,406.4 L284.5,407.5 L283.5,408.5 L282.8,409.6 L282.5,410.9 L282.2,412.4 L281.8,414.0 L280.9,415.2 L279.6,415.9 L278.1,416.2 L276.5,416.2 L275.1,416.2 L273.8,416.5 L272.7,417.2 L271.4,418.1 L270.0,418.8 L268.5,419.1 L267.1,418.7 L265.8,417.8 L264.7,416.7 L263.7,415.7 L262.6,415.0 L261.3,414.7 L259.7,414.4 L258.2,414.0 L257.0,413.1 L256.2,411.8 L256.0,410.3 L256.0,408.7 L256.0,407.3 L255.7,406.0 L255.0,404.8 L254.1,403.6 L253.4,402.2 L253.1,400.7 L253.5,399.3 L254.4,398.0 L255.5,396.9 L256.5,395.9 L257.2,394.8 L257.5,393.4 L257.8,391.9 L258.2,390.4 L259.1,389.2 L260.4,388.4 L261.9,388.2 L263.5,388.2 L264.9,388.2 L266.2,387.9 L267.4,387.2 L268.6,386.3 L270.0,385.5 L271.5,385.3 L272.9,385.6 L274.2,386.5 L275.3,387.7 L276.3,388.7 L277.4,389.4 L278.7,389.7 L280.3,389.9 L281.8,390.4 L283.0,391.3 L283.8,392.5 L284.0,394.1 L284.0,395.7 L284.0,397.1 L284.3,398.3 L285.0,399.5 L285.9,400.8Z" fill="#f3ab9e" stroke="#e98674" stroke-width="0.75"/>
<path d="M309.7,399.8 L310.6,401.4 L310.6,403.0 L309.5,404.4 L308.0,405.5 L307.0,406.6 L306.9,408.1 L307.0,410.0 L306.6,411.6 L305.3,412.6 L303.5,412.9 L301.8,413.1 L300.6,413.8 L299.7,415.3 L298.7,416.8 L297.3,417.6 L295.6,417.2 L294.0,416.3 L292.5,415.8 L291.1,416.2 L289.5,417.1 L287.8,417.6 L286.3,416.9 L285.3,415.4 L284.4,413.9 L283.3,413.0 L281.6,412.8 L279.8,412.6 L278.4,411.7 L278.0,410.0 L278.1,408.2 L278.0,406.6 L277.1,405.4 L275.7,404.4 L274.5,403.0 L274.4,401.4 L275.3,399.8 L276.3,398.4 L276.7,397.0 L276.3,395.5 L275.7,393.7 L275.9,392.1 L277.1,390.9 L278.8,390.2 L280.3,389.5 L281.0,388.3 L281.4,386.5 L282.1,384.9 L283.4,384.0 L285.2,384.1 L287.0,384.5 L288.4,384.4 L289.6,383.3 L291.0,382.1 L292.5,381.4 L294.1,382.0 L295.5,383.2 L296.7,384.3 L298.1,384.6 L299.8,384.2 L301.6,384.1 L303.0,384.8 L303.8,386.5 L304.1,388.2 L304.8,389.5 L306.2,390.3 L307.9,391.0 L309.2,392.1 L309.5,393.7 L308.9,395.4 L308.4,397.0 L308.7,398.4Z" fill="#f3ab9e" stroke="#e98674" stroke-width="0.75"/>
<path d="M331.2,398.6 L330.3,399.9 L329.8,401.2 L329.7,402.5 L330.0,404.0 L330.2,405.5 L329.9,407.0 L328.9,408.1 L327.5,408.8 L326.0,409.2 L324.8,409.8 L323.9,410.8 L323.2,412.1 L322.3,413.5 L321.1,414.4 L319.7,414.6 L318.2,414.2 L316.7,413.6 L315.4,413.2 L314.1,413.4 L312.7,414.0 L311.2,414.4 L309.7,414.4 L308.4,413.6 L307.5,412.3 L306.8,410.9 L306.0,409.8 L304.9,409.1 L303.5,408.6 L302.0,408.0 L300.9,407.0 L300.4,405.6 L300.6,404.0 L300.9,402.5 L301.1,401.2 L300.6,399.9 L299.9,398.6 L299.1,397.2 L298.9,395.7 L299.5,394.4 L300.6,393.2 L301.8,392.3 L302.8,391.3 L303.3,390.1 L303.5,388.6 L303.8,387.1 L304.6,385.8 L305.9,385.1 L307.5,385.0 L309.1,385.1 L310.4,384.9 L311.6,384.3 L312.7,383.3 L314.0,382.3 L315.4,381.9 L316.8,382.2 L318.2,383.1 L319.3,384.2 L320.4,384.9 L321.7,385.2 L323.2,385.2 L324.8,385.2 L326.2,385.8 L327.1,386.9 L327.5,388.5 L327.7,390.0 L328.0,391.3 L328.8,392.4 L330.0,393.3 L331.2,394.4 L331.9,395.7 L331.9,397.2Z" fill="#f3ab9e" stroke="#e98674" stroke-width="0.75"/>
<path d="M230.8,422.7 L231.1,424.2 L230.8,425.6 L229.7,426.8 L228.5,427.9 L227.6,428.9 L227.2,430.1 L227.1,431.7 L226.9,433.3 L226.3,434.6 L225.0,435.5 L223.5,435.8 L221.9,435.8 L220.5,436.0 L219.4,436.7 L218.4,437.8 L217.2,438.9 L215.8,439.5 L214.3,439.4 L212.9,438.6 L211.7,437.6 L210.5,436.9 L209.2,436.7 L207.7,436.9 L206.1,436.9 L204.6,436.5 L203.6,435.5 L203.1,434.0 L202.7,432.4 L202.3,431.1 L201.4,430.1 L200.2,429.3 L198.9,428.3 L198.0,427.1 L197.9,425.6 L198.4,424.1 L199.2,422.7 L199.7,421.4 L199.7,420.1 L199.2,418.7 L198.9,417.1 L199.0,415.6 L199.9,414.4 L201.3,413.5 L202.7,413.0 L203.9,412.3 L204.8,411.3 L205.4,409.9 L206.1,408.5 L207.2,407.4 L208.6,407.0 L210.2,407.3 L211.7,407.8 L213.0,408.1 L214.3,407.8 L215.7,407.1 L217.2,406.5 L218.7,406.4 L220.0,407.0 L221.1,408.2 L221.9,409.6 L222.8,410.7 L223.9,411.3 L225.4,411.6 L226.9,412.1 L228.2,413.0 L228.8,414.4 L228.8,416.0 L228.5,417.5 L228.5,418.9 L229.0,420.1 L229.9,421.3Z" fill="#f3ab9e" stroke="#e98674" stroke-width="0.75"/>
<path d="M255.1,422.9 L254.7,424.4 L253.8,425.8 L252.7,427.1 L251.8,428.2 L251.4,429.5 L251.3,431.0 L251.1,432.7 L250.7,434.3 L249.8,435.6 L248.5,436.4 L246.8,436.7 L245.2,436.8 L243.7,437.1 L242.5,437.7 L241.3,438.6 L240.1,439.7 L238.7,440.6 L237.1,440.9 L235.6,440.4 L234.2,439.5 L233.0,438.5 L231.8,437.6 L230.5,437.1 L229.0,437.0 L227.3,436.9 L225.7,436.5 L224.4,435.6 L223.6,434.2 L223.3,432.6 L223.2,430.9 L222.9,429.5 L222.3,428.3 L221.4,427.1 L220.3,425.9 L219.4,424.4 L219.2,422.9 L219.6,421.3 L220.5,420.0 L221.6,418.7 L222.4,417.5 L222.9,416.2 L223.0,414.7 L223.1,413.1 L223.5,411.5 L224.4,410.2 L225.8,409.4 L227.4,409.0 L229.1,408.9 L230.5,408.7 L231.7,408.1 L232.9,407.1 L234.2,406.0 L235.6,405.2 L237.1,404.9 L238.7,405.3 L240.1,406.2 L241.3,407.3 L242.5,408.2 L243.8,408.6 L245.3,408.8 L246.9,408.9 L248.5,409.3 L249.8,410.2 L250.6,411.6 L251.0,413.2 L251.1,414.8 L251.3,416.3 L251.9,417.5 L252.9,418.7 L254.0,419.9 L254.8,421.3Z" fill="#f3ab9e" stroke="#e98674" stroke-width="0.75"/>
<path d="M275.4,422.8 L275.5,424.3 L275.0,425.8 L273.9,427.0 L272.8,428.2 L271.9,429.2 L271.4,430.5 L271.1,432.0 L270.9,433.6 L270.3,435.1 L269.3,436.2 L267.9,436.9 L266.3,437.0 L264.7,437.0 L263.3,437.1 L262.0,437.7 L260.8,438.5 L259.5,439.5 L258.1,440.2 L256.5,440.3 L255.1,439.7 L253.8,438.7 L252.7,437.5 L251.6,436.6 L250.4,436.1 L248.9,435.9 L247.3,435.6 L245.8,435.1 L244.6,434.1 L244.0,432.6 L243.8,431.0 L243.8,429.4 L243.7,428.0 L243.2,426.8 L242.3,425.6 L241.4,424.3 L240.7,422.8 L240.6,421.3 L241.2,419.8 L242.2,418.5 L243.3,417.4 L244.2,416.3 L244.7,415.1 L245.0,413.6 L245.2,412.0 L245.8,410.5 L246.8,409.4 L248.2,408.7 L249.8,408.6 L251.4,408.6 L252.8,408.4 L254.1,407.9 L255.3,407.1 L256.6,406.1 L258.1,405.4 L259.6,405.3 L261.0,405.9 L262.3,406.9 L263.4,408.0 L264.5,408.9 L265.8,409.5 L267.2,409.7 L268.8,410.0 L270.3,410.5 L271.5,411.5 L272.1,412.9 L272.3,414.6 L272.3,416.2 L272.4,417.6 L272.9,418.8 L273.8,420.0 L274.8,421.3Z" fill="#f3ab9e" stroke="#e98674" stroke-width="0.75"/>
<path d="M294.6,419.0 L295.5,420.4 L295.7,421.8 L294.9,423.1 L293.6,424.1 L292.5,425.0 L292.2,426.2 L292.3,427.8 L292.1,429.4 L291.1,430.5 L289.5,430.8 L287.9,430.9 L286.7,431.3 L285.9,432.5 L285.1,433.9 L283.9,434.8 L282.4,434.7 L280.9,433.9 L279.6,433.2 L278.4,433.4 L277.0,434.1 L275.5,434.6 L274.1,434.3 L273.1,433.1 L272.4,431.6 L271.5,430.6 L270.1,430.3 L268.5,430.1 L267.1,429.5 L266.5,428.2 L266.6,426.5 L266.7,425.0 L266.1,423.9 L264.9,422.9 L263.8,421.8 L263.4,420.4 L264.0,419.0 L265.1,417.7 L265.7,416.5 L265.5,415.2 L264.9,413.6 L264.9,412.1 L265.7,411.0 L267.2,410.3 L268.7,409.8 L269.5,408.9 L269.9,407.4 L270.4,405.9 L271.5,404.9 L273.0,404.8 L274.6,405.2 L276.0,405.3 L277.1,404.6 L278.3,403.5 L279.6,402.7 L281.0,402.9 L282.3,404.0 L283.4,405.1 L284.5,405.6 L286.0,405.4 L287.6,405.2 L289.0,405.6 L289.8,406.9 L290.1,408.6 L290.5,409.9 L291.5,410.7 L293.1,411.3 L294.4,412.1 L294.8,413.5 L294.4,415.0 L293.8,416.5 L293.8,417.8Z" fill="#f3ab9e" stroke="#e98674" stroke-width="0.75"/>
<path d="M320.2,419.5 L320.3,420.9 L319.8,422.2 L318.7,423.4 L317.7,424.4 L317.0,425.4 L316.8,426.7 L316.8,428.2 L316.5,429.7 L315.7,430.9 L314.4,431.5 L312.9,431.7 L311.4,431.8 L310.3,432.2 L309.3,433.0 L308.3,434.2 L307.1,435.1 L305.8,435.5 L304.4,435.2 L303.1,434.3 L301.9,433.5 L300.8,433.0 L299.5,433.0 L298.0,433.3 L296.4,433.3 L295.2,432.7 L294.3,431.5 L293.9,430.0 L293.5,428.6 L292.9,427.5 L291.9,426.7 L290.6,425.9 L289.5,425.0 L288.9,423.7 L289.0,422.2 L289.6,420.8 L290.2,419.5 L290.5,418.3 L290.2,417.0 L289.7,415.6 L289.5,414.1 L289.8,412.8 L290.8,411.7 L292.2,411.0 L293.5,410.4 L294.5,409.7 L295.1,408.5 L295.7,407.1 L296.4,405.8 L297.6,405.0 L299.0,404.8 L300.5,405.2 L301.9,405.6 L303.1,405.6 L304.4,405.2 L305.7,404.4 L307.1,403.9 L308.5,404.0 L309.7,404.8 L310.6,406.1 L311.4,407.3 L312.4,408.1 L313.6,408.5 L315.1,408.8 L316.5,409.4 L317.5,410.3 L317.9,411.7 L317.8,413.3 L317.7,414.7 L317.9,415.9 L318.5,417.0 L319.5,418.2Z" fill="#f3ab9e" stroke="#e98674" stroke-width="0.75"/>
<path d="M341.9,423.2 L342.6,424.7 L342.6,426.3 L341.8,427.7 L340.5,428.9 L339.3,429.9 L338.5,431.0 L338.1,432.5 L337.9,434.1 L337.5,435.8 L336.4,437.0 L334.9,437.6 L333.2,437.6 L331.6,437.6 L330.2,437.9 L329.0,438.8 L327.8,440.0 L326.4,440.9 L324.9,441.2 L323.3,440.7 L322.0,439.6 L320.7,438.5 L319.5,437.9 L318.0,437.8 L316.3,438.0 L314.6,437.8 L313.3,437.0 L312.4,435.6 L312.1,433.9 L311.8,432.3 L311.3,431.0 L310.2,430.0 L308.8,429.0 L307.6,427.8 L307.1,426.3 L307.4,424.7 L308.2,423.2 L309.0,421.8 L309.4,420.4 L309.2,419.0 L308.8,417.3 L308.7,415.6 L309.2,414.2 L310.5,413.1 L312.1,412.5 L313.6,411.9 L314.8,411.1 L315.6,409.9 L316.3,408.4 L317.3,407.0 L318.7,406.2 L320.3,406.2 L322.0,406.8 L323.5,407.3 L324.9,407.5 L326.3,407.0 L327.8,406.4 L329.5,405.9 L331.0,406.2 L332.3,407.3 L333.2,408.7 L334.0,410.1 L335.0,411.1 L336.3,411.7 L337.9,412.2 L339.5,412.9 L340.5,414.2 L340.8,415.8 L340.5,417.5 L340.2,419.1 L340.3,420.4 L341.0,421.8Z" fill="#f3ab9e" stroke="#e98674" stroke-width="0.75"/>
<path d="M239.5,439.2 L240.3,440.6 L240.4,441.9 L239.5,443.1 L238.2,444.0 L237.3,445.0 L237.1,446.2 L237.2,447.7 L236.9,449.2 L235.9,450.1 L234.4,450.3 L232.9,450.4 L231.9,451.0 L231.1,452.2 L230.3,453.5 L229.1,454.2 L227.7,454.0 L226.3,453.3 L225.1,452.8 L223.9,453.0 L222.5,453.8 L221.1,454.2 L219.8,453.7 L218.9,452.5 L218.2,451.1 L217.3,450.3 L215.9,450.1 L214.4,449.9 L213.2,449.2 L212.7,447.9 L212.8,446.3 L212.8,445.0 L212.1,444.0 L210.9,443.0 L209.9,441.9 L209.7,440.6 L210.4,439.2 L211.3,438.0 L211.7,436.9 L211.4,435.6 L210.9,434.1 L211.0,432.7 L211.9,431.7 L213.4,431.1 L214.7,430.5 L215.4,429.5 L215.7,428.1 L216.2,426.6 L217.3,425.8 L218.8,425.9 L220.3,426.2 L221.6,426.2 L222.6,425.4 L223.8,424.3 L225.1,423.7 L226.4,424.1 L227.6,425.1 L228.6,426.1 L229.7,426.4 L231.2,426.1 L232.7,426.0 L234.0,426.5 L234.6,427.9 L234.9,429.4 L235.4,430.6 L236.5,431.2 L238.0,431.8 L239.1,432.7 L239.4,434.0 L239.0,435.5 L238.5,436.9 L238.6,438.1Z" fill="#f3ab9e" stroke="#e98674" stroke-width="0.75"/>
<path d="M262.0,442.5 L262.1,443.8 L262.8,445.1 L263.4,446.6 L263.1,448.0 L261.9,449.0 L260.4,449.7 L259.4,450.6 L259.1,451.9 L258.9,453.5 L258.3,454.9 L257.0,455.5 L255.4,455.4 L253.9,455.3 L252.8,455.9 L251.8,457.0 L250.7,458.2 L249.3,458.6 L247.9,458.0 L246.6,457.0 L245.5,456.4 L244.1,456.5 L242.6,457.1 L241.1,457.1 L239.9,456.3 L239.3,454.8 L238.8,453.4 L237.9,452.5 L236.4,452.1 L234.9,451.6 L233.9,450.6 L233.8,449.1 L234.2,447.5 L234.3,446.1 L233.7,445.0 L232.5,443.9 L231.8,442.5 L232.0,441.1 L233.0,439.9 L234.1,438.8 L234.6,437.7 L234.4,436.2 L234.2,434.6 L234.6,433.2 L235.9,432.4 L237.5,432.1 L238.8,431.7 L239.7,430.7 L240.2,429.2 L241.1,427.9 L242.4,427.4 L244.0,427.8 L245.4,428.4 L246.7,428.5 L247.9,427.7 L249.3,426.8 L250.7,426.6 L252.0,427.3 L253.0,428.6 L253.9,429.7 L255.1,430.1 L256.6,430.0 L258.2,430.2 L259.3,431.1 L259.6,432.7 L259.7,434.3 L260.1,435.5 L261.2,436.3 L262.6,437.1 L263.5,438.3 L263.5,439.8 L262.7,441.2Z" fill="#f3ab9e" stroke="#e98674" stroke-width="0.75"/>
<path d="M286.5,442.5 L285.5,444.0 L284.4,445.3 L283.9,446.6 L284.1,448.1 L284.4,449.8 L284.3,451.5 L283.4,452.7 L281.8,453.4 L280.1,453.9 L278.9,454.5 L278.0,455.7 L277.3,457.3 L276.4,458.7 L274.9,459.3 L273.3,459.1 L271.6,458.5 L270.2,458.1 L268.8,458.4 L267.4,459.3 L265.8,460.0 L264.2,459.9 L262.9,458.8 L261.9,457.3 L261.0,456.1 L259.8,455.5 L258.2,455.3 L256.4,455.0 L255.1,454.1 L254.5,452.6 L254.5,450.8 L254.6,449.2 L254.1,447.9 L253.0,446.8 L251.7,445.6 L251.0,444.1 L251.2,442.5 L252.2,441.1 L253.2,439.8 L253.7,438.5 L253.6,437.0 L253.2,435.3 L253.3,433.6 L254.3,432.4 L255.9,431.7 L257.5,431.2 L258.8,430.6 L259.6,429.4 L260.3,427.8 L261.3,426.4 L262.7,425.8 L264.4,426.0 L266.0,426.6 L267.5,427.0 L268.8,426.6 L270.3,425.8 L271.9,425.1 L273.5,425.2 L274.8,426.3 L275.7,427.7 L276.7,429.0 L277.9,429.6 L279.5,429.8 L281.2,430.1 L282.6,431.0 L283.2,432.5 L283.1,434.3 L283.1,435.9 L283.6,437.2 L284.7,438.3 L286.0,439.5 L286.7,441.0Z" fill="#f3ab9e" stroke="#e98674" stroke-width="0.75"/>
<path d="M310.7,442.3 L311.2,443.8 L312.0,445.4 L312.4,447.0 L311.9,448.5 L310.5,449.6 L309.0,450.5 L307.8,451.4 L307.3,452.8 L307.0,454.5 L306.5,456.2 L305.3,457.2 L303.6,457.5 L301.8,457.3 L300.3,457.3 L299.0,457.9 L297.8,459.1 L296.4,460.2 L294.8,460.6 L293.3,460.0 L291.9,458.8 L290.7,457.7 L289.4,457.4 L287.7,457.6 L285.9,457.7 L284.4,457.3 L283.3,456.0 L282.9,454.3 L282.5,452.6 L281.8,451.5 L280.4,450.6 L278.9,449.8 L277.7,448.6 L277.4,447.0 L278.0,445.3 L278.7,443.7 L279.0,442.3 L278.5,440.9 L277.7,439.3 L277.3,437.6 L277.8,436.1 L279.1,435.0 L280.7,434.2 L281.8,433.2 L282.4,431.9 L282.7,430.1 L283.2,428.5 L284.4,427.4 L286.1,427.1 L287.9,427.4 L289.4,427.4 L290.7,426.7 L291.9,425.6 L293.3,424.4 L294.8,424.1 L296.4,424.7 L297.7,425.9 L299.0,426.9 L300.3,427.3 L301.9,427.1 L303.7,426.9 L305.3,427.4 L306.3,428.6 L306.8,430.4 L307.1,432.0 L307.9,433.2 L309.2,434.0 L310.8,434.9 L312.0,436.1 L312.2,437.7 L311.7,439.4 L311.0,440.9Z" fill="#f3ab9e" stroke="#e98674" stroke-width="0.75"/>
<path d="M328.3,442.9 L328.9,444.2 L329.7,445.8 L330.0,447.4 L329.1,448.7 L327.6,449.7 L326.3,450.5 L325.7,451.7 L325.6,453.4 L325.3,455.1 L324.3,456.2 L322.6,456.5 L320.9,456.4 L319.5,456.7 L318.4,457.7 L317.4,459.2 L316.1,460.1 L314.5,460.0 L313.0,459.0 L311.7,458.1 L310.4,458.0 L308.8,458.6 L307.1,459.1 L305.6,458.7 L304.6,457.4 L304.0,455.7 L303.2,454.5 L301.9,454.0 L300.2,453.6 L298.7,452.9 L298.1,451.5 L298.3,449.7 L298.6,448.1 L298.2,446.8 L297.1,445.7 L295.9,444.4 L295.5,442.9 L296.2,441.4 L297.5,440.1 L298.3,438.9 L298.3,437.5 L297.9,435.8 L297.9,434.1 L298.8,432.9 L300.5,432.3 L302.1,431.9 L303.2,431.1 L303.8,429.7 L304.5,428.0 L305.6,427.0 L307.2,426.9 L308.9,427.5 L310.4,427.8 L311.7,427.3 L313.0,426.3 L314.6,425.5 L316.0,425.8 L317.3,427.0 L318.3,428.3 L319.5,429.0 L321.0,429.0 L322.8,428.9 L324.3,429.4 L325.1,430.8 L325.3,432.6 L325.5,434.1 L326.5,435.1 L328.0,435.9 L329.4,436.9 L329.9,438.4 L329.4,440.0 L328.5,441.5Z" fill="#f3ab9e" stroke="#e98674" stroke-width="0.75"/>
<path d="M252.7,459.2 L252.4,460.8 L251.5,462.2 L250.3,463.4 L249.4,464.6 L249.1,466.0 L249.1,467.6 L249.0,469.3 L248.5,470.9 L247.3,471.9 L245.6,472.4 L243.9,472.5 L242.5,472.9 L241.3,473.7 L240.3,475.0 L239.1,476.3 L237.7,477.1 L236.1,477.1 L234.6,476.4 L233.2,475.4 L231.8,474.8 L230.4,474.7 L228.8,475.0 L227.1,475.2 L225.5,474.9 L224.3,473.9 L223.5,472.4 L223.1,470.7 L222.5,469.4 L221.5,468.4 L220.1,467.6 L218.6,466.7 L217.5,465.4 L217.3,463.9 L217.7,462.2 L218.4,460.6 L218.8,459.2 L218.6,457.8 L218.1,456.3 L217.5,454.6 L217.5,453.0 L218.3,451.6 L219.7,450.6 L221.2,449.9 L222.5,449.1 L223.3,447.9 L223.8,446.4 L224.5,444.8 L225.5,443.5 L227.0,443.0 L228.7,443.1 L230.4,443.5 L231.8,443.7 L233.2,443.3 L234.6,442.5 L236.1,441.6 L237.7,441.4 L239.2,441.9 L240.4,443.1 L241.5,444.5 L242.5,445.5 L243.7,446.1 L245.3,446.4 L247.0,446.7 L248.5,447.6 L249.3,448.9 L249.4,450.6 L249.3,452.3 L249.4,453.8 L250.0,455.1 L251.1,456.3 L252.2,457.7Z" fill="#f3ab9e" stroke="#e98674" stroke-width="0.75"/>
<path d="M272.8,461.8 L273.6,463.1 L273.8,464.6 L273.2,465.9 L272.1,467.0 L270.9,467.9 L270.0,468.8 L269.5,470.0 L269.3,471.4 L269.0,472.9 L268.2,474.2 L267.0,474.8 L265.4,475.0 L263.9,474.9 L262.6,475.0 L261.5,475.6 L260.4,476.6 L259.2,477.5 L257.8,478.0 L256.4,477.7 L255.2,476.8 L254.1,475.7 L253.0,475.0 L251.7,474.7 L250.3,474.8 L248.7,474.7 L247.4,474.2 L246.5,473.0 L246.1,471.6 L245.9,470.1 L245.6,468.8 L244.8,467.8 L243.7,466.9 L242.5,465.9 L241.8,464.6 L241.9,463.1 L242.5,461.8 L243.4,460.5 L243.9,459.3 L244.0,458.0 L243.7,456.6 L243.5,455.1 L243.8,453.7 L244.7,452.6 L246.1,451.9 L247.6,451.5 L248.7,451.0 L249.6,450.0 L250.3,448.7 L251.1,447.4 L252.3,446.5 L253.7,446.3 L255.2,446.7 L256.5,447.3 L257.8,447.7 L259.0,447.5 L260.4,446.9 L261.9,446.5 L263.3,446.5 L264.6,447.3 L265.4,448.5 L266.1,449.9 L266.9,451.0 L267.9,451.6 L269.3,452.1 L270.8,452.7 L271.8,453.7 L272.3,455.0 L272.1,456.5 L271.8,458.0 L271.7,459.3 L272.1,460.5Z" fill="#f3ab9e" stroke="#e98674" stroke-width="0.75"/>
<path d="M293.4,460.2 L293.8,461.6 L294.4,463.0 L294.7,464.5 L294.5,465.9 L293.7,467.2 L292.5,468.1 L291.2,468.9 L290.0,469.6 L289.2,470.5 L288.5,471.7 L287.9,473.1 L287.1,474.4 L285.9,475.3 L284.5,475.6 L283.0,475.5 L281.5,475.0 L280.2,474.7 L278.9,474.8 L277.6,475.2 L276.2,475.8 L274.7,476.1 L273.2,475.9 L272.0,475.1 L271.0,473.9 L270.3,472.5 L269.6,471.4 L268.6,470.5 L267.4,469.9 L266.0,469.3 L264.7,468.4 L263.8,467.3 L263.5,465.9 L263.7,464.3 L264.1,462.9 L264.4,461.5 L264.4,460.2 L263.9,458.9 L263.4,457.5 L263.1,456.0 L263.3,454.6 L264.0,453.3 L265.3,452.4 L266.6,451.6 L267.8,450.9 L268.6,450.0 L269.2,448.7 L269.9,447.3 L270.7,446.1 L271.9,445.2 L273.3,444.8 L274.8,445.0 L276.3,445.5 L277.6,445.8 L278.9,445.7 L280.2,445.3 L281.6,444.7 L283.1,444.4 L284.6,444.6 L285.8,445.4 L286.8,446.6 L287.5,447.9 L288.2,449.1 L289.2,450.0 L290.4,450.6 L291.8,451.2 L293.1,452.1 L294.0,453.2 L294.3,454.6 L294.1,456.2 L293.7,457.6 L293.4,459.0Z" fill="#f3ab9e" stroke="#e98674" stroke-width="0.75"/>
<path d="M316.5,462.7 L316.7,463.9 L317.3,465.3 L317.8,466.7 L317.5,468.0 L316.5,469.0 L315.1,469.7 L314.0,470.4 L313.5,471.5 L313.2,472.9 L312.8,474.3 L311.9,475.4 L310.5,475.7 L309.0,475.5 L307.7,475.4 L306.5,475.8 L305.5,476.7 L304.3,477.7 L303.0,478.2 L301.7,477.8 L300.5,476.8 L299.5,475.9 L298.4,475.4 L297.1,475.4 L295.6,475.6 L294.2,475.4 L293.2,474.4 L292.8,473.0 L292.5,471.5 L292.0,470.4 L291.0,469.7 L289.7,468.9 L288.6,468.0 L288.2,466.7 L288.6,465.3 L289.3,463.9 L289.6,462.7 L289.4,461.5 L288.7,460.2 L288.3,458.8 L288.6,457.5 L289.6,456.5 L290.9,455.7 L292.0,455.0 L292.6,454.0 L292.9,452.6 L293.3,451.1 L294.2,450.1 L295.5,449.7 L297.1,449.9 L298.4,450.0 L299.5,449.7 L300.6,448.8 L301.7,447.8 L303.0,447.3 L304.4,447.7 L305.5,448.6 L306.5,449.6 L307.6,450.1 L309.0,450.0 L310.5,449.8 L311.9,450.1 L312.8,451.1 L313.3,452.5 L313.5,453.9 L314.0,455.0 L315.0,455.8 L316.4,456.5 L317.5,457.5 L317.8,458.8 L317.5,460.2 L316.8,461.5Z" fill="#f3ab9e" stroke="#e98674" stroke-width="0.75"/>
<path d="M287.8,481.1 L286.9,482.5 L286.5,483.9 L286.9,485.4 L287.4,487.1 L287.4,488.8 L286.5,490.1 L284.9,490.9 L283.3,491.5 L282.1,492.3 L281.4,493.6 L280.9,495.3 L280.0,496.7 L278.6,497.5 L276.9,497.3 L275.2,496.8 L273.7,496.7 L272.4,497.2 L271.0,498.2 L269.4,499.0 L267.8,498.9 L266.5,498.0 L265.4,496.6 L264.3,495.4 L263.0,495.0 L261.3,495.0 L259.5,494.8 L258.2,494.0 L257.5,492.5 L257.4,490.7 L257.3,489.1 L256.6,487.9 L255.3,486.8 L253.9,485.7 L253.1,484.3 L253.3,482.7 L254.2,481.1 L255.1,479.8 L255.4,478.4 L255.1,476.9 L254.6,475.2 L254.6,473.5 L255.5,472.2 L257.0,471.4 L258.7,470.8 L259.8,470.0 L260.5,468.7 L261.1,467.0 L262.0,465.6 L263.4,464.8 L265.1,465.0 L266.8,465.5 L268.2,465.6 L269.6,465.1 L271.0,464.1 L272.5,463.3 L274.1,463.4 L275.5,464.3 L276.6,465.7 L277.6,466.9 L279.0,467.3 L280.6,467.3 L282.4,467.5 L283.8,468.3 L284.4,469.8 L284.6,471.6 L284.7,473.2 L285.4,474.4 L286.6,475.5 L288.0,476.6 L288.8,478.0 L288.7,479.6Z" fill="#f3ab9e" stroke="#e98674" stroke-width="0.75"/>
<circle cx="248.1" cy="360.3" r="0.55" fill="#e4705f"/>
<circle cx="231.7" cy="363.5" r="0.55" fill="#e4705f"/>
<circle cx="242.9" cy="370.6" r="0.55" fill="#e4705f"/>
<circle cx="232.6" cy="363.3" r="0.55" fill="#e4705f"/>
<circle cx="244.8" cy="358.8" r="0.55" fill="#e4705f"/>
<circle cx="236.0" cy="357.6" r="0.55" fill="#e4705f"/>
<circle cx="238.1" cy="368.6" r="0.55" fill="#e4705f"/>
<circle cx="247.1" cy="364.7" r="0.55" fill="#e4705f"/>
<circle cx="244.5" cy="362.8" r="0.55" fill="#e4705f"/>
<circle cx="255.2" cy="351.3" r="0.55" fill="#e4705f"/>
<circle cx="253.4" cy="365.7" r="0.55" fill="#e4705f"/>
<circle cx="254.5" cy="366.9" r="0.55" fill="#e4705f"/>
<circle cx="255.8" cy="358.9" r="0.55" fill="#e4705f"/>
<circle cx="251.0" cy="353.7" r="0.55" fill="#e4705f"/>
<circle cx="272.7" cy="359.6" r="0.55" fill="#e4705f"/>
<circle cx="261.2" cy="363.2" r="0.55" fill="#e4705f"/>
<circle cx="259.0" cy="361.0" r="0.55" fill="#e4705f"/>
<circle cx="258.3" cy="362.5" r="0.55" fill="#e4705f"/>
<circle cx="257.4" cy="362.6" r="0.55" fill="#e4705f"/>
<circle cx="262.9" cy="363.4" r="0.55" fill="#e4705f"/>
<circle cx="268.2" cy="361.3" r="0.55" fill="#e4705f"/>
<circle cx="268.2" cy="359.9" r="0.55" fill="#e4705f"/>
<circle cx="278.0" cy="353.4" r="0.55" fill="#e4705f"/>
<circle cx="272.3" cy="350.1" r="0.55" fill="#e4705f"/>
<circle cx="279.5" cy="362.6" r="0.55" fill="#e4705f"/>
<circle cx="279.7" cy="366.3" r="0.55" fill="#e4705f"/>
<circle cx="266.6" cy="356.6" r="0.55" fill="#e4705f"/>
<circle cx="268.6" cy="369.6" r="0.55" fill="#e4705f"/>
<circle cx="295.8" cy="360.3" r="0.55" fill="#e4705f"/>
<circle cx="288.9" cy="369.2" r="0.55" fill="#e4705f"/>
<circle cx="296.3" cy="362.2" r="0.55" fill="#e4705f"/>
<circle cx="287.2" cy="350.0" r="0.55" fill="#e4705f"/>
<circle cx="282.0" cy="357.6" r="0.55" fill="#e4705f"/>
<circle cx="293.3" cy="358.8" r="0.55" fill="#e4705f"/>
<circle cx="293.4" cy="364.0" r="0.55" fill="#e4705f"/>
<circle cx="294.5" cy="370.6" r="0.55" fill="#e4705f"/>
<circle cx="305.2" cy="374.9" r="0.55" fill="#e4705f"/>
<circle cx="295.6" cy="366.8" r="0.55" fill="#e4705f"/>
<circle cx="307.3" cy="375.7" r="0.55" fill="#e4705f"/>
<circle cx="300.7" cy="361.4" r="0.55" fill="#e4705f"/>
<circle cx="295.2" cy="371.7" r="0.55" fill="#e4705f"/>
<circle cx="298.3" cy="375.1" r="0.55" fill="#e4705f"/>
<circle cx="318.2" cy="386.6" r="0.55" fill="#e4705f"/>
<circle cx="322.5" cy="385.5" r="0.55" fill="#e4705f"/>
<circle cx="314.1" cy="373.0" r="0.55" fill="#e4705f"/>
<circle cx="322.1" cy="381.2" r="0.55" fill="#e4705f"/>
<circle cx="311.9" cy="382.3" r="0.55" fill="#e4705f"/>
<circle cx="324.3" cy="378.6" r="0.55" fill="#e4705f"/>
<circle cx="307.9" cy="380.2" r="0.55" fill="#e4705f"/>
<circle cx="321.7" cy="395.2" r="0.55" fill="#e4705f"/>
<circle cx="311.4" cy="388.5" r="0.55" fill="#e4705f"/>
<circle cx="317.4" cy="386.5" r="0.55" fill="#e4705f"/>
<circle cx="312.6" cy="383.6" r="0.55" fill="#e4705f"/>
<circle cx="319.5" cy="380.1" r="0.55" fill="#e4705f"/>
<circle cx="325.5" cy="389.2" r="0.55" fill="#e4705f"/>
<circle cx="317.8" cy="397.1" r="0.55" fill="#e4705f"/>
<circle cx="330.8" cy="397.9" r="0.55" fill="#e4705f"/>
<circle cx="333.3" cy="395.3" r="0.55" fill="#e4705f"/>
<circle cx="315.3" cy="398.1" r="0.55" fill="#e4705f"/>
<circle cx="333.2" cy="396.4" r="0.55" fill="#e4705f"/>
<circle cx="321.0" cy="408.6" r="0.55" fill="#e4705f"/>
<circle cx="326.2" cy="405.5" r="0.55" fill="#e4705f"/>
<circle cx="333.6" cy="396.4" r="0.55" fill="#e4705f"/>
<circle cx="331.6" cy="420.1" r="0.55" fill="#e4705f"/>
<circle cx="326.8" cy="408.6" r="0.55" fill="#e4705f"/>
<circle cx="329.9" cy="405.6" r="0.55" fill="#e4705f"/>
<circle cx="332.6" cy="405.5" r="0.55" fill="#e4705f"/>
<circle cx="328.8" cy="410.7" r="0.55" fill="#e4705f"/>
<circle cx="327.5" cy="417.8" r="0.55" fill="#e4705f"/>
<circle cx="324.8" cy="413.0" r="0.55" fill="#e4705f"/>
<circle cx="336.9" cy="428.6" r="0.55" fill="#e4705f"/>
<circle cx="336.8" cy="418.5" r="0.55" fill="#e4705f"/>
<circle cx="333.2" cy="426.5" r="0.55" fill="#e4705f"/>
<circle cx="340.1" cy="419.1" r="0.55" fill="#e4705f"/>
<circle cx="335.1" cy="432.7" r="0.55" fill="#e4705f"/>
<circle cx="331.6" cy="424.0" r="0.55" fill="#e4705f"/>
<circle cx="342.4" cy="419.9" r="0.55" fill="#e4705f"/>
<circle cx="323.8" cy="442.3" r="0.55" fill="#e4705f"/>
<circle cx="333.1" cy="424.8" r="0.55" fill="#e4705f"/>
<circle cx="330.8" cy="443.9" r="0.55" fill="#e4705f"/>
<circle cx="322.6" cy="428.3" r="0.55" fill="#e4705f"/>
<circle cx="324.3" cy="441.1" r="0.55" fill="#e4705f"/>
<circle cx="332.7" cy="427.1" r="0.55" fill="#e4705f"/>
<circle cx="325.3" cy="426.0" r="0.55" fill="#e4705f"/>
<circle cx="338.0" cy="443.7" r="0.55" fill="#e4705f"/>
<circle cx="329.4" cy="439.3" r="0.55" fill="#e4705f"/>
<circle cx="321.8" cy="438.8" r="0.55" fill="#e4705f"/>
<circle cx="334.3" cy="447.8" r="0.55" fill="#e4705f"/>
<circle cx="334.8" cy="437.0" r="0.55" fill="#e4705f"/>
<circle cx="332.5" cy="442.0" r="0.55" fill="#e4705f"/>
<circle cx="320.9" cy="438.3" r="0.55" fill="#e4705f"/>
<circle cx="318.1" cy="454.0" r="0.55" fill="#e4705f"/>
<circle cx="331.2" cy="461.4" r="0.55" fill="#e4705f"/>
<circle cx="326.8" cy="452.7" r="0.55" fill="#e4705f"/>
<circle cx="315.5" cy="465.9" r="0.55" fill="#e4705f"/>
<circle cx="325.0" cy="451.1" r="0.55" fill="#e4705f"/>
<circle cx="316.6" cy="455.4" r="0.55" fill="#e4705f"/>
<circle cx="319.8" cy="465.1" r="0.55" fill="#e4705f"/>
<circle cx="304.9" cy="478.3" r="0.55" fill="#e4705f"/>
<circle cx="315.4" cy="477.4" r="0.55" fill="#e4705f"/>
<circle cx="305.3" cy="475.9" r="0.55" fill="#e4705f"/>
<circle cx="308.3" cy="478.4" r="0.55" fill="#e4705f"/>
<circle cx="299.9" cy="475.4" r="0.55" fill="#e4705f"/>
<circle cx="313.3" cy="474.8" r="0.55" fill="#e4705f"/>
<circle cx="307.0" cy="476.8" r="0.55" fill="#e4705f"/>
<circle cx="293.0" cy="476.0" r="0.55" fill="#e4705f"/>
<circle cx="300.0" cy="483.1" r="0.55" fill="#e4705f"/>
<circle cx="292.3" cy="471.8" r="0.55" fill="#e4705f"/>
<circle cx="287.4" cy="478.6" r="0.55" fill="#e4705f"/>
<circle cx="299.2" cy="475.0" r="0.55" fill="#e4705f"/>
<circle cx="285.7" cy="481.7" r="0.55" fill="#e4705f"/>
<circle cx="302.2" cy="476.8" r="0.55" fill="#e4705f"/>
<circle cx="288.2" cy="477.6" r="0.55" fill="#e4705f"/>
<circle cx="279.1" cy="487.2" r="0.55" fill="#e4705f"/>
<circle cx="287.9" cy="489.4" r="0.55" fill="#e4705f"/>
<circle cx="293.4" cy="484.4" r="0.55" fill="#e4705f"/>
<circle cx="274.6" cy="475.3" r="0.55" fill="#e4705f"/>
<circle cx="272.6" cy="486.2" r="0.55" fill="#e4705f"/>
<circle cx="272.6" cy="474.7" r="0.55" fill="#e4705f"/>
<circle cx="282.2" cy="479.3" r="0.55" fill="#e4705f"/>
<circle cx="281.9" cy="482.9" r="0.55" fill="#e4705f"/>
<circle cx="266.7" cy="491.6" r="0.55" fill="#e4705f"/>
<circle cx="266.9" cy="482.5" r="0.55" fill="#e4705f"/>
<circle cx="270.3" cy="476.4" r="0.55" fill="#e4705f"/>
<circle cx="281.1" cy="491.3" r="0.55" fill="#e4705f"/>
<circle cx="262.3" cy="483.8" r="0.55" fill="#e4705f"/>
<circle cx="248.7" cy="475.1" r="0.55" fill="#e4705f"/>
<circle cx="256.8" cy="482.4" r="0.55" fill="#e4705f"/>
<circle cx="249.6" cy="475.7" r="0.55" fill="#e4705f"/>
<circle cx="261.7" cy="470.1" r="0.55" fill="#e4705f"/>
<circle cx="262.7" cy="481.7" r="0.55" fill="#e4705f"/>
<circle cx="264.3" cy="478.5" r="0.55" fill="#e4705f"/>
<circle cx="263.9" cy="475.0" r="0.55" fill="#e4705f"/>
<circle cx="239.4" cy="468.0" r="0.55" fill="#e4705f"/>
<circle cx="246.9" cy="481.7" r="0.55" fill="#e4705f"/>
<circle cx="246.4" cy="477.8" r="0.55" fill="#e4705f"/>
<circle cx="237.6" cy="473.0" r="0.55" fill="#e4705f"/>
<circle cx="248.3" cy="473.8" r="0.55" fill="#e4705f"/>
<circle cx="235.2" cy="468.2" r="0.55" fill="#e4705f"/>
<circle cx="249.6" cy="481.6" r="0.55" fill="#e4705f"/>
<circle cx="246.9" cy="466.0" r="0.55" fill="#e4705f"/>
<circle cx="232.5" cy="454.8" r="0.55" fill="#e4705f"/>
<circle cx="231.9" cy="472.3" r="0.55" fill="#e4705f"/>
<circle cx="234.1" cy="457.7" r="0.55" fill="#e4705f"/>
<circle cx="241.6" cy="469.3" r="0.55" fill="#e4705f"/>
<circle cx="234.1" cy="469.1" r="0.55" fill="#e4705f"/>
<circle cx="231.8" cy="471.1" r="0.55" fill="#e4705f"/>
<circle cx="226.2" cy="463.7" r="0.55" fill="#e4705f"/>
<circle cx="237.4" cy="458.9" r="0.55" fill="#e4705f"/>
<circle cx="229.6" cy="447.8" r="0.55" fill="#e4705f"/>
<circle cx="230.4" cy="462.0" r="0.55" fill="#e4705f"/>
<circle cx="233.0" cy="464.4" r="0.55" fill="#e4705f"/>
<circle cx="226.8" cy="463.7" r="0.55" fill="#e4705f"/>
<circle cx="229.5" cy="465.8" r="0.55" fill="#e4705f"/>
<circle cx="229.1" cy="440.9" r="0.55" fill="#e4705f"/>
<circle cx="226.4" cy="442.0" r="0.55" fill="#e4705f"/>
<circle cx="226.2" cy="460.6" r="0.55" fill="#e4705f"/>
<circle cx="224.4" cy="460.4" r="0.55" fill="#e4705f"/>
<circle cx="218.6" cy="453.3" r="0.55" fill="#e4705f"/>
<circle cx="218.0" cy="450.5" r="0.55" fill="#e4705f"/>
<circle cx="222.4" cy="457.5" r="0.55" fill="#e4705f"/>
<circle cx="220.1" cy="436.8" r="0.55" fill="#e4705f"/>
<circle cx="214.1" cy="439.5" r="0.55" fill="#e4705f"/>
<circle cx="213.1" cy="445.8" r="0.55" fill="#e4705f"/>
<circle cx="211.1" cy="441.4" r="0.55" fill="#e4705f"/>
<circle cx="223.5" cy="449.7" r="0.55" fill="#e4705f"/>
<circle cx="223.2" cy="439.3" r="0.55" fill="#e4705f"/>
<circle cx="223.5" cy="434.3" r="0.55" fill="#e4705f"/>
<circle cx="214.0" cy="447.2" r="0.55" fill="#e4705f"/>
<circle cx="211.9" cy="449.1" r="0.55" fill="#e4705f"/>
<circle cx="214.0" cy="443.4" r="0.55" fill="#e4705f"/>
<circle cx="221.8" cy="440.3" r="0.55" fill="#e4705f"/>
<circle cx="213.8" cy="444.9" r="0.55" fill="#e4705f"/>
<circle cx="222.1" cy="436.5" r="0.55" fill="#e4705f"/>
<circle cx="211.4" cy="429.1" r="0.55" fill="#e4705f"/>
<circle cx="202.6" cy="426.5" r="0.55" fill="#e4705f"/>
<circle cx="208.4" cy="423.7" r="0.55" fill="#e4705f"/>
<circle cx="210.4" cy="424.2" r="0.55" fill="#e4705f"/>
<circle cx="209.8" cy="427.7" r="0.55" fill="#e4705f"/>
<circle cx="211.1" cy="429.6" r="0.55" fill="#e4705f"/>
<circle cx="197.6" cy="429.7" r="0.55" fill="#e4705f"/>
<circle cx="215.4" cy="429.4" r="0.55" fill="#e4705f"/>
<circle cx="215.1" cy="413.5" r="0.55" fill="#e4705f"/>
<circle cx="199.7" cy="417.2" r="0.55" fill="#e4705f"/>
<circle cx="210.3" cy="422.0" r="0.55" fill="#e4705f"/>
<circle cx="213.2" cy="412.0" r="0.55" fill="#e4705f"/>
<circle cx="199.8" cy="421.7" r="0.55" fill="#e4705f"/>
<circle cx="201.2" cy="409.5" r="0.55" fill="#e4705f"/>
<circle cx="202.6" cy="409.2" r="0.55" fill="#e4705f"/>
<circle cx="211.8" cy="402.7" r="0.55" fill="#e4705f"/>
<circle cx="198.0" cy="402.5" r="0.55" fill="#e4705f"/>
<circle cx="208.0" cy="408.8" r="0.55" fill="#e4705f"/>
<circle cx="204.8" cy="396.0" r="0.55" fill="#e4705f"/>
<circle cx="198.6" cy="400.7" r="0.55" fill="#e4705f"/>
<circle cx="202.1" cy="405.1" r="0.55" fill="#e4705f"/>
<circle cx="203.7" cy="393.4" r="0.55" fill="#e4705f"/>
<circle cx="222.3" cy="396.8" r="0.55" fill="#e4705f"/>
<circle cx="212.3" cy="378.2" r="0.55" fill="#e4705f"/>
<circle cx="219.9" cy="379.1" r="0.55" fill="#e4705f"/>
<circle cx="216.9" cy="380.3" r="0.55" fill="#e4705f"/>
<circle cx="215.3" cy="382.7" r="0.55" fill="#e4705f"/>
<circle cx="213.7" cy="394.0" r="0.55" fill="#e4705f"/>
<circle cx="225.5" cy="380.9" r="0.55" fill="#e4705f"/>
<circle cx="235.8" cy="366.1" r="0.55" fill="#e4705f"/>
<circle cx="235.7" cy="370.5" r="0.55" fill="#e4705f"/>
<circle cx="220.1" cy="366.6" r="0.55" fill="#e4705f"/>
<circle cx="228.3" cy="382.8" r="0.55" fill="#e4705f"/>
<circle cx="221.6" cy="368.3" r="0.55" fill="#e4705f"/>
<circle cx="226.8" cy="378.8" r="0.55" fill="#e4705f"/>
<circle cx="224.8" cy="363.1" r="0.55" fill="#e4705f"/>
<circle cx="249.8" cy="374.2" r="0.55" fill="#e4705f"/>
<circle cx="238.4" cy="359.5" r="0.55" fill="#e4705f"/>
<circle cx="232.3" cy="367.8" r="0.55" fill="#e4705f"/>
<circle cx="251.3" cy="369.0" r="0.55" fill="#e4705f"/>
<circle cx="235.0" cy="355.3" r="0.55" fill="#e4705f"/>
<circle cx="254.5" cy="358.2" r="0.55" fill="#e4705f"/>
<circle cx="247.0" cy="355.7" r="0.55" fill="#e4705f"/>
<circle cx="227.6" cy="388.9" r="0.55" fill="#e4705f"/>
<circle cx="231.9" cy="374.0" r="0.55" fill="#e4705f"/>
<circle cx="229.1" cy="376.2" r="0.55" fill="#e4705f"/>
<circle cx="225.0" cy="377.9" r="0.55" fill="#e4705f"/>
<circle cx="242.8" cy="380.3" r="0.55" fill="#e4705f"/>
<circle cx="236.6" cy="369.2" r="0.55" fill="#e4705f"/>
<circle cx="229.3" cy="375.8" r="0.55" fill="#e4705f"/>
<circle cx="250.1" cy="386.3" r="0.55" fill="#e4705f"/>
<circle cx="247.7" cy="375.5" r="0.55" fill="#e4705f"/>
<circle cx="265.4" cy="388.2" r="0.55" fill="#e4705f"/>
<circle cx="254.6" cy="389.1" r="0.55" fill="#e4705f"/>
<circle cx="259.2" cy="389.3" r="0.55" fill="#e4705f"/>
<circle cx="262.8" cy="383.5" r="0.55" fill="#e4705f"/>
<circle cx="250.6" cy="385.0" r="0.55" fill="#e4705f"/>
<circle cx="272.5" cy="380.1" r="0.55" fill="#e4705f"/>
<circle cx="267.2" cy="380.2" r="0.55" fill="#e4705f"/>
<circle cx="270.0" cy="369.5" r="0.55" fill="#e4705f"/>
<circle cx="288.7" cy="376.5" r="0.55" fill="#e4705f"/>
<circle cx="267.7" cy="381.9" r="0.55" fill="#e4705f"/>
<circle cx="286.9" cy="372.4" r="0.55" fill="#e4705f"/>
<circle cx="273.8" cy="369.5" r="0.55" fill="#e4705f"/>
<circle cx="294.2" cy="379.5" r="0.55" fill="#e4705f"/>
<circle cx="296.3" cy="385.7" r="0.55" fill="#e4705f"/>
<circle cx="291.9" cy="382.3" r="0.55" fill="#e4705f"/>
<circle cx="307.4" cy="385.9" r="0.55" fill="#e4705f"/>
<circle cx="312.5" cy="375.8" r="0.55" fill="#e4705f"/>
<circle cx="299.6" cy="368.0" r="0.55" fill="#e4705f"/>
<circle cx="303.0" cy="370.1" r="0.55" fill="#e4705f"/>
<circle cx="233.1" cy="399.7" r="0.55" fill="#e4705f"/>
<circle cx="215.6" cy="405.4" r="0.55" fill="#e4705f"/>
<circle cx="229.3" cy="413.4" r="0.55" fill="#e4705f"/>
<circle cx="229.6" cy="397.6" r="0.55" fill="#e4705f"/>
<circle cx="211.3" cy="400.9" r="0.55" fill="#e4705f"/>
<circle cx="216.2" cy="397.9" r="0.55" fill="#e4705f"/>
<circle cx="231.4" cy="397.4" r="0.55" fill="#e4705f"/>
<circle cx="244.2" cy="391.8" r="0.55" fill="#e4705f"/>
<circle cx="237.1" cy="405.4" r="0.55" fill="#e4705f"/>
<circle cx="249.8" cy="410.0" r="0.55" fill="#e4705f"/>
<circle cx="240.9" cy="393.7" r="0.55" fill="#e4705f"/>
<circle cx="244.8" cy="407.8" r="0.55" fill="#e4705f"/>
<circle cx="251.3" cy="405.1" r="0.55" fill="#e4705f"/>
<circle cx="249.9" cy="409.5" r="0.55" fill="#e4705f"/>
<circle cx="259.9" cy="397.5" r="0.55" fill="#e4705f"/>
<circle cx="259.2" cy="406.6" r="0.55" fill="#e4705f"/>
<circle cx="278.2" cy="403.7" r="0.55" fill="#e4705f"/>
<circle cx="277.1" cy="408.8" r="0.55" fill="#e4705f"/>
<circle cx="260.8" cy="397.7" r="0.55" fill="#e4705f"/>
<circle cx="262.1" cy="405.1" r="0.55" fill="#e4705f"/>
<circle cx="267.0" cy="407.8" r="0.55" fill="#e4705f"/>
<circle cx="296.1" cy="409.4" r="0.55" fill="#e4705f"/>
<circle cx="286.3" cy="397.0" r="0.55" fill="#e4705f"/>
<circle cx="296.0" cy="394.6" r="0.55" fill="#e4705f"/>
<circle cx="299.5" cy="406.9" r="0.55" fill="#e4705f"/>
<circle cx="287.3" cy="408.9" r="0.55" fill="#e4705f"/>
<circle cx="288.4" cy="389.5" r="0.55" fill="#e4705f"/>
<circle cx="294.7" cy="390.0" r="0.55" fill="#e4705f"/>
<circle cx="311.5" cy="390.8" r="0.55" fill="#e4705f"/>
<circle cx="319.7" cy="403.0" r="0.55" fill="#e4705f"/>
<circle cx="319.1" cy="406.8" r="0.55" fill="#e4705f"/>
<circle cx="313.8" cy="408.4" r="0.55" fill="#e4705f"/>
<circle cx="309.1" cy="387.6" r="0.55" fill="#e4705f"/>
<circle cx="323.1" cy="409.1" r="0.55" fill="#e4705f"/>
<circle cx="327.9" cy="398.7" r="0.55" fill="#e4705f"/>
<circle cx="222.7" cy="421.9" r="0.55" fill="#e4705f"/>
<circle cx="217.2" cy="413.6" r="0.55" fill="#e4705f"/>
<circle cx="202.9" cy="418.0" r="0.55" fill="#e4705f"/>
<circle cx="221.7" cy="419.8" r="0.55" fill="#e4705f"/>
<circle cx="216.8" cy="435.2" r="0.55" fill="#e4705f"/>
<circle cx="203.7" cy="415.8" r="0.55" fill="#e4705f"/>
<circle cx="216.5" cy="434.7" r="0.55" fill="#e4705f"/>
<circle cx="241.0" cy="428.9" r="0.55" fill="#e4705f"/>
<circle cx="233.9" cy="436.2" r="0.55" fill="#e4705f"/>
<circle cx="229.9" cy="429.1" r="0.55" fill="#e4705f"/>
<circle cx="235.6" cy="429.2" r="0.55" fill="#e4705f"/>
<circle cx="227.7" cy="426.5" r="0.55" fill="#e4705f"/>
<circle cx="231.0" cy="433.3" r="0.55" fill="#e4705f"/>
<circle cx="232.0" cy="436.0" r="0.55" fill="#e4705f"/>
<circle cx="266.9" cy="417.1" r="0.55" fill="#e4705f"/>
<circle cx="266.4" cy="428.9" r="0.55" fill="#e4705f"/>
<circle cx="250.0" cy="415.2" r="0.55" fill="#e4705f"/>
<circle cx="247.6" cy="428.1" r="0.55" fill="#e4705f"/>
<circle cx="269.6" cy="422.5" r="0.55" fill="#e4705f"/>
<circle cx="268.6" cy="425.6" r="0.55" fill="#e4705f"/>
<circle cx="250.7" cy="415.7" r="0.55" fill="#e4705f"/>
<circle cx="284.9" cy="416.8" r="0.55" fill="#e4705f"/>
<circle cx="290.4" cy="420.2" r="0.55" fill="#e4705f"/>
<circle cx="284.8" cy="422.8" r="0.55" fill="#e4705f"/>
<circle cx="282.9" cy="411.6" r="0.55" fill="#e4705f"/>
<circle cx="288.1" cy="411.3" r="0.55" fill="#e4705f"/>
<circle cx="275.4" cy="412.1" r="0.55" fill="#e4705f"/>
<circle cx="290.8" cy="425.3" r="0.55" fill="#e4705f"/>
<circle cx="312.7" cy="410.7" r="0.55" fill="#e4705f"/>
<circle cx="297.0" cy="419.1" r="0.55" fill="#e4705f"/>
<circle cx="298.5" cy="413.5" r="0.55" fill="#e4705f"/>
<circle cx="306.5" cy="425.2" r="0.55" fill="#e4705f"/>
<circle cx="299.0" cy="423.0" r="0.55" fill="#e4705f"/>
<circle cx="303.0" cy="432.0" r="0.55" fill="#e4705f"/>
<circle cx="315.2" cy="414.7" r="0.55" fill="#e4705f"/>
<circle cx="312.6" cy="422.2" r="0.55" fill="#e4705f"/>
<circle cx="330.6" cy="432.7" r="0.55" fill="#e4705f"/>
<circle cx="337.3" cy="421.1" r="0.55" fill="#e4705f"/>
<circle cx="336.0" cy="422.2" r="0.55" fill="#e4705f"/>
<circle cx="322.8" cy="428.9" r="0.55" fill="#e4705f"/>
<circle cx="323.2" cy="436.0" r="0.55" fill="#e4705f"/>
<circle cx="313.9" cy="421.2" r="0.55" fill="#e4705f"/>
<circle cx="227.4" cy="432.4" r="0.55" fill="#e4705f"/>
<circle cx="232.4" cy="448.2" r="0.55" fill="#e4705f"/>
<circle cx="220.8" cy="436.1" r="0.55" fill="#e4705f"/>
<circle cx="221.7" cy="429.5" r="0.55" fill="#e4705f"/>
<circle cx="225.5" cy="433.2" r="0.55" fill="#e4705f"/>
<circle cx="223.6" cy="449.5" r="0.55" fill="#e4705f"/>
<circle cx="221.4" cy="432.6" r="0.55" fill="#e4705f"/>
<circle cx="255.3" cy="441.0" r="0.55" fill="#e4705f"/>
<circle cx="252.8" cy="438.5" r="0.55" fill="#e4705f"/>
<circle cx="235.6" cy="445.9" r="0.55" fill="#e4705f"/>
<circle cx="244.1" cy="432.2" r="0.55" fill="#e4705f"/>
<circle cx="255.4" cy="435.8" r="0.55" fill="#e4705f"/>
<circle cx="236.8" cy="439.2" r="0.55" fill="#e4705f"/>
<circle cx="235.6" cy="440.1" r="0.55" fill="#e4705f"/>
<circle cx="269.2" cy="436.7" r="0.55" fill="#e4705f"/>
<circle cx="265.7" cy="455.5" r="0.55" fill="#e4705f"/>
<circle cx="273.3" cy="446.6" r="0.55" fill="#e4705f"/>
<circle cx="258.6" cy="436.8" r="0.55" fill="#e4705f"/>
<circle cx="282.7" cy="440.8" r="0.55" fill="#e4705f"/>
<circle cx="260.6" cy="434.2" r="0.55" fill="#e4705f"/>
<circle cx="256.1" cy="440.1" r="0.55" fill="#e4705f"/>
<circle cx="292.3" cy="435.7" r="0.55" fill="#e4705f"/>
<circle cx="290.3" cy="437.8" r="0.55" fill="#e4705f"/>
<circle cx="290.3" cy="449.9" r="0.55" fill="#e4705f"/>
<circle cx="301.7" cy="438.5" r="0.55" fill="#e4705f"/>
<circle cx="287.2" cy="449.9" r="0.55" fill="#e4705f"/>
<circle cx="297.6" cy="451.8" r="0.55" fill="#e4705f"/>
<circle cx="291.3" cy="453.9" r="0.55" fill="#e4705f"/>
<circle cx="315.8" cy="432.7" r="0.55" fill="#e4705f"/>
<circle cx="319.6" cy="435.6" r="0.55" fill="#e4705f"/>
<circle cx="312.9" cy="436.4" r="0.55" fill="#e4705f"/>
<circle cx="306.7" cy="448.3" r="0.55" fill="#e4705f"/>
<circle cx="320.5" cy="436.4" r="0.55" fill="#e4705f"/>
<circle cx="305.1" cy="450.7" r="0.55" fill="#e4705f"/>
<circle cx="325.0" cy="439.3" r="0.55" fill="#e4705f"/>
<circle cx="238.4" cy="448.3" r="0.55" fill="#e4705f"/>
<circle cx="238.1" cy="449.1" r="0.55" fill="#e4705f"/>
<circle cx="228.0" cy="464.8" r="0.55" fill="#e4705f"/>
<circle cx="233.9" cy="468.0" r="0.55" fill="#e4705f"/>
<circle cx="221.3" cy="459.2" r="0.55" fill="#e4705f"/>
<circle cx="235.4" cy="468.4" r="0.55" fill="#e4705f"/>
<circle cx="233.9" cy="469.2" r="0.55" fill="#e4705f"/>
<circle cx="267.1" cy="465.5" r="0.55" fill="#e4705f"/>
<circle cx="265.5" cy="452.2" r="0.55" fill="#e4705f"/>
<circle cx="253.7" cy="466.9" r="0.55" fill="#e4705f"/>
<circle cx="256.4" cy="450.8" r="0.55" fill="#e4705f"/>
<circle cx="259.9" cy="467.1" r="0.55" fill="#e4705f"/>
<circle cx="253.8" cy="454.6" r="0.55" fill="#e4705f"/>
<circle cx="248.3" cy="460.4" r="0.55" fill="#e4705f"/>
<circle cx="283.7" cy="456.0" r="0.55" fill="#e4705f"/>
<circle cx="278.6" cy="465.9" r="0.55" fill="#e4705f"/>
<circle cx="276.6" cy="454.6" r="0.55" fill="#e4705f"/>
<circle cx="285.0" cy="452.1" r="0.55" fill="#e4705f"/>
<circle cx="271.4" cy="459.7" r="0.55" fill="#e4705f"/>
<circle cx="283.2" cy="455.6" r="0.55" fill="#e4705f"/>
<circle cx="268.5" cy="454.5" r="0.55" fill="#e4705f"/>
<circle cx="300.1" cy="458.2" r="0.55" fill="#e4705f"/>
<circle cx="308.5" cy="467.3" r="0.55" fill="#e4705f"/>
<circle cx="302.3" cy="456.7" r="0.55" fill="#e4705f"/>
<circle cx="314.0" cy="459.6" r="0.55" fill="#e4705f"/>
<circle cx="292.8" cy="457.8" r="0.55" fill="#e4705f"/>
<circle cx="298.9" cy="458.1" r="0.55" fill="#e4705f"/>
<circle cx="298.7" cy="465.7" r="0.55" fill="#e4705f"/>
<circle cx="257.7" cy="486.6" r="0.55" fill="#e4705f"/>
<circle cx="261.5" cy="487.7" r="0.55" fill="#e4705f"/>
<circle cx="263.6" cy="490.1" r="0.55" fill="#e4705f"/>
<circle cx="264.0" cy="492.9" r="0.55" fill="#e4705f"/>
<circle cx="264.0" cy="485.5" r="0.55" fill="#e4705f"/>
<circle cx="265.1" cy="484.0" r="0.55" fill="#e4705f"/>
<circle cx="265.1" cy="491.8" r="0.55" fill="#e4705f"/>
<ellipse cx="231" cy="370" rx="4.6" ry="4.2" fill="#e5563b"/>
<ellipse cx="267" cy="372" rx="4.6" ry="4.2" fill="#e5563b"/>
<ellipse cx="240" cy="391" rx="4.6" ry="4.2" fill="#e5563b"/>
<ellipse cx="210" cy="400" rx="4.6" ry="4.2" fill="#e5563b"/>
<ellipse cx="300" cy="384" rx="4.6" ry="4.2" fill="#e5563b"/>
<ellipse cx="315" cy="414" rx="4.6" ry="4.2" fill="#e5563b"/>
<ellipse cx="257" cy="430" rx="4.6" ry="4.2" fill="#e5563b"/>
<ellipse cx="284" cy="431" rx="4.6" ry="4.2" fill="#e5563b"/>
<ellipse cx="209" cy="436" rx="4.6" ry="4.2" fill="#e5563b"/>
<ellipse cx="236" cy="451" rx="4.6" ry="4.2" fill="#e5563b"/>
<ellipse cx="272" cy="461" rx="4.6" ry="4.2" fill="#e5563b"/>
<ellipse cx="300" cy="465" rx="4.6" ry="4.2" fill="#e5563b"/>
<ellipse cx="313" cy="438" rx="4.6" ry="4.2" fill="#e5563b"/>
<ellipse cx="262" cy="478" rx="4.6" ry="4.2" fill="#e5563b"/>
<path d="M222.7,345.5 C234.4,353.6 251.4,357.0 265.3,353.8 C253.6,345.7 236.6,342.3 222.7,345.5Z" fill="#b7a391" stroke="#3b3632" stroke-width="0.8" stroke-linejoin="round"/>
<ellipse cx="244.0" cy="349.6" rx="2.6" ry="1.5" fill="#7b5b3c" transform="rotate(11 244.0 349.6)"/>
<path d="M211.0,359.6 C203.2,370.0 200.4,385.2 204.0,397.7 C211.8,387.3 214.6,372.1 211.0,359.6Z" fill="#b7a391" stroke="#3b3632" stroke-width="0.8" stroke-linejoin="round"/>
<ellipse cx="207.5" cy="378.6" rx="2.6" ry="1.5" fill="#7b5b3c" transform="rotate(100 207.5 378.6)"/>
<path d="M325.4,376.4 C327.1,390.6 335.9,405.6 347.5,414.0 C345.8,399.8 337.0,384.8 325.4,376.4Z" fill="#b7a391" stroke="#3b3632" stroke-width="0.8" stroke-linejoin="round"/>
<ellipse cx="336.4" cy="395.2" rx="2.6" ry="1.5" fill="#7b5b3c" transform="rotate(60 336.4 395.2)"/>
<path d="M350.5,426.5 C338.4,433.4 328.6,447.0 325.8,460.6 C337.9,453.7 347.7,440.1 350.5,426.5Z" fill="#b7a391" stroke="#3b3632" stroke-width="0.8" stroke-linejoin="round"/>
<ellipse cx="338.1" cy="443.6" rx="2.6" ry="1.5" fill="#7b5b3c" transform="rotate(126 338.1 443.6)"/>
<path d="M190.0,455.0 C197.0,467.3 210.9,477.6 224.7,480.7 C217.7,468.4 203.8,458.1 190.0,455.0Z" fill="#b7a391" stroke="#3b3632" stroke-width="0.8" stroke-linejoin="round"/>
<ellipse cx="207.3" cy="467.9" rx="2.6" ry="1.5" fill="#7b5b3c" transform="rotate(37 207.3 467.9)"/>
<path d="M274.0,494.7 C287.7,497.5 304.3,493.7 315.4,485.2 C301.7,482.4 285.1,486.2 274.0,494.7Z" fill="#b7a391" stroke="#3b3632" stroke-width="0.8" stroke-linejoin="round"/>
<ellipse cx="294.7" cy="489.9" rx="2.6" ry="1.5" fill="#7b5b3c" transform="rotate(-13 294.7 489.9)"/>
<path d="M196,388 C210,384 222,372 230,360 C234,354 240,352 244,350.5" fill="none" stroke="#1b4a8c" stroke-width="1.7" stroke-linecap="round"/>
<path d="M196,388 C210,384 222,372 230,360 C234,354 240,352 244,350.5" fill="none" stroke="#7fa6dc" stroke-width="0.6" stroke-dasharray="0.8 1.3"/>
<path d="M272.3,480.2 C290,486 308,482 318,485 C324,486.5 328,488.5 330.5,491" fill="none" stroke="#1b4a8c" stroke-width="1.7" stroke-linecap="round"/>
<path d="M272.3,480.2 C290,486 308,482 318,485 C324,486.5 328,488.5 330.5,491" fill="none" stroke="#7fa6dc" stroke-width="0.6" stroke-dasharray="0.8 1.3"/>
<circle cx="176.3" cy="362.6" r="7.4" fill="#7a3bb8"/>
<circle cx="177.2" cy="361.9" r="4.1" fill="#5b2790"/>
<circle cx="176.3" cy="362.6" r="5.9" fill="none" stroke="#8d50c8" stroke-width="0.6" opacity="0.6"/>
<circle cx="193.0" cy="357.6" r="7.4" fill="#7a3bb8"/>
<circle cx="193.9" cy="356.9" r="4.1" fill="#5b2790"/>
<circle cx="193.0" cy="357.6" r="5.9" fill="none" stroke="#8d50c8" stroke-width="0.6" opacity="0.6"/>
<circle cx="172.0" cy="391.4" r="7.4" fill="#7a3bb8"/>
<circle cx="172.9" cy="390.7" r="4.1" fill="#5b2790"/>
<circle cx="172.0" cy="391.4" r="5.9" fill="none" stroke="#8d50c8" stroke-width="0.6" opacity="0.6"/>
<circle cx="187.3" cy="414.0" r="7.4" fill="#7a3bb8"/>
<circle cx="188.2" cy="413.3" r="4.1" fill="#5b2790"/>
<circle cx="187.3" cy="414.0" r="5.9" fill="none" stroke="#8d50c8" stroke-width="0.6" opacity="0.6"/>
<circle cx="177.6" cy="430.0" r="7.4" fill="#7a3bb8"/>
<circle cx="178.5" cy="429.3" r="4.1" fill="#5b2790"/>
<circle cx="177.6" cy="430.0" r="5.9" fill="none" stroke="#8d50c8" stroke-width="0.6" opacity="0.6"/>
<circle cx="342.5" cy="365.8" r="7.4" fill="#7a3bb8"/>
<circle cx="343.4" cy="365.1" r="4.1" fill="#5b2790"/>
<circle cx="342.5" cy="365.8" r="5.9" fill="none" stroke="#8d50c8" stroke-width="0.6" opacity="0.6"/>
<circle cx="356.3" cy="391.0" r="7.4" fill="#7a3bb8"/>
<circle cx="357.2" cy="390.3" r="4.1" fill="#5b2790"/>
<circle cx="356.3" cy="391.0" r="5.9" fill="none" stroke="#8d50c8" stroke-width="0.6" opacity="0.6"/>
<circle cx="333.0" cy="473.2" r="7.4" fill="#7a3bb8"/>
<circle cx="333.9" cy="472.5" r="4.1" fill="#5b2790"/>
<circle cx="333.0" cy="473.2" r="5.9" fill="none" stroke="#8d50c8" stroke-width="0.6" opacity="0.6"/>
<circle cx="247.2" cy="499.5" r="7.4" fill="#7a3bb8"/>
<circle cx="248.1" cy="498.8" r="4.1" fill="#5b2790"/>
<circle cx="247.2" cy="499.5" r="5.9" fill="none" stroke="#8d50c8" stroke-width="0.6" opacity="0.6"/>
<circle cx="297.9" cy="505.3" r="7.4" fill="#7a3bb8"/>
<circle cx="298.8" cy="504.6" r="4.1" fill="#5b2790"/>
<circle cx="297.9" cy="505.3" r="5.9" fill="none" stroke="#8d50c8" stroke-width="0.6" opacity="0.6"/>
<circle cx="244.0" cy="367.0" r="7.4" fill="#7a3bb8"/>
<circle cx="244.9" cy="366.3" r="4.1" fill="#5b2790"/>
<circle cx="244.0" cy="367.0" r="5.9" fill="none" stroke="#8d50c8" stroke-width="0.6" opacity="0.6"/>
<circle cx="264.8" cy="383.4" r="7.4" fill="#7a3bb8"/>
<circle cx="265.7" cy="382.7" r="4.1" fill="#5b2790"/>
<circle cx="264.8" cy="383.4" r="5.9" fill="none" stroke="#8d50c8" stroke-width="0.6" opacity="0.6"/>
<circle cx="310.4" cy="381.0" r="7.4" fill="#7a3bb8"/>
<circle cx="311.3" cy="380.3" r="4.1" fill="#5b2790"/>
<circle cx="310.4" cy="381.0" r="5.9" fill="none" stroke="#8d50c8" stroke-width="0.6" opacity="0.6"/>
<circle cx="227.7" cy="401.4" r="7.4" fill="#7a3bb8"/>
<circle cx="228.6" cy="400.7" r="4.1" fill="#5b2790"/>
<circle cx="227.7" cy="401.4" r="5.9" fill="none" stroke="#8d50c8" stroke-width="0.6" opacity="0.6"/>
<circle cx="259.8" cy="401.0" r="7.4" fill="#7a3bb8"/>
<circle cx="260.7" cy="400.3" r="4.1" fill="#5b2790"/>
<circle cx="259.8" cy="401.0" r="5.9" fill="none" stroke="#8d50c8" stroke-width="0.6" opacity="0.6"/>
<circle cx="296.6" cy="402.0" r="7.4" fill="#7a3bb8"/>
<circle cx="297.5" cy="401.3" r="4.1" fill="#5b2790"/>
<circle cx="296.6" cy="402.0" r="5.9" fill="none" stroke="#8d50c8" stroke-width="0.6" opacity="0.6"/>
<circle cx="286.0" cy="416.0" r="7.4" fill="#7a3bb8"/>
<circle cx="286.9" cy="415.3" r="4.1" fill="#5b2790"/>
<circle cx="286.0" cy="416.0" r="5.9" fill="none" stroke="#8d50c8" stroke-width="0.6" opacity="0.6"/>
<circle cx="217.0" cy="428.3" r="7.4" fill="#7a3bb8"/>
<circle cx="217.9" cy="427.6" r="4.1" fill="#5b2790"/>
<circle cx="217.0" cy="428.3" r="5.9" fill="none" stroke="#8d50c8" stroke-width="0.6" opacity="0.6"/>
<circle cx="251.0" cy="445.2" r="7.4" fill="#7a3bb8"/>
<circle cx="251.9" cy="444.5" r="4.1" fill="#5b2790"/>
<circle cx="251.0" cy="445.2" r="5.9" fill="none" stroke="#8d50c8" stroke-width="0.6" opacity="0.6"/>
<circle cx="282.3" cy="445.2" r="7.4" fill="#7a3bb8"/>
<circle cx="283.2" cy="444.5" r="4.1" fill="#5b2790"/>
<circle cx="282.3" cy="445.2" r="5.9" fill="none" stroke="#8d50c8" stroke-width="0.6" opacity="0.6"/>
<circle cx="310.4" cy="443.2" r="7.4" fill="#7a3bb8"/>
<circle cx="311.3" cy="442.5" r="4.1" fill="#5b2790"/>
<circle cx="310.4" cy="443.2" r="5.9" fill="none" stroke="#8d50c8" stroke-width="0.6" opacity="0.6"/>
<circle cx="244.0" cy="469.4" r="7.4" fill="#7a3bb8"/>
<circle cx="244.9" cy="468.7" r="4.1" fill="#5b2790"/>
<circle cx="244.0" cy="469.4" r="5.9" fill="none" stroke="#8d50c8" stroke-width="0.6" opacity="0.6"/>
<path d="M240.7,411.5 C251.5,414.9 265.0,413.2 274.6,407.2 C263.8,403.8 250.3,405.5 240.7,411.5Z" fill="#b7a391" stroke="#3b3632" stroke-width="0.8" stroke-linejoin="round"/>
<ellipse cx="257.6" cy="409.4" rx="2.6" ry="1.5" fill="#7b5b3c" transform="rotate(-7 257.6 409.4)"/>
<path d="M307.4,335.5 L311.5,343 C312,356 308,370 298,383 L294,395.8 L270.8,399.7 L281.6,381.4 L285.8,384 C294,372 299.5,360 300.4,346 L303,343Z" fill="#c9070f"/>
<path d="M180.2,381.0 C181.9,381.5 187.5,381.8 190.4,383.8 C193.3,385.8 194.4,389.5 197.6,392.8 C200.8,396.1 205.2,400.8 209.6,403.6 C214.0,406.4 220.0,408.1 224.0,409.6 C228.0,411.1 232.0,412.1 233.6,412.6 L233,408.4 L260,418.6 L234.8,433.6 L235.4,425.8 C233.5,425.3 228.3,424.1 224.0,422.8 C219.7,421.5 214.0,420.2 209.6,418.0 C205.2,415.8 201.2,412.6 197.6,409.6 C194.0,406.6 190.6,403.2 188.0,400.0 C185.4,396.8 183.3,393.6 182.0,390.4 C180.7,387.2 180.5,382.6 180.2,381.0Z" fill="#c9070f"/>
<text x="607" y="332.6" font-size="18.3" fill="#111" font-weight="bold" text-anchor="start" textLength="220" lengthAdjust="spacingAndGlyphs" >Tumor microenvironment</text>
<text x="480.7" y="376.8" font-size="18" fill="#bd0f1a" font-weight="bold" text-anchor="start" textLength="161" lengthAdjust="spacingAndGlyphs" >Immune Activation</text>
<text x="779" y="382.6" font-size="18" fill="#bd0f1a" font-weight="bold" text-anchor="start" textLength="163" lengthAdjust="spacingAndGlyphs" >Hypoxia Reversion</text>
<path d="M520.0,414.5 L520.4,416.3 L519.9,418.0 L518.9,419.5 L518.1,421.0 L517.8,422.7 L517.6,424.5 L516.9,426.2 L515.6,427.3 L513.9,428.1 L512.4,428.9 L511.2,430.0 L510.1,431.4 L508.7,432.5 L506.9,432.7 L505.1,432.5 L503.5,432.5 L501.9,433.0 L500.3,433.7 L498.6,434.1 L496.9,433.6 L495.4,432.6 L494.0,431.9 L492.3,431.6 L490.5,431.6 L488.7,431.0 L487.5,429.7 L486.7,428.1 L485.8,426.7 L484.5,425.6 L483.0,424.5 L481.9,423.1 L481.6,421.3 L481.8,419.5 L481.8,417.8 L481.4,416.2 L480.7,414.5 L480.6,412.8 L481.2,411.1 L482.3,409.7 L483.1,408.3 L483.5,406.7 L483.6,404.9 L484.2,403.2 L485.5,402.1 L487.0,401.2 L488.4,400.3 L489.4,399.0 L490.5,397.4 L491.8,396.2 L493.5,395.8 L495.3,395.9 L497.0,395.8 L498.6,395.2 L500.3,394.5 L502.1,394.3 L503.8,394.9 L505.3,396.0 L506.7,396.9 L508.3,397.3 L510.1,397.6 L511.7,398.3 L512.8,399.6 L513.5,401.3 L514.3,402.8 L515.5,403.9 L517.0,404.9 L518.1,406.2 L518.5,407.9 L518.4,409.6 L518.5,411.3 L519.1,412.9Z" fill="#a9b1dd" stroke="#858aa8" stroke-width="0.9"/>
<path d="M506.2,415.5 L506.3,416.3 L506.3,417.1 L506.1,417.8 L505.7,418.5 L505.2,419.2 L504.6,419.7 L504.1,420.3 L503.6,420.8 L503.2,421.4 L502.7,422.0 L502.3,422.6 L501.7,423.2 L501.1,423.7 L500.4,424.1 L499.6,424.3 L498.8,424.3 L498.1,424.2 L497.3,424.0 L496.6,423.8 L495.9,423.6 L495.2,423.5 L494.4,423.4 L493.6,423.4 L492.9,423.2 L492.1,422.9 L491.4,422.5 L490.9,421.9 L490.5,421.2 L490.2,420.5 L490.0,419.7 L489.8,419.0 L489.5,418.3 L489.3,417.6 L489.0,417.0 L488.7,416.3 L488.4,415.5 L488.3,414.7 L488.3,413.9 L488.5,413.2 L488.9,412.5 L489.4,411.8 L490.0,411.3 L490.5,410.7 L491.0,410.2 L491.4,409.6 L491.9,409.0 L492.3,408.4 L492.9,407.8 L493.5,407.3 L494.2,406.9 L495.0,406.7 L495.8,406.7 L496.5,406.8 L497.3,407.0 L498.0,407.2 L498.7,407.4 L499.4,407.5 L500.2,407.6 L501.0,407.6 L501.7,407.8 L502.5,408.1 L503.2,408.5 L503.7,409.1 L504.1,409.8 L504.4,410.5 L504.6,411.3 L504.8,412.0 L505.1,412.7 L505.3,413.4 L505.6,414.0 L505.9,414.7Z" fill="#9298cc"/>
<path d="M593.3,404.5 L592.8,406.2 L591.9,407.8 L591.2,409.3 L591.0,411.0 L590.9,412.7 L590.3,414.3 L588.9,415.5 L587.4,416.3 L586.0,417.2 L585.1,418.6 L584.2,420.1 L582.9,421.2 L581.3,421.6 L579.6,421.7 L578.0,422.0 L576.5,422.8 L575.0,423.8 L573.3,424.2 L571.6,423.8 L570.0,423.1 L568.5,422.5 L566.8,422.5 L564.9,422.4 L563.3,421.8 L562.1,420.6 L561.2,419.0 L560.2,417.6 L558.8,416.6 L557.4,415.6 L556.3,414.3 L556.0,412.6 L556.1,410.8 L555.9,409.2 L555.2,407.7 L554.3,406.2 L554.0,404.5 L554.5,402.9 L555.3,401.3 L555.8,399.8 L555.8,398.1 L555.7,396.3 L556.2,394.6 L557.4,393.4 L558.9,392.4 L560.1,391.3 L561.0,389.9 L562.0,388.3 L563.3,387.2 L565.0,386.7 L566.8,386.8 L568.5,386.6 L570.0,385.9 L571.6,385.1 L573.3,384.9 L575.0,385.5 L576.5,386.4 L578.0,387.1 L579.6,387.2 L581.3,387.3 L582.9,387.8 L584.1,389.0 L585.1,390.5 L586.1,391.7 L587.6,392.5 L589.2,393.4 L590.4,394.6 L590.9,396.3 L591.0,398.1 L591.3,399.7 L592.1,401.2 L593.0,402.8Z" fill="#a9b1dd" stroke="#858aa8" stroke-width="0.9"/>
<path d="M579.3,405.5 L579.2,406.3 L578.9,407.0 L578.5,407.7 L578.1,408.3 L577.7,408.9 L577.3,409.6 L577.0,410.2 L576.7,410.9 L576.4,411.6 L576.0,412.2 L575.4,412.8 L574.8,413.3 L574.1,413.6 L573.3,413.7 L572.5,413.7 L571.7,413.7 L571.0,413.6 L570.3,413.6 L569.6,413.7 L568.8,413.8 L568.1,413.8 L567.3,413.8 L566.5,413.6 L565.8,413.3 L565.2,412.8 L564.7,412.2 L564.3,411.5 L563.9,410.8 L563.6,410.2 L563.3,409.6 L562.9,409.0 L562.4,408.4 L562.0,407.7 L561.6,407.0 L561.4,406.3 L561.3,405.5 L561.4,404.7 L561.7,404.0 L562.1,403.3 L562.5,402.7 L562.9,402.1 L563.3,401.4 L563.6,400.8 L563.9,400.1 L564.2,399.4 L564.6,398.8 L565.2,398.2 L565.8,397.7 L566.5,397.4 L567.3,397.3 L568.1,397.3 L568.9,397.3 L569.6,397.4 L570.3,397.4 L571.0,397.3 L571.8,397.2 L572.5,397.2 L573.3,397.2 L574.1,397.4 L574.8,397.7 L575.4,398.2 L575.9,398.8 L576.3,399.5 L576.7,400.2 L577.0,400.8 L577.3,401.4 L577.7,402.0 L578.2,402.6 L578.6,403.3 L579.0,404.0 L579.2,404.7Z" fill="#9298cc"/>
<text x="501.5" y="412.7" font-size="13.5" fill="#111" font-weight="bold" text-anchor="middle" >M1</text>
<text x="501.5" y="429" font-size="13.5" fill="#111" font-weight="bold" text-anchor="middle" >TAM</text>
<text x="574" y="401" font-size="13.5" fill="#111" font-weight="bold" text-anchor="middle" >M2</text>
<text x="574" y="417.7" font-size="13.5" fill="#111" font-weight="bold" text-anchor="middle" >TAM</text>
<path d="M524.6,426.5 L524.6,409.5" stroke="#bb0d12" stroke-width="2.7" fill="none"/>
<path d="M520.7,412.5 L524.6,405 L528.5,412.5 L524.6,410.625Z" fill="#bb0d12"/>
<path d="M591.7,395.5 L591.7,410.9" stroke="#bb0d12" stroke-width="2.7" fill="none"/>
<path d="M587.8000000000001,407.9 L591.7,415.4 L595.6,407.9 L591.7,409.775Z" fill="#bb0d12"/>
<circle cx="530.6" cy="418.9" r="1.5" fill="#f3c95c"/>
<circle cx="536.4" cy="415.3" r="1.5" fill="#f3c95c"/>
<circle cx="534.0" cy="416.5" r="1.5" fill="#f3c95c"/>
<circle cx="535.4" cy="418.5" r="1.5" fill="#f3c95c"/>
<circle cx="530.3" cy="414.0" r="1.5" fill="#f3c95c"/>
<circle cx="609.2" cy="412.4" r="1.7" fill="#6a35a8"/>
<circle cx="600.9" cy="407.2" r="1.7" fill="#6a35a8"/>
<circle cx="608.1" cy="411.1" r="1.7" fill="#6a35a8"/>
<circle cx="606.6" cy="408.5" r="1.7" fill="#6a35a8"/>
<circle cx="606.0" cy="410.3" r="1.7" fill="#6a35a8"/>
<circle cx="605.7" cy="407.7" r="1.7" fill="#6a35a8"/>
<circle cx="604.4" cy="409.1" r="1.7" fill="#6a35a8"/>
<circle cx="607.1" cy="412.7" r="1.7" fill="#6a35a8"/>
<circle cx="609.1" cy="410.0" r="1.7" fill="#6a35a8"/>
<circle cx="540.6" cy="432.6" r="1.3" fill="#3f7fcc"/>
<circle cx="541.8" cy="432.9" r="1.3" fill="#3f7fcc"/>
<circle cx="544.2" cy="429.7" r="1.3" fill="#3f7fcc"/>
<circle cx="538.5" cy="434.3" r="1.3" fill="#3f7fcc"/>
<circle cx="540.8" cy="430.7" r="1.3" fill="#3f7fcc"/>
<circle cx="547.6" cy="432.1" r="1.3" fill="#3f7fcc"/>
<circle cx="463.3" cy="427.9" r="1.3" fill="#9cc3ea"/>
<circle cx="464.7" cy="428.2" r="1.3" fill="#9cc3ea"/>
<circle cx="461.7" cy="429.7" r="1.3" fill="#9cc3ea"/>
<circle cx="469.5" cy="432.1" r="1.3" fill="#9cc3ea"/>
<circle cx="468.1" cy="428.6" r="1.3" fill="#9cc3ea"/>
<circle cx="466.0" cy="429.0" r="1.3" fill="#9cc3ea"/>
<circle cx="486.6" cy="449.8" r="1.7" fill="#6a35a8"/>
<circle cx="488.2" cy="451.0" r="1.7" fill="#6a35a8"/>
<circle cx="487.7" cy="450.8" r="1.7" fill="#6a35a8"/>
<circle cx="481.2" cy="448.1" r="1.7" fill="#6a35a8"/>
<circle cx="489.6" cy="449.2" r="1.7" fill="#6a35a8"/>
<circle cx="489.2" cy="446.0" r="1.7" fill="#6a35a8"/>
<circle cx="485.2" cy="446.8" r="1.7" fill="#6a35a8"/>
<circle cx="485.9" cy="448.7" r="1.7" fill="#6a35a8"/>
<circle cx="481.0" cy="446.6" r="1.7" fill="#6a35a8"/>
<circle cx="547.7" cy="487.6" r="1.3" fill="#3f7fcc"/>
<circle cx="544.9" cy="484.3" r="1.3" fill="#3f7fcc"/>
<circle cx="540.4" cy="486.7" r="1.3" fill="#3f7fcc"/>
<circle cx="544.7" cy="487.3" r="1.3" fill="#3f7fcc"/>
<circle cx="543.8" cy="487.3" r="1.3" fill="#3f7fcc"/>
<circle cx="542.9" cy="487.5" r="1.3" fill="#3f7fcc"/>
<circle cx="449" cy="461.5" r="25" fill="url(#cd4)"/>
<circle cx="500.4" cy="478.6" r="25.6" fill="url(#cd8)"/>
<path d="M519,459.8 L550.4,452.3 M524,466.6 L551.6,460.3" stroke="#111" stroke-width="1.2" fill="none"/>
<g transform="rotate(-12 563.5 449.2)"><rect x="548.0" y="445.59999999999997" width="15" height="7.2" rx="2" fill="#4f9cdb"/><rect x="564.0" y="445.59999999999997" width="15" height="7.2" rx="2" fill="#4f9cdb"/></g>
<g transform="rotate(-12 565.5 459)"><rect x="550.0" y="455.4" width="15" height="7.2" rx="2" fill="#4f9cdb"/><rect x="566.0" y="455.4" width="15" height="7.2" rx="2" fill="#4f9cdb"/></g>
<circle cx="583.9" cy="450.3" r="3.8" fill="#f3121b"/>
<rect x="581.3" y="435.7" width="14" height="8.6" rx="1.8" fill="#6a2fa3" transform="rotate(-27 588.3 440)"/>
<rect x="595.2" y="430.1" width="10.8" height="8.8" rx="1.8" fill="#6a2fa3" transform="rotate(-27 600.6 434.5)"/>
<rect x="590.05" y="444.8" width="21.5" height="9.4" rx="1.8" fill="#6a2fa3" transform="rotate(-27 600.8 449.5)"/>
<path d="M609.9,442.4 L622,433" stroke="#111" stroke-width="1.2" fill="none"/>
<path d="M657.8,427.4 L657.8,429.0 L657.0,430.5 L655.8,431.8 L655.3,433.1 L655.3,434.8 L655.3,436.5 L654.6,438.0 L653.1,438.8 L651.5,439.4 L650.3,440.3 L649.5,441.7 L648.6,443.2 L647.3,444.1 L645.6,444.1 L643.9,443.7 L642.4,443.9 L641.0,444.8 L639.5,445.7 L637.9,445.7 L636.4,444.9 L635.1,443.7 L633.8,443.2 L632.1,443.2 L630.4,443.2 L628.9,442.5 L628.1,441.0 L627.5,439.4 L626.6,438.2 L625.2,437.4 L623.7,436.5 L622.8,435.2 L622.8,433.5 L623.2,431.8 L623.0,430.3 L622.1,428.9 L621.2,427.4 L621.2,425.8 L622.0,424.3 L623.2,423.0 L623.7,421.7 L623.7,420.0 L623.7,418.3 L624.4,416.8 L625.9,416.0 L627.5,415.4 L628.7,414.5 L629.5,413.1 L630.4,411.6 L631.7,410.7 L633.4,410.7 L635.1,411.1 L636.6,410.9 L638.0,410.0 L639.5,409.1 L641.1,409.1 L642.6,409.9 L643.9,411.1 L645.2,411.6 L646.9,411.6 L648.6,411.6 L650.1,412.3 L650.9,413.8 L651.5,415.4 L652.4,416.6 L653.8,417.4 L655.3,418.3 L656.2,419.6 L656.2,421.3 L655.8,423.0 L656.0,424.5 L656.9,425.9Z" fill="#f0a090" stroke="#d94a38" stroke-width="1.5"/>
<circle cx="636.3" cy="425.7" r="7" fill="#ec8673"/><circle cx="636.3" cy="425.7" r="3.6" fill="#de4b36"/>
<circle cx="629.9" cy="429.7" r="0.6" fill="#d9503e"/>
<circle cx="647.5" cy="436.8" r="0.6" fill="#d9503e"/>
<circle cx="650.0" cy="427.8" r="0.6" fill="#d9503e"/>
<circle cx="646.2" cy="422.4" r="0.6" fill="#d9503e"/>
<circle cx="629.0" cy="423.7" r="0.6" fill="#d9503e"/>
<circle cx="649.1" cy="429.9" r="0.6" fill="#d9503e"/>
<circle cx="636.5" cy="417.6" r="0.6" fill="#d9503e"/>
<circle cx="638.1" cy="418.7" r="0.6" fill="#d9503e"/>
<circle cx="640.2" cy="435.9" r="0.6" fill="#d9503e"/>
<circle cx="626.9" cy="426.9" r="0.6" fill="#d9503e"/>
<text x="625.9" y="435.6" font-size="14.2" fill="#111" font-weight="bold" text-anchor="start" textLength="76" lengthAdjust="spacingAndGlyphs" >Cancer cell</text>
<text x="427" y="470.6" font-size="14.5" fill="#111" font-weight="bold" text-anchor="start" >CD4<tspan font-size="9.5" dy="-4.5">+</tspan><tspan dy="4.5"> T</tspan></text>
<text x="479" y="482.4" font-size="14.5" fill="#111" font-weight="bold" text-anchor="start" >CD8<tspan font-size="9.5" dy="-4.5">+</tspan><tspan dy="4.5"> T</tspan></text>
<path d="M476,473.4 L476,456.5" stroke="#bb0d12" stroke-width="2.7" fill="none"/>
<path d="M472.1,459.5 L476,452 L479.9,459.5 L476,457.625Z" fill="#bb0d12"/>
<path d="M528.6,485.7 L528.6,469.1" stroke="#bb0d12" stroke-width="2.7" fill="none"/>
<path d="M524.7,472.1 L528.6,464.6 L532.5,472.1 L528.6,470.225Z" fill="#bb0d12"/>
<path d="M620.3,441 L620.3,457.1" stroke="#bb0d12" stroke-width="2.7" fill="none"/>
<path d="M616.4,454.1 L620.3,461.6 L624.1999999999999,454.1 L620.3,455.975Z" fill="#bb0d12"/>
<text x="595.8" y="470.8" font-size="13.5" fill="#111" font-weight="bold" text-anchor="start" textLength="39" lengthAdjust="spacingAndGlyphs" >PD-L1</text>
<text x="558.4" y="483.5" font-size="13.5" fill="#bd0f1a" font-weight="bold" text-anchor="start" textLength="126.4" lengthAdjust="spacingAndGlyphs" >Immune checkpoint</text>
<rect x="759" y="403.5" width="77" height="27.5" rx="4" fill="url(#gY)" filter="url(#sh3)"/>
<text x="773.8" y="422.3" font-size="15.5" fill="#fff" font-weight="bold" text-anchor="start" textLength="47.2" lengthAdjust="spacingAndGlyphs" >HIF-1a</text>
<rect x="736.6" y="467.5" width="56" height="27.6" rx="4" fill="url(#gO)" filter="url(#sh3)"/>
<text x="748.4" y="487.2" font-size="15.5" fill="#fff" font-weight="bold" text-anchor="start" textLength="30" lengthAdjust="spacingAndGlyphs" >HK1</text>
<rect x="807.9" y="467.3" width="56" height="27.4" rx="4" fill="url(#gB)" filter="url(#sh3)"/>
<text x="820.9" y="486.6" font-size="15.5" fill="#fff" font-weight="bold" text-anchor="start" textLength="30" lengthAdjust="spacingAndGlyphs" >HK2</text>
<rect x="871.8" y="427.7" width="62" height="22.6" rx="4" fill="url(#gG)" filter="url(#sh3)"/>
<text x="885.3" y="444.2" font-size="15.5" fill="#fff" font-weight="bold" text-anchor="start" textLength="34.7" lengthAdjust="spacingAndGlyphs" >PKM</text>
<rect x="924.4" y="414" width="62" height="21.4" rx="4" fill="url(#gGr)" filter="url(#sh3)"/>
<text x="933.7" y="429.4" font-size="15.5" fill="#fff" font-weight="bold" text-anchor="start" textLength="43.8" lengthAdjust="spacingAndGlyphs" >PKM1</text>
<rect x="924.4" y="439.8" width="62" height="22.5" rx="4" fill="url(#gP)" filter="url(#sh3)"/>
<text x="933.7" y="456.2" font-size="15.5" fill="#fff" font-weight="bold" text-anchor="start" textLength="43.8" lengthAdjust="spacingAndGlyphs" >PKM2</text>
<path d="M826,409 L826,424.4" stroke="#bb0d12" stroke-width="2.4" fill="none"/>
<path d="M821.8,421.2 L826,429.2 L830.2,421.2 L826,423.2Z" fill="#bb0d12"/>
<path d="M784.2,473 L784.2,488.0" stroke="#bb0d12" stroke-width="2.4" fill="none"/>
<path d="M780.0,484.8 L784.2,492.8 L788.4000000000001,484.8 L784.2,486.8Z" fill="#bb0d12"/>
<path d="M857.8,473 L857.8,487.8" stroke="#bb0d12" stroke-width="2.4" fill="none"/>
<path d="M853.5999999999999,484.6 L857.8,492.6 L862.0,484.6 L857.8,486.6Z" fill="#bb0d12"/>
<path d="M981.3,414.5 L981.3,428.0" stroke="#bb0d12" stroke-width="2.4" fill="none"/>
<path d="M977.0999999999999,424.8 L981.3,432.8 L985.5,424.8 L981.3,426.8Z" fill="#bb0d12"/>
<path d="M981.3,441.5 L981.3,455.5" stroke="#bb0d12" stroke-width="2.4" fill="none"/>
<path d="M977.0999999999999,452.3 L981.3,460.3 L985.5,452.3 L981.3,454.3Z" fill="#bb0d12"/>
<path d="M797.0,431.5 L769.8,462.1" stroke="#111" stroke-width="2.5" fill="none"/>
<path d="M765.8,466.6 L769.2,456.2 L770.5,461.4 L775.7,462.0Z" fill="#111"/>
<path d="M797.0,431.5 L830.3,461.8" stroke="#111" stroke-width="2.5" fill="none"/>
<path d="M834.7,465.8 L824.3,462.3 L829.5,461.1 L830.3,455.8Z" fill="#111"/>
<path d="M836.5,424.0 L865.4,435.6" stroke="#111" stroke-width="2.5" fill="none"/>
<path d="M871.0,437.8 L860.1,438.2 L864.5,435.2 L863.3,430.0Z" fill="#111"/>
</svg>
</body></html>
